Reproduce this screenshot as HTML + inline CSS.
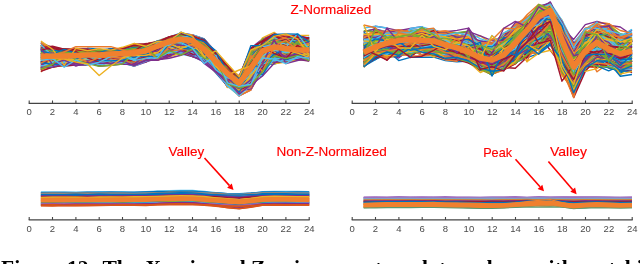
<!DOCTYPE html>
<html><head><meta charset="utf-8"><style>
html,body{margin:0;padding:0;background:#fff;width:640px;height:264px;overflow:hidden}
svg{display:block;will-change:transform}
</style></head><body>
<svg width="640" height="264" viewBox="0 0 640 264">
<g stroke-linejoin="round">
<polyline points="40.9,59.4 52.5,57.0 64.2,54.3 75.9,57.4 87.5,56.1 99.2,54.5 110.9,55.4 122.5,54.5 134.2,54.0 145.9,51.0 157.5,47.8 169.2,41.0 180.9,39.2 192.5,40.1 204.2,51.3 215.9,61.8 227.5,73.2 239.2,82.1 250.9,67.4 262.5,51.6 274.2,46.6 285.9,52.3 297.5,52.1 309.2,43.2" stroke="#0072BD" stroke-width="1.4" fill="none"/>
<polyline points="40.9,62.2 52.5,59.5 64.2,60.5 75.9,59.8 87.5,63.3 99.2,56.8 110.9,57.3 122.5,61.2 134.2,59.9 145.9,56.8 157.5,50.2 169.2,42.7 180.9,45.7 192.5,47.3 204.2,51.5 215.9,64.6 227.5,78.4 239.2,85.8 250.9,76.5 262.5,61.6 274.2,54.0 285.9,52.6 297.5,55.0 309.2,56.4" stroke="#EA7A2C" stroke-width="1.4" fill="none"/>
<polyline points="40.9,62.0 52.5,63.3 64.2,60.2 75.9,62.1 87.5,58.0 99.2,62.0 110.9,59.1 122.5,56.1 134.2,58.9 145.9,56.7 157.5,54.0 169.2,46.4 180.9,43.6 192.5,49.4 204.2,54.8 215.9,68.0 227.5,81.9 239.2,85.4 250.9,80.5 262.5,70.0 274.2,54.8 285.9,53.3 297.5,56.3 309.2,56.2" stroke="#EDB120" stroke-width="1.4" fill="none"/>
<polyline points="40.9,60.3 52.5,56.2 64.2,58.9 75.9,57.6 87.5,59.7 99.2,58.5 110.9,53.9 122.5,54.3 134.2,59.4 145.9,55.8 157.5,48.6 169.2,46.2 180.9,45.2 192.5,47.0 204.2,55.6 215.9,65.7 227.5,77.2 239.2,86.4 250.9,79.5 262.5,49.3 274.2,51.8 285.9,52.8 297.5,50.3 309.2,54.2" stroke="#7E2F8E" stroke-width="1.4" fill="none"/>
<polyline points="40.9,57.3 52.5,54.5 64.2,56.1 75.9,56.6 87.5,54.7 99.2,53.2 110.9,51.9 122.5,55.7 134.2,51.8 145.9,48.9 157.5,45.5 169.2,40.9 180.9,40.0 192.5,39.9 204.2,48.2 215.9,59.0 227.5,73.2 239.2,80.7 250.9,68.2 262.5,55.5 274.2,41.4 285.9,40.5 297.5,50.0 309.2,54.2" stroke="#77AC30" stroke-width="1.4" fill="none"/>
<polyline points="40.9,43.4 52.5,50.2 64.2,49.9 75.9,50.3 87.5,50.4 99.2,51.4 110.9,50.1 122.5,50.0 134.2,46.7 145.9,44.9 157.5,42.2 169.2,37.5 180.9,34.9 192.5,35.4 204.2,39.8 215.9,57.6 227.5,67.4 239.2,78.0 250.9,56.0 262.5,41.6 274.2,37.3 285.9,40.5 297.5,40.6 309.2,37.9" stroke="#4DBEEE" stroke-width="1.4" fill="none"/>
<polyline points="40.9,52.4 52.5,52.1 64.2,53.5 75.9,53.8 87.5,56.5 99.2,52.5 110.9,53.3 122.5,50.2 134.2,51.5 145.9,50.7 157.5,44.9 169.2,40.2 180.9,38.5 192.5,40.3 204.2,49.0 215.9,64.0 227.5,72.4 239.2,80.9 250.9,64.0 262.5,48.7 274.2,45.0 285.9,46.1 297.5,47.9 309.2,43.4" stroke="#A2142F" stroke-width="1.4" fill="none"/>
<polyline points="40.9,67.9 52.5,62.8 64.2,65.8 75.9,65.0 87.5,64.5 99.2,63.8 110.9,60.6 122.5,63.0 134.2,66.0 145.9,57.7 157.5,55.7 169.2,54.5 180.9,47.2 192.5,54.6 204.2,59.0 215.9,73.0 227.5,86.0 239.2,87.0 250.9,86.9 262.5,64.1 274.2,64.0 285.9,60.4 297.5,59.1 309.2,57.0" stroke="#0072BD" stroke-width="1.4" fill="none"/>
<polyline points="40.9,72.0 52.5,60.8 64.2,63.2 75.9,60.4 87.5,61.5 99.2,59.0 110.9,64.0 122.5,57.9 134.2,60.7 145.9,59.2 157.5,53.3 169.2,50.6 180.9,47.2 192.5,50.5 204.2,54.7 215.9,68.0 227.5,81.1 239.2,90.6 250.9,82.6 262.5,65.8 274.2,60.6 285.9,56.4 297.5,55.9 309.2,55.7" stroke="#EA7A2C" stroke-width="1.4" fill="none"/>
<polyline points="40.9,44.9 52.5,51.2 64.2,50.3 75.9,50.7 87.5,51.9 99.2,52.0 110.9,50.7 122.5,48.1 134.2,48.7 145.9,47.1 157.5,41.7 169.2,39.6 180.9,34.7 192.5,36.0 204.2,43.6 215.9,55.6 227.5,68.9 239.2,76.7 250.9,63.5 262.5,42.5 274.2,35.4 285.9,42.5 297.5,40.5 309.2,43.2" stroke="#EDB120" stroke-width="1.4" fill="none"/>
<polyline points="40.9,47.8 52.5,50.3 64.2,50.6 75.9,52.4 87.5,50.7 99.2,50.2 110.9,51.0 122.5,50.6 134.2,47.4 145.9,45.4 157.5,43.5 169.2,37.1 180.9,34.1 192.5,37.1 204.2,40.1 215.9,55.7 227.5,68.1 239.2,79.9 250.9,52.0 262.5,42.1 274.2,39.8 285.9,35.5 297.5,50.0 309.2,40.1" stroke="#7E2F8E" stroke-width="1.4" fill="none"/>
<polyline points="40.9,58.2 52.5,55.3 64.2,53.1 75.9,56.1 87.5,56.1 99.2,54.1 110.9,53.4 122.5,53.9 134.2,50.9 145.9,51.0 157.5,45.9 169.2,40.7 180.9,37.2 192.5,39.9 204.2,47.0 215.9,63.1 227.5,73.2 239.2,84.2 250.9,67.3 262.5,50.9 274.2,44.2 285.9,49.5 297.5,52.8 309.2,48.4" stroke="#77AC30" stroke-width="1.4" fill="none"/>
<polyline points="40.9,58.1 52.5,56.4 64.2,56.0 75.9,57.1 87.5,55.8 99.2,59.2 110.9,55.4 122.5,55.5 134.2,57.2 145.9,51.6 157.5,51.9 169.2,41.7 180.9,39.1 192.5,41.5 204.2,50.9 215.9,60.1 227.5,75.1 239.2,81.6 250.9,77.1 262.5,54.0 274.2,47.1 285.9,47.9 297.5,50.6 309.2,51.0" stroke="#4DBEEE" stroke-width="1.4" fill="none"/>
<polyline points="40.9,55.9 52.5,57.1 64.2,56.3 75.9,58.6 87.5,58.7 99.2,56.4 110.9,56.3 122.5,52.9 134.2,56.4 145.9,52.2 157.5,49.3 169.2,48.4 180.9,37.3 192.5,43.5 204.2,48.6 215.9,64.4 227.5,72.4 239.2,83.5 250.9,71.9 262.5,57.5 274.2,49.6 285.9,48.2 297.5,50.3 309.2,53.5" stroke="#A2142F" stroke-width="1.4" fill="none"/>
<polyline points="40.9,48.8 52.5,55.5 64.2,55.0 75.9,55.2 87.5,53.3 99.2,54.7 110.9,51.8 122.5,53.0 134.2,50.3 145.9,50.1 157.5,45.9 169.2,39.9 180.9,37.8 192.5,39.3 204.2,49.7 215.9,60.7 227.5,69.5 239.2,82.1 250.9,66.5 262.5,56.1 274.2,39.7 285.9,44.2 297.5,50.4 309.2,43.6" stroke="#0072BD" stroke-width="1.4" fill="none"/>
<polyline points="40.9,70.5 52.5,67.0 64.2,62.7 75.9,64.1 87.5,63.2 99.2,65.0 110.9,62.0 122.5,63.0 134.2,61.1 145.9,59.3 157.5,56.9 169.2,56.5 180.9,52.8 192.5,50.9 204.2,61.2 215.9,72.5 227.5,83.2 239.2,92.7 250.9,84.8 262.5,62.5 274.2,61.3 285.9,59.9 297.5,56.0 309.2,60.4" stroke="#EA7A2C" stroke-width="1.4" fill="none"/>
<polyline points="40.9,50.6 52.5,51.8 64.2,56.8 75.9,51.3 87.5,53.8 99.2,54.2 110.9,52.8 122.5,53.1 134.2,48.6 145.9,45.5 157.5,45.2 169.2,39.0 180.9,36.9 192.5,37.4 204.2,48.3 215.9,60.1 227.5,69.6 239.2,82.0 250.9,62.1 262.5,46.8 274.2,43.0 285.9,43.8 297.5,47.1 309.2,46.6" stroke="#EDB120" stroke-width="1.4" fill="none"/>
<polyline points="40.9,57.4 52.5,53.3 64.2,55.4 75.9,55.1 87.5,56.5 99.2,53.5 110.9,56.1 122.5,53.0 134.2,51.5 145.9,48.8 157.5,45.9 169.2,41.0 180.9,37.0 192.5,38.5 204.2,46.8 215.9,58.9 227.5,74.4 239.2,84.7 250.9,68.7 262.5,50.1 274.2,44.0 285.9,46.8 297.5,50.3 309.2,53.1" stroke="#7E2F8E" stroke-width="1.4" fill="none"/>
<polyline points="40.9,57.1 52.5,57.1 64.2,56.0 75.9,55.1 87.5,55.6 99.2,56.4 110.9,58.6 122.5,54.6 134.2,57.8 145.9,55.8 157.5,47.6 169.2,47.8 180.9,42.8 192.5,40.7 204.2,51.4 215.9,62.7 227.5,74.1 239.2,83.7 250.9,70.8 262.5,55.6 274.2,46.0 285.9,49.8 297.5,47.0 309.2,51.6" stroke="#77AC30" stroke-width="1.4" fill="none"/>
<polyline points="40.9,54.9 52.5,55.1 64.2,55.8 75.9,53.7 87.5,53.8 99.2,54.7 110.9,54.6 122.5,53.2 134.2,57.7 145.9,49.6 157.5,46.8 169.2,43.2 180.9,38.2 192.5,38.8 204.2,45.5 215.9,60.4 227.5,74.5 239.2,82.4 250.9,65.8 262.5,48.3 274.2,46.6 285.9,41.1 297.5,48.6 309.2,48.2" stroke="#4DBEEE" stroke-width="1.4" fill="none"/>
<polyline points="40.9,70.1 52.5,57.8 64.2,58.3 75.9,57.4 87.5,61.7 99.2,57.7 110.9,59.8 122.5,58.9 134.2,59.4 145.9,52.8 157.5,50.5 169.2,53.2 180.9,42.0 192.5,44.9 204.2,54.6 215.9,68.5 227.5,79.7 239.2,90.7 250.9,73.0 262.5,66.8 274.2,56.5 285.9,50.2 297.5,57.1 309.2,59.9" stroke="#A2142F" stroke-width="1.4" fill="none"/>
<polyline points="40.9,63.0 52.5,63.6 64.2,57.2 75.9,55.6 87.5,56.5 99.2,58.0 110.9,57.0 122.5,58.6 134.2,59.0 145.9,52.5 157.5,53.3 169.2,53.3 180.9,48.9 192.5,50.3 204.2,54.7 215.9,68.5 227.5,76.2 239.2,90.3 250.9,76.7 262.5,66.9 274.2,55.6 285.9,51.1 297.5,54.2 309.2,57.2" stroke="#0072BD" stroke-width="1.4" fill="none"/>
<polyline points="40.9,47.9 52.5,49.3 64.2,50.3 75.9,53.4 87.5,53.5 99.2,52.9 110.9,51.7 122.5,50.7 134.2,49.0 145.9,46.3 157.5,44.3 169.2,40.2 180.9,37.2 192.5,37.1 204.2,44.3 215.9,56.3 227.5,72.2 239.2,79.7 250.9,50.2 262.5,45.8 274.2,45.2 285.9,43.6 297.5,45.1 309.2,43.4" stroke="#EA7A2C" stroke-width="1.4" fill="none"/>
<polyline points="40.9,64.3 52.5,62.8 64.2,64.4 75.9,64.3 87.5,65.0 99.2,63.0 110.9,64.0 122.5,61.2 134.2,62.4 145.9,62.0 157.5,55.6 169.2,46.4 180.9,48.9 192.5,54.7 204.2,52.6 215.9,70.6 227.5,83.5 239.2,90.5 250.9,80.5 262.5,70.3 274.2,59.9 285.9,62.0 297.5,58.9 309.2,56.0" stroke="#EDB120" stroke-width="1.4" fill="none"/>
<polyline points="40.9,60.4 52.5,61.4 64.2,57.9 75.9,57.2 87.5,59.8 99.2,56.1 110.9,54.5 122.5,52.6 134.2,53.1 145.9,56.9 157.5,45.1 169.2,43.3 180.9,38.2 192.5,42.7 204.2,53.1 215.9,62.2 227.5,76.7 239.2,86.3 250.9,72.4 262.5,62.4 274.2,51.6 285.9,49.2 297.5,49.7 309.2,49.3" stroke="#7E2F8E" stroke-width="1.4" fill="none"/>
<polyline points="40.9,64.3 52.5,67.0 64.2,65.3 75.9,60.5 87.5,60.0 99.2,64.0 110.9,55.9 122.5,58.1 134.2,62.8 145.9,55.0 157.5,52.6 169.2,49.0 180.9,49.6 192.5,50.0 204.2,57.6 215.9,69.4 227.5,80.6 239.2,93.2 250.9,77.2 262.5,58.0 274.2,50.6 285.9,51.8 297.5,54.3 309.2,58.5" stroke="#77AC30" stroke-width="1.4" fill="none"/>
<polyline points="40.9,58.3 52.5,56.3 64.2,57.3 75.9,57.0 87.5,56.2 99.2,54.7 110.9,55.4 122.5,57.7 134.2,51.3 145.9,52.8 157.5,45.1 169.2,45.7 180.9,40.6 192.5,39.5 204.2,52.7 215.9,68.4 227.5,76.7 239.2,89.1 250.9,72.9 262.5,48.7 274.2,52.7 285.9,50.6 297.5,49.2 309.2,54.3" stroke="#4DBEEE" stroke-width="1.4" fill="none"/>
<polyline points="40.9,49.6 52.5,53.8 64.2,52.0 75.9,53.7 87.5,51.5 99.2,53.3 110.9,50.9 122.5,53.0 134.2,50.0 145.9,50.0 157.5,43.2 169.2,39.3 180.9,37.8 192.5,35.3 204.2,43.1 215.9,59.7 227.5,70.9 239.2,81.6 250.9,58.8 262.5,47.6 274.2,39.9 285.9,39.8 297.5,39.3 309.2,43.4" stroke="#A2142F" stroke-width="1.4" fill="none"/>
<polyline points="40.9,62.7 52.5,54.2 64.2,57.3 75.9,59.5 87.5,60.9 99.2,59.1 110.9,57.5 122.5,54.2 134.2,65.1 145.9,54.2 157.5,58.1 169.2,54.1 180.9,47.9 192.5,47.1 204.2,56.4 215.9,64.9 227.5,80.8 239.2,89.9 250.9,82.0 262.5,69.0 274.2,61.9 285.9,54.6 297.5,57.0 309.2,54.1" stroke="#0072BD" stroke-width="1.4" fill="none"/>
<polyline points="40.9,45.1 52.5,47.0 64.2,52.5 75.9,52.1 87.5,52.3 99.2,50.8 110.9,50.8 122.5,49.0 134.2,45.1 145.9,46.6 157.5,42.8 169.2,37.4 180.9,35.6 192.5,35.0 204.2,41.8 215.9,53.6 227.5,66.6 239.2,76.6 250.9,57.8 262.5,43.9 274.2,41.0 285.9,39.7 297.5,36.1 309.2,39.9" stroke="#EA7A2C" stroke-width="1.4" fill="none"/>
<polyline points="40.9,56.5 52.5,57.7 64.2,55.8 75.9,54.1 87.5,54.0 99.2,54.7 110.9,52.1 122.5,53.2 134.2,52.6 145.9,49.3 157.5,45.1 169.2,41.3 180.9,37.7 192.5,39.1 204.2,50.3 215.9,61.0 227.5,76.5 239.2,81.0 250.9,59.0 262.5,53.4 274.2,48.7 285.9,45.4 297.5,44.4 309.2,48.6" stroke="#EDB120" stroke-width="1.4" fill="none"/>
<polyline points="40.9,68.4 52.5,60.4 64.2,63.9 75.9,59.4 87.5,62.8 99.2,65.0 110.9,61.8 122.5,62.9 134.2,62.1 145.9,58.1 157.5,53.4 169.2,56.5 180.9,51.3 192.5,56.5 204.2,56.9 215.9,70.5 227.5,84.1 239.2,96.0 250.9,90.0 262.5,68.5 274.2,57.2 285.9,55.0 297.5,59.5 309.2,58.9" stroke="#7E2F8E" stroke-width="1.4" fill="none"/>
<polyline points="40.9,54.6 52.5,49.6 64.2,52.7 75.9,56.1 87.5,54.7 99.2,54.4 110.9,52.4 122.5,53.5 134.2,56.0 145.9,48.2 157.5,45.4 169.2,40.6 180.9,39.0 192.5,39.8 204.2,47.9 215.9,58.6 227.5,72.4 239.2,81.3 250.9,64.9 262.5,49.3 274.2,47.1 285.9,45.3 297.5,47.2 309.2,51.0" stroke="#77AC30" stroke-width="1.4" fill="none"/>
<polyline points="40.9,50.4 52.5,53.8 64.2,53.6 75.9,53.1 87.5,52.9 99.2,51.2 110.9,52.5 122.5,52.9 134.2,50.7 145.9,46.0 157.5,44.3 169.2,39.0 180.9,36.5 192.5,38.5 204.2,42.9 215.9,60.3 227.5,70.1 239.2,81.4 250.9,62.7 262.5,49.5 274.2,45.0 285.9,39.6 297.5,44.5 309.2,39.4" stroke="#4DBEEE" stroke-width="1.4" fill="none"/>
<polyline points="40.9,63.8 52.5,61.7 64.2,61.9 75.9,57.9 87.5,59.0 99.2,58.5 110.9,59.8 122.5,59.7 134.2,56.4 145.9,62.0 157.5,50.6 169.2,45.4 180.9,45.9 192.5,48.2 204.2,55.0 215.9,63.8 227.5,81.3 239.2,87.5 250.9,82.1 262.5,66.3 274.2,48.3 285.9,50.4 297.5,51.3 309.2,54.2" stroke="#A2142F" stroke-width="1.4" fill="none"/>
<polyline points="40.9,64.4 52.5,59.2 64.2,61.4 75.9,62.5 87.5,56.9 99.2,59.1 110.9,59.0 122.5,57.6 134.2,58.4 145.9,59.8 157.5,56.0 169.2,50.9 180.9,43.7 192.5,54.9 204.2,56.1 215.9,65.4 227.5,78.3 239.2,87.6 250.9,87.3 262.5,63.4 274.2,54.9 285.9,48.8 297.5,55.7 309.2,52.7" stroke="#0072BD" stroke-width="1.4" fill="none"/>
<polyline points="40.9,53.8 52.5,51.1 64.2,54.9 75.9,54.9 87.5,50.9 99.2,52.9 110.9,50.8 122.5,51.7 134.2,51.8 145.9,46.7 157.5,46.6 169.2,39.9 180.9,35.8 192.5,38.6 204.2,47.8 215.9,55.9 227.5,70.8 239.2,78.8 250.9,66.4 262.5,47.5 274.2,41.7 285.9,47.0 297.5,41.6 309.2,44.8" stroke="#EA7A2C" stroke-width="1.4" fill="none"/>
<polyline points="40.9,46.1 52.5,51.4 64.2,51.2 75.9,49.9 87.5,50.3 99.2,50.7 110.9,50.0 122.5,48.6 134.2,45.5 145.9,44.0 157.5,42.5 169.2,38.6 180.9,35.7 192.5,35.0 204.2,43.6 215.9,54.6 227.5,65.0 239.2,78.0 250.9,56.7 262.5,43.5 274.2,39.4 285.9,41.5 297.5,42.0 309.2,40.5" stroke="#EDB120" stroke-width="1.4" fill="none"/>
<polyline points="40.9,47.6 52.5,51.8 64.2,51.9 75.9,53.2 87.5,53.0 99.2,52.1 110.9,53.4 122.5,49.7 134.2,50.4 145.9,46.8 157.5,42.7 169.2,39.9 180.9,35.4 192.5,38.7 204.2,41.9 215.9,56.9 227.5,67.9 239.2,79.2 250.9,56.6 262.5,42.4 274.2,42.3 285.9,38.8 297.5,40.0 309.2,45.9" stroke="#7E2F8E" stroke-width="1.4" fill="none"/>
<polyline points="40.9,60.3 52.5,58.0 64.2,61.7 75.9,54.7 87.5,54.8 99.2,54.5 110.9,56.9 122.5,55.2 134.2,57.4 145.9,54.2 157.5,47.0 169.2,41.4 180.9,38.8 192.5,49.4 204.2,53.4 215.9,64.2 227.5,74.1 239.2,84.0 250.9,69.0 262.5,52.3 274.2,42.2 285.9,49.9 297.5,50.4 309.2,51.9" stroke="#77AC30" stroke-width="1.4" fill="none"/>
<polyline points="40.9,46.8 52.5,47.2 64.2,51.0 75.9,49.0 87.5,49.0 99.2,51.8 110.9,49.0 122.5,48.4 134.2,46.8 145.9,44.0 157.5,42.3 169.2,37.0 180.9,33.0 192.5,35.0 204.2,39.0 215.9,53.2 227.5,65.5 239.2,77.3 250.9,48.0 262.5,46.6 274.2,35.4 285.9,37.0 297.5,38.6 309.2,38.0" stroke="#4DBEEE" stroke-width="1.4" fill="none"/>
<polyline points="40.9,53.1 52.5,55.2 64.2,55.1 75.9,55.0 87.5,52.7 99.2,52.5 110.9,55.4 122.5,51.9 134.2,51.6 145.9,49.9 157.5,46.3 169.2,39.1 180.9,37.0 192.5,38.6 204.2,46.1 215.9,54.4 227.5,71.1 239.2,77.1 250.9,63.9 262.5,49.1 274.2,45.1 285.9,41.9 297.5,48.9 309.2,44.3" stroke="#A2142F" stroke-width="1.4" fill="none"/>
<polyline points="40.9,48.9 52.5,50.7 64.2,53.7 75.9,54.3 87.5,50.3 99.2,52.2 110.9,53.1 122.5,51.8 134.2,50.8 145.9,46.3 157.5,45.2 169.2,38.5 180.9,37.3 192.5,40.0 204.2,49.8 215.9,59.1 227.5,72.0 239.2,79.7 250.9,59.0 262.5,49.5 274.2,42.4 285.9,43.6 297.5,40.8 309.2,45.8" stroke="#0072BD" stroke-width="1.4" fill="none"/>
<polyline points="40.9,66.7 52.5,63.9 64.2,66.0 75.9,63.6 87.5,62.6 99.2,60.9 110.9,60.9 122.5,60.8 134.2,66.0 145.9,58.5 157.5,60.0 169.2,51.0 180.9,50.2 192.5,56.2 204.2,59.1 215.9,69.0 227.5,83.4 239.2,94.8 250.9,78.4 262.5,70.1 274.2,60.5 285.9,58.4 297.5,59.1 309.2,57.7" stroke="#EA7A2C" stroke-width="1.4" fill="none"/>
<polyline points="40.9,50.7 52.5,53.2 64.2,52.7 75.9,54.7 87.5,51.4 99.2,54.0 110.9,51.0 122.5,51.0 134.2,50.0 145.9,50.6 157.5,44.8 169.2,39.3 180.9,38.3 192.5,37.9 204.2,43.4 215.9,58.3 227.5,70.0 239.2,81.4 250.9,57.3 262.5,46.8 274.2,43.1 285.9,43.7 297.5,43.7 309.2,42.7" stroke="#EDB120" stroke-width="1.4" fill="none"/>
<polyline points="40.9,49.5 52.5,51.7 64.2,51.8 75.9,52.1 87.5,50.6 99.2,51.9 110.9,52.1 122.5,50.7 134.2,49.9 145.9,47.6 157.5,44.7 169.2,39.0 180.9,33.9 192.5,38.1 204.2,43.6 215.9,54.6 227.5,70.1 239.2,79.7 250.9,59.2 262.5,43.8 274.2,40.6 285.9,42.3 297.5,47.4 309.2,41.3" stroke="#7E2F8E" stroke-width="1.4" fill="none"/>
<polyline points="40.9,68.1 52.5,59.7 64.2,59.6 75.9,65.0 87.5,58.2 99.2,62.9 110.9,59.1 122.5,58.5 134.2,56.6 145.9,56.3 157.5,57.7 169.2,47.5 180.9,51.0 192.5,52.3 204.2,62.0 215.9,68.2 227.5,85.1 239.2,94.1 250.9,81.6 262.5,59.6 274.2,63.6 285.9,54.0 297.5,55.5 309.2,59.4" stroke="#77AC30" stroke-width="1.4" fill="none"/>
<polyline points="40.9,46.2 52.5,50.2 64.2,51.6 75.9,53.3 87.5,54.5 99.2,49.3 110.9,52.0 122.5,48.0 134.2,48.1 145.9,45.3 157.5,45.1 169.2,39.1 180.9,34.7 192.5,36.8 204.2,42.2 215.9,56.4 227.5,68.3 239.2,79.9 250.9,62.6 262.5,45.8 274.2,36.3 285.9,36.8 297.5,39.4 309.2,45.2" stroke="#4DBEEE" stroke-width="1.4" fill="none"/>
<polyline points="40.9,65.6 52.5,64.2 64.2,60.4 75.9,60.2 87.5,63.2 99.2,61.6 110.9,60.3 122.5,61.0 134.2,60.8 145.9,57.3 157.5,54.8 169.2,54.1 180.9,50.1 192.5,48.2 204.2,57.7 215.9,71.3 227.5,86.0 239.2,89.4 250.9,85.3 262.5,67.7 274.2,62.1 285.9,59.4 297.5,59.5 309.2,59.1" stroke="#A2142F" stroke-width="1.4" fill="none"/>
<polyline points="40.9,55.5 52.5,57.3 64.2,57.2 75.9,60.4 87.5,58.7 99.2,53.8 110.9,55.1 122.5,52.3 134.2,50.5 145.9,52.8 157.5,48.1 169.2,40.8 180.9,44.7 192.5,39.6 204.2,47.4 215.9,63.4 227.5,74.5 239.2,83.1 250.9,68.5 262.5,53.1 274.2,47.2 285.9,48.5 297.5,45.1 309.2,47.0" stroke="#0072BD" stroke-width="1.4" fill="none"/>
<polyline points="40.9,49.5 52.5,53.4 64.2,55.2 75.9,52.7 87.5,53.2 99.2,55.5 110.9,52.9 122.5,53.6 134.2,52.5 145.9,49.3 157.5,44.1 169.2,39.1 180.9,35.6 192.5,39.0 204.2,46.7 215.9,57.7 227.5,71.8 239.2,79.6 250.9,65.2 262.5,46.7 274.2,42.2 285.9,43.8 297.5,44.4 309.2,51.5" stroke="#EA7A2C" stroke-width="1.4" fill="none"/>
<polyline points="40.9,69.8 52.5,67.0 64.2,65.6 75.9,62.7 87.5,65.0 99.2,61.1 110.9,59.6 122.5,62.4 134.2,59.9 145.9,54.6 157.5,60.0 169.2,56.1 180.9,53.5 192.5,52.1 204.2,60.2 215.9,68.7 227.5,86.0 239.2,95.7 250.9,89.3 262.5,61.8 274.2,63.7 285.9,62.0 297.5,59.5 309.2,60.8" stroke="#EDB120" stroke-width="1.4" fill="none"/>
<polyline points="40.9,43.1 52.5,48.2 64.2,50.2 75.9,50.0 87.5,49.2 99.2,51.6 110.9,49.0 122.5,48.5 134.2,44.5 145.9,46.1 157.5,42.9 169.2,38.6 180.9,34.6 192.5,35.0 204.2,44.4 215.9,53.9 227.5,65.7 239.2,76.7 250.9,48.6 262.5,41.2 274.2,36.1 285.9,35.9 297.5,35.5 309.2,38.2" stroke="#7E2F8E" stroke-width="1.4" fill="none"/>
<polyline points="40.9,62.6 52.5,58.8 64.2,59.8 75.9,60.2 87.5,56.9 99.2,60.8 110.9,53.5 122.5,53.9 134.2,54.4 145.9,49.4 157.5,47.2 169.2,49.6 180.9,47.2 192.5,45.4 204.2,57.4 215.9,65.4 227.5,75.9 239.2,87.4 250.9,73.7 262.5,61.9 274.2,46.8 285.9,55.1 297.5,51.9 309.2,55.1" stroke="#77AC30" stroke-width="1.4" fill="none"/>
<polyline points="40.9,52.1 52.5,53.8 64.2,55.6 75.9,52.4 87.5,56.0 99.2,54.2 110.9,52.3 122.5,53.7 134.2,51.2 145.9,50.7 157.5,49.3 169.2,41.2 180.9,37.2 192.5,38.8 204.2,48.3 215.9,59.8 227.5,70.1 239.2,80.4 250.9,66.0 262.5,56.9 274.2,37.1 285.9,47.4 297.5,46.0 309.2,49.0" stroke="#4DBEEE" stroke-width="1.4" fill="none"/>
<polyline points="40.9,69.3 52.5,62.7 64.2,61.4 75.9,59.7 87.5,65.0 99.2,62.7 110.9,61.1 122.5,60.7 134.2,60.1 145.9,60.6 157.5,60.0 169.2,56.5 180.9,46.7 192.5,56.5 204.2,57.8 215.9,66.5 227.5,80.6 239.2,91.1 250.9,85.9 262.5,66.2 274.2,55.7 285.9,58.8 297.5,59.5 309.2,57.4" stroke="#A2142F" stroke-width="1.4" fill="none"/>
<polyline points="40.9,61.2 52.5,65.0 64.2,55.3 75.9,60.3 87.5,55.3 99.2,56.7 110.9,56.7 122.5,62.3 134.2,54.7 145.9,50.1 157.5,53.6 169.2,43.3 180.9,42.8 192.5,45.0 204.2,53.3 215.9,64.4 227.5,77.7 239.2,87.7 250.9,78.0 262.5,56.0 274.2,49.3 285.9,49.5 297.5,53.8 309.2,53.0" stroke="#0072BD" stroke-width="1.4" fill="none"/>
<polyline points="40.9,49.5 52.5,53.2 64.2,52.0 75.9,52.5 87.5,49.9 99.2,50.0 110.9,50.6 122.5,48.8 134.2,49.0 145.9,44.8 157.5,43.0 169.2,37.0 180.9,34.0 192.5,36.8 204.2,42.5 215.9,52.3 227.5,68.5 239.2,80.1 250.9,58.3 262.5,42.1 274.2,37.5 285.9,37.4 297.5,42.9 309.2,45.8" stroke="#EA7A2C" stroke-width="1.4" fill="none"/>
<polyline points="40.9,49.6 52.5,54.8 64.2,55.9 75.9,50.9 87.5,54.2 99.2,57.7 110.9,54.1 122.5,53.3 134.2,52.3 145.9,51.3 157.5,44.3 169.2,40.1 180.9,38.8 192.5,38.9 204.2,48.4 215.9,56.4 227.5,73.4 239.2,83.1 250.9,65.0 262.5,49.5 274.2,49.8 285.9,43.6 297.5,45.1 309.2,45.1" stroke="#EDB120" stroke-width="1.4" fill="none"/>
<polyline points="40.9,42.7 52.5,47.6 64.2,49.2 75.9,49.0 87.5,49.0 99.2,51.4 110.9,49.7 122.5,48.6 134.2,45.9 145.9,44.9 157.5,42.5 169.2,38.2 180.9,33.2 192.5,35.0 204.2,39.0 215.9,52.0 227.5,68.7 239.2,76.0 250.9,48.0 262.5,39.0 274.2,34.0 285.9,38.4 297.5,35.5 309.2,40.4" stroke="#7E2F8E" stroke-width="1.4" fill="none"/>
<polyline points="40.9,58.5 52.5,59.4 64.2,60.5 75.9,56.9 87.5,52.9 99.2,53.8 110.9,53.6 122.5,56.3 134.2,53.2 145.9,52.0 157.5,45.2 169.2,41.6 180.9,39.6 192.5,39.3 204.2,49.9 215.9,62.6 227.5,72.2 239.2,84.1 250.9,72.6 262.5,49.7 274.2,45.4 285.9,46.1 297.5,46.4 309.2,48.8" stroke="#77AC30" stroke-width="1.4" fill="none"/>
<polyline points="40.9,55.3 52.5,53.0 64.2,53.2 75.9,52.0 87.5,52.4 99.2,54.0 110.9,51.6 122.5,51.5 134.2,54.2 145.9,50.6 157.5,44.1 169.2,41.1 180.9,37.0 192.5,41.9 204.2,45.8 215.9,59.4 227.5,74.0 239.2,80.2 250.9,68.5 262.5,46.2 274.2,44.5 285.9,44.6 297.5,46.3 309.2,47.3" stroke="#4DBEEE" stroke-width="1.4" fill="none"/>
<polyline points="40.9,50.8 52.5,55.6 64.2,55.5 75.9,55.9 87.5,55.6 99.2,52.1 110.9,54.4 122.5,54.0 134.2,50.3 145.9,50.7 157.5,47.1 169.2,40.1 180.9,36.2 192.5,38.9 204.2,53.8 215.9,59.9 227.5,69.6 239.2,81.2 250.9,59.8 262.5,47.5 274.2,44.5 285.9,39.1 297.5,48.0 309.2,50.8" stroke="#A2142F" stroke-width="1.4" fill="none"/>
<polyline points="40.9,46.8 52.5,51.9 64.2,49.8 75.9,49.8 87.5,49.6 99.2,51.0 110.9,51.3 122.5,50.0 134.2,48.6 145.9,47.6 157.5,43.4 169.2,38.0 180.9,35.0 192.5,38.4 204.2,40.7 215.9,55.1 227.5,67.5 239.2,78.4 250.9,51.1 262.5,40.2 274.2,45.5 285.9,42.8 297.5,38.8 309.2,41.7" stroke="#0072BD" stroke-width="1.4" fill="none"/>
<polyline points="40.9,67.4 52.5,65.9 64.2,62.5 75.9,62.2 87.5,62.6 99.2,61.8 110.9,56.8 122.5,60.9 134.2,63.8 145.9,60.5 157.5,54.1 169.2,54.2 180.9,51.3 192.5,47.2 204.2,53.7 215.9,71.5 227.5,80.8 239.2,95.7 250.9,90.0 262.5,67.5 274.2,57.8 285.9,58.9 297.5,58.6 309.2,56.0" stroke="#EA7A2C" stroke-width="1.4" fill="none"/>
<polyline points="40.9,56.7 52.5,55.4 64.2,49.5 75.9,50.2 87.5,49.4 99.2,52.7 110.9,50.5 122.5,51.9 134.2,43.5 145.9,52.0 157.5,42.4 169.2,40.1 180.9,34.7 192.5,35.8 204.2,44.9 215.9,59.1 227.5,67.0 239.2,77.8 250.9,61.5 262.5,37.8 274.2,32.4 285.9,42.4 297.5,35.4 309.2,35.4" stroke="#EDB120" stroke-width="1.4" fill="none"/>
<polyline points="40.9,55.5 52.5,51.7 64.2,51.9 75.9,57.2 87.5,61.1 99.2,55.5 110.9,53.0 122.5,57.0 134.2,59.8 145.9,50.9 157.5,52.1 169.2,51.8 180.9,40.2 192.5,39.2 204.2,53.7 215.9,64.8 227.5,82.4 239.2,79.7 250.9,64.7 262.5,47.9 274.2,37.9 285.9,51.6 297.5,54.1 309.2,47.3" stroke="#7E2F8E" stroke-width="1.4" fill="none"/>
<polyline points="40.9,61.7 52.5,58.7 64.2,57.3 75.9,59.4 87.5,50.6 99.2,57.3 110.9,56.3 122.5,48.2 134.2,54.3 145.9,49.4 157.5,50.5 169.2,40.3 180.9,38.8 192.5,42.1 204.2,44.1 215.9,64.1 227.5,72.4 239.2,85.3 250.9,61.3 262.5,62.8 274.2,50.9 285.9,46.4 297.5,52.3 309.2,56.1" stroke="#77AC30" stroke-width="1.4" fill="none"/>
<polyline points="40.9,45.5 52.5,60.7 64.2,58.2 75.9,55.1 87.5,51.9 99.2,61.2 110.9,50.8 122.5,56.1 134.2,61.3 145.9,45.3 157.5,45.2 169.2,38.5 180.9,40.9 192.5,52.4 204.2,62.0 215.9,52.9 227.5,71.0 239.2,87.4 250.9,85.1 262.5,56.0 274.2,42.0 285.9,50.3 297.5,49.7 309.2,48.5" stroke="#4DBEEE" stroke-width="1.4" fill="none"/>
<polyline points="40.9,57.9 52.5,56.6 64.2,55.0 75.9,54.1 87.5,50.5 99.2,52.9 110.9,59.0 122.5,52.5 134.2,46.0 145.9,57.1 157.5,48.3 169.2,55.8 180.9,38.9 192.5,38.7 204.2,40.8 215.9,67.9 227.5,87.5 239.2,79.4 250.9,59.5 262.5,55.9 274.2,40.3 285.9,45.4 297.5,46.0 309.2,49.9" stroke="#A2142F" stroke-width="1.4" fill="none"/>
<polyline points="40.9,53.0 52.5,58.1 64.2,52.7 75.9,54.8 87.5,48.3 99.2,49.1 110.9,55.3 122.5,50.5 134.2,53.3 145.9,50.8 157.5,51.5 169.2,43.7 180.9,42.9 192.5,38.7 204.2,43.0 215.9,55.5 227.5,69.2 239.2,77.2 250.9,57.2 262.5,47.2 274.2,45.2 285.9,42.8 297.5,33.8 309.2,46.1" stroke="#0072BD" stroke-width="1.4" fill="none"/>
<polyline points="40.9,61.8 52.5,57.0 64.2,52.4 75.9,51.9 87.5,63.1 99.2,56.8 110.9,61.2 122.5,61.8 134.2,47.8 145.9,50.7 157.5,46.4 169.2,42.8 180.9,40.4 192.5,40.0 204.2,48.3 215.9,52.5 227.5,71.1 239.2,79.0 250.9,65.3 262.5,45.8 274.2,48.9 285.9,51.4 297.5,49.4 309.2,49.5" stroke="#EA7A2C" stroke-width="1.4" fill="none"/>
<polyline points="40.9,60.2 52.5,60.2 64.2,58.1 75.9,61.7 87.5,59.7 99.2,62.5 110.9,53.0 122.5,62.1 134.2,54.0 145.9,51.7 157.5,51.1 169.2,44.3 180.9,48.2 192.5,43.3 204.2,48.7 215.9,61.9 227.5,87.4 239.2,89.3 250.9,65.5 262.5,62.6 274.2,42.9 285.9,63.6 297.5,45.6 309.2,57.7" stroke="#EDB120" stroke-width="1.4" fill="none"/>
<polyline points="40.9,52.1 52.5,52.1 64.2,51.6 75.9,53.3 87.5,52.9 99.2,50.4 110.9,53.5 122.5,50.4 134.2,49.2 145.9,46.5 157.5,43.8 169.2,40.3 180.9,35.0 192.5,35.8 204.2,43.1 215.9,54.1 227.5,67.8 239.2,79.2 250.9,57.4 262.5,47.9 274.2,37.6 285.9,42.7 297.5,41.0 309.2,46.8" stroke="#7E2F8E" stroke-width="1.4" fill="none"/>
<polyline points="40.9,53.1 52.5,56.3 64.2,53.1 75.9,51.4 87.5,51.6 99.2,51.3 110.9,51.5 122.5,51.6 134.2,52.4 145.9,49.6 157.5,44.9 169.2,39.8 180.9,36.5 192.5,38.9 204.2,46.6 215.9,59.1 227.5,71.5 239.2,80.7 250.9,54.2 262.5,44.7 274.2,40.9 285.9,49.0 297.5,44.3 309.2,47.8" stroke="#77AC30" stroke-width="1.4" fill="none"/>
<polyline points="40.9,64.1 52.5,59.8 64.2,59.7 75.9,57.6 87.5,59.9 99.2,61.5 110.9,59.4 122.5,59.1 134.2,60.4 145.9,60.0 157.5,50.2 169.2,48.4 180.9,47.6 192.5,51.3 204.2,48.9 215.9,65.2 227.5,78.3 239.2,85.9 250.9,81.1 262.5,62.7 274.2,52.9 285.9,49.8 297.5,51.5 309.2,52.5" stroke="#4DBEEE" stroke-width="1.4" fill="none"/>
<polyline points="40.9,57.9 52.5,55.2 64.2,56.4 75.9,57.6 87.5,61.7 99.2,63.3 110.9,56.4 122.5,58.5 134.2,61.0 145.9,57.4 157.5,50.4 169.2,42.7 180.9,42.8 192.5,40.3 204.2,54.3 215.9,67.1 227.5,73.1 239.2,87.2 250.9,76.6 262.5,65.6 274.2,57.4 285.9,55.2 297.5,51.9 309.2,52.9" stroke="#A2142F" stroke-width="1.4" fill="none"/>
<polyline points="40.9,64.3 52.5,62.7 64.2,65.3 75.9,61.7 87.5,58.5 99.2,60.6 110.9,61.5 122.5,59.1 134.2,64.1 145.9,60.6 157.5,52.9 169.2,49.4 180.9,48.1 192.5,46.6 204.2,58.2 215.9,68.2 227.5,83.2 239.2,89.5 250.9,77.8 262.5,75.7 274.2,54.6 285.9,55.3 297.5,54.5 309.2,56.2" stroke="#0072BD" stroke-width="1.4" fill="none"/>
<polyline points="40.9,58.4 52.5,55.9 64.2,56.5 75.9,57.4 87.5,57.7 99.2,57.2 110.9,53.9 122.5,55.6 134.2,54.4 145.9,51.9 157.5,44.9 169.2,45.5 180.9,40.8 192.5,48.0 204.2,52.7 215.9,60.6 227.5,72.3 239.2,87.7 250.9,67.1 262.5,57.7 274.2,48.2 285.9,55.9 297.5,51.4 309.2,54.8" stroke="#EA7A2C" stroke-width="1.4" fill="none"/>
<polyline points="40.9,62.0 52.5,60.2 64.2,63.4 75.9,59.7 87.5,57.7 99.2,61.9 110.9,63.6 122.5,57.7 134.2,62.5 145.9,55.4 157.5,56.1 169.2,47.6 180.9,49.9 192.5,49.5 204.2,54.7 215.9,67.3 227.5,77.8 239.2,86.0 250.9,73.4 262.5,62.1 274.2,51.1 285.9,55.8 297.5,55.3 309.2,56.1" stroke="#EDB120" stroke-width="1.4" fill="none"/>
<polyline points="40.9,61.6 52.5,59.5 64.2,61.9 75.9,57.0 87.5,57.4 99.2,57.7 110.9,56.9 122.5,55.2 134.2,55.5 145.9,56.6 157.5,48.7 169.2,49.1 180.9,50.0 192.5,49.7 204.2,49.1 215.9,67.0 227.5,78.7 239.2,88.6 250.9,67.9 262.5,62.8 274.2,48.8 285.9,56.3 297.5,55.1 309.2,59.1" stroke="#7E2F8E" stroke-width="1.4" fill="none"/>
<polyline points="40.9,56.5 52.5,61.6 64.2,60.8 75.9,57.7 87.5,60.8 99.2,59.4 110.9,54.5 122.5,55.8 134.2,55.8 145.9,53.9 157.5,50.8 169.2,44.0 180.9,43.2 192.5,47.2 204.2,53.1 215.9,64.4 227.5,76.5 239.2,86.7 250.9,66.4 262.5,59.4 274.2,48.6 285.9,52.9 297.5,50.1 309.2,55.4" stroke="#77AC30" stroke-width="1.4" fill="none"/>
<polyline points="40.9,65.5 52.5,65.9 64.2,63.0 75.9,65.0 87.5,64.5 99.2,61.9 110.9,63.0 122.5,61.5 134.2,66.0 145.9,61.1 157.5,59.4 169.2,51.0 180.9,54.0 192.5,56.5 204.2,61.7 215.9,71.2 227.5,84.6 239.2,91.6 250.9,87.6 262.5,66.8 274.2,61.6 285.9,59.0 297.5,56.5 309.2,60.7" stroke="#4DBEEE" stroke-width="1.4" fill="none"/>
<polyline points="40.9,66.3 52.5,60.1 64.2,66.0 75.9,65.0 87.5,63.1 99.2,65.0 110.9,61.6 122.5,60.6 134.2,60.2 145.9,55.9 157.5,55.3 169.2,49.5 180.9,47.4 192.5,53.1 204.2,57.2 215.9,65.3 227.5,80.9 239.2,89.3 250.9,80.8 262.5,61.5 274.2,61.9 285.9,62.0 297.5,54.0 309.2,58.4" stroke="#A2142F" stroke-width="1.4" fill="none"/>
<polyline points="40.9,58.5 52.5,60.0 64.2,62.2 75.9,60.4 87.5,61.7 99.2,56.1 110.9,55.9 122.5,57.4 134.2,58.4 145.9,54.6 157.5,49.7 169.2,45.5 180.9,42.5 192.5,47.4 204.2,47.3 215.9,69.1 227.5,76.4 239.2,83.7 250.9,77.9 262.5,52.5 274.2,54.1 285.9,52.0 297.5,54.3 309.2,55.5" stroke="#0072BD" stroke-width="1.4" fill="none"/>
<polyline points="40.9,45.4 52.5,48.4 64.2,51.0 75.9,49.1 87.5,51.5 99.2,50.9 110.9,49.1 122.5,51.0 134.2,49.3 145.9,44.2 157.5,43.0 169.2,39.5 180.9,35.9 192.5,35.5 204.2,39.1 215.9,54.6 227.5,66.6 239.2,78.0 250.9,53.4 262.5,43.8 274.2,36.3 285.9,38.9 297.5,48.3 309.2,40.5" stroke="#EA7A2C" stroke-width="1.4" fill="none"/>
<polyline points="40.9,52.5 52.5,53.0 64.2,52.3 75.9,53.9 87.5,52.9 99.2,53.9 110.9,54.6 122.5,51.9 134.2,51.4 145.9,47.0 157.5,44.4 169.2,41.4 180.9,37.0 192.5,37.9 204.2,46.3 215.9,57.9 227.5,70.1 239.2,80.1 250.9,69.1 262.5,44.8 274.2,41.4 285.9,42.5 297.5,48.6 309.2,44.8" stroke="#EDB120" stroke-width="1.4" fill="none"/>
<polyline points="40.9,55.9 52.5,55.2 64.2,53.4 75.9,57.0 87.5,55.3 99.2,55.0 110.9,53.5 122.5,52.7 134.2,50.2 145.9,51.9 157.5,45.9 169.2,40.9 180.9,38.0 192.5,40.2 204.2,48.5 215.9,64.4 227.5,74.4 239.2,81.6 250.9,62.0 262.5,49.5 274.2,43.6 285.9,47.7 297.5,50.0 309.2,50.5" stroke="#7E2F8E" stroke-width="1.4" fill="none"/>
<polyline points="40.9,47.6 52.5,51.2 64.2,50.5 75.9,51.5 87.5,52.3 99.2,51.7 110.9,49.7 122.5,48.9 134.2,45.1 145.9,49.1 157.5,41.4 169.2,38.7 180.9,37.8 192.5,38.4 204.2,45.9 215.9,54.8 227.5,69.6 239.2,83.1 250.9,55.8 262.5,44.8 274.2,38.3 285.9,40.6 297.5,42.3 309.2,45.8" stroke="#77AC30" stroke-width="1.4" fill="none"/>
<polyline points="40.9,61.6 52.5,62.8 64.2,62.6 75.9,64.0 87.5,62.6 99.2,59.9 110.9,61.3 122.5,61.5 134.2,61.7 145.9,56.9 157.5,56.5 169.2,49.7 180.9,42.8 192.5,54.6 204.2,54.0 215.9,67.8 227.5,80.4 239.2,90.1 250.9,80.3 262.5,59.1 274.2,59.2 285.9,56.9 297.5,55.9 309.2,59.1" stroke="#4DBEEE" stroke-width="1.4" fill="none"/>
<polyline points="40.9,62.0 52.5,61.0 64.2,57.8 75.9,54.1 87.5,56.3 99.2,55.9 110.9,55.0 122.5,53.4 134.2,52.2 145.9,53.5 157.5,49.9 169.2,41.0 180.9,42.2 192.5,41.4 204.2,49.6 215.9,64.1 227.5,74.5 239.2,82.8 250.9,70.2 262.5,47.3 274.2,46.6 285.9,48.5 297.5,47.2 309.2,51.3" stroke="#A2142F" stroke-width="1.4" fill="none"/>
<polyline points="40.9,48.0 52.5,50.7 64.2,53.5 75.9,53.6 87.5,51.1 99.2,52.4 110.9,52.5 122.5,50.8 134.2,47.5 145.9,46.3 157.5,43.2 169.2,38.4 180.9,38.7 192.5,37.1 204.2,45.0 215.9,57.1 227.5,70.3 239.2,79.0 250.9,52.8 262.5,48.9 274.2,40.3 285.9,42.3 297.5,43.3 309.2,46.8" stroke="#0072BD" stroke-width="1.4" fill="none"/>
<polyline points="40.9,58.4 52.5,56.6 64.2,55.5 75.9,55.1 87.5,53.5 99.2,52.0 110.9,53.2 122.5,51.8 134.2,58.3 145.9,53.0 157.5,47.8 169.2,40.6 180.9,43.8 192.5,38.0 204.2,45.8 215.9,59.0 227.5,70.9 239.2,82.4 250.9,66.6 262.5,57.8 274.2,48.5 285.9,50.3 297.5,49.6 309.2,48.2" stroke="#EA7A2C" stroke-width="1.4" fill="none"/>
<polyline points="40.9,44.8 52.5,48.8 64.2,51.6 75.9,52.9 87.5,49.7 99.2,50.1 110.9,51.5 122.5,49.4 134.2,48.9 145.9,46.5 157.5,42.5 169.2,37.9 180.9,35.7 192.5,36.7 204.2,42.5 215.9,55.1 227.5,69.2 239.2,79.4 250.9,50.2 262.5,44.0 274.2,40.9 285.9,44.1 297.5,44.3 309.2,43.4" stroke="#EDB120" stroke-width="1.4" fill="none"/>
<polyline points="40.9,67.8 52.5,67.0 64.2,63.5 75.9,65.0 87.5,65.0 99.2,61.7 110.9,63.7 122.5,61.7 134.2,66.0 145.9,62.0 157.5,57.0 169.2,56.0 180.9,49.6 192.5,54.2 204.2,61.1 215.9,72.0 227.5,85.3 239.2,92.2 250.9,79.3 262.5,71.3 274.2,59.0 285.9,58.6 297.5,59.5 309.2,61.0" stroke="#7E2F8E" stroke-width="1.4" fill="none"/>
<polyline points="40.9,59.6 52.5,58.5 64.2,61.6 75.9,62.2 87.5,59.3 99.2,60.2 110.9,59.4 122.5,60.2 134.2,54.5 145.9,56.6 157.5,54.0 169.2,51.7 180.9,47.6 192.5,44.8 204.2,54.2 215.9,63.6 227.5,80.1 239.2,89.9 250.9,81.0 262.5,58.4 274.2,51.4 285.9,59.2 297.5,55.0 309.2,59.2" stroke="#77AC30" stroke-width="1.4" fill="none"/>
<polyline points="40.9,42.7 52.5,49.4 64.2,52.0 75.9,49.6 87.5,49.0 99.2,50.9 110.9,49.8 122.5,49.3 134.2,44.5 145.9,45.8 157.5,41.0 169.2,37.0 180.9,35.3 192.5,35.0 204.2,39.0 215.9,52.9 227.5,69.4 239.2,79.5 250.9,49.2 262.5,43.6 274.2,37.9 285.9,38.6 297.5,39.2 309.2,37.5" stroke="#4DBEEE" stroke-width="1.4" fill="none"/>
<polyline points="40.9,71.4 52.5,67.0 64.2,65.3 75.9,57.9 87.5,60.1 99.2,63.1 110.9,61.6 122.5,57.1 134.2,62.3 145.9,58.3 157.5,56.3 169.2,52.4 180.9,53.0 192.5,56.5 204.2,60.5 215.9,67.5 227.5,80.7 239.2,91.0 250.9,84.2 262.5,67.5 274.2,58.5 285.9,56.1 297.5,58.9 309.2,60.1" stroke="#A2142F" stroke-width="1.4" fill="none"/>
<polyline points="40.9,59.6 52.5,59.4 64.2,56.3 75.9,55.6 87.5,56.1 99.2,58.3 110.9,55.9 122.5,53.5 134.2,56.1 145.9,54.1 157.5,49.5 169.2,42.8 180.9,42.7 192.5,42.6 204.2,51.4 215.9,63.8 227.5,78.1 239.2,90.6 250.9,79.6 262.5,59.6 274.2,49.3 285.9,50.6 297.5,51.6 309.2,54.9" stroke="#0072BD" stroke-width="1.4" fill="none"/>
<polyline points="40.9,53.8 52.5,49.6 64.2,54.3 75.9,55.7 87.5,52.4 99.2,50.8 110.9,54.1 122.5,54.1 134.2,51.8 145.9,50.8 157.5,44.0 169.2,41.6 180.9,40.7 192.5,39.9 204.2,47.5 215.9,61.6 227.5,73.3 239.2,80.2 250.9,68.6 262.5,49.9 274.2,44.2 285.9,48.7 297.5,49.1 309.2,48.8" stroke="#EA7A2C" stroke-width="1.4" fill="none"/>
<polyline points="40.9,56.5 52.5,52.1 64.2,54.7 75.9,52.2 87.5,51.9 99.2,54.5 110.9,53.1 122.5,52.8 134.2,52.6 145.9,50.0 157.5,44.3 169.2,40.9 180.9,38.2 192.5,39.0 204.2,47.5 215.9,59.2 227.5,71.0 239.2,81.4 250.9,65.6 262.5,57.1 274.2,42.7 285.9,47.7 297.5,43.3 309.2,51.7" stroke="#EDB120" stroke-width="1.4" fill="none"/>
<polyline points="40.9,64.7 52.5,64.3 64.2,63.0 75.9,57.4 87.5,61.1 99.2,59.6 110.9,60.3 122.5,58.6 134.2,61.4 145.9,57.0 157.5,52.6 169.2,52.6 180.9,42.1 192.5,47.1 204.2,53.4 215.9,66.9 227.5,78.7 239.2,89.1 250.9,76.9 262.5,61.2 274.2,49.9 285.9,55.2 297.5,55.4 309.2,54.2" stroke="#7E2F8E" stroke-width="1.4" fill="none"/>
<polyline points="40.9,49.6 52.5,55.7 64.2,53.7 75.9,53.6 87.5,52.4 99.2,52.2 110.9,51.3 122.5,53.3 134.2,47.0 145.9,48.6 157.5,44.1 169.2,39.7 180.9,35.0 192.5,37.1 204.2,47.7 215.9,56.7 227.5,71.9 239.2,81.4 250.9,62.9 262.5,48.4 274.2,39.1 285.9,42.5 297.5,46.6 309.2,41.9" stroke="#77AC30" stroke-width="1.4" fill="none"/>
<polyline points="40.9,48.6 52.5,51.3 64.2,51.3 75.9,53.0 87.5,51.4 99.2,51.9 110.9,50.6 122.5,52.4 134.2,46.3 145.9,48.2 157.5,43.9 169.2,39.9 180.9,35.1 192.5,39.1 204.2,46.7 215.9,57.4 227.5,70.1 239.2,79.6 250.9,61.4 262.5,43.5 274.2,42.5 285.9,43.6 297.5,39.2 309.2,37.2" stroke="#4DBEEE" stroke-width="1.4" fill="none"/>
<polyline points="40.9,53.1 52.5,56.3 64.2,54.6 75.9,53.5 87.5,52.1 99.2,53.6 110.9,52.4 122.5,51.2 134.2,51.0 145.9,50.7 157.5,45.0 169.2,39.7 180.9,38.4 192.5,38.1 204.2,43.9 215.9,60.4 227.5,70.8 239.2,83.1 250.9,65.0 262.5,46.5 274.2,44.8 285.9,49.1 297.5,46.4 309.2,44.5" stroke="#A2142F" stroke-width="1.4" fill="none"/>
<polyline points="40.9,56.0 52.5,54.9 64.2,55.1 75.9,57.5 87.5,58.5 99.2,55.5 110.9,56.8 122.5,56.5 134.2,59.0 145.9,51.7 157.5,46.8 169.2,44.7 180.9,41.4 192.5,43.5 204.2,54.3 215.9,62.0 227.5,75.6 239.2,82.5 250.9,70.1 262.5,50.9 274.2,46.7 285.9,49.6 297.5,50.3 309.2,52.2" stroke="#0072BD" stroke-width="1.4" fill="none"/>
<polyline points="40.9,42.7 52.5,50.1 64.2,49.0 75.9,50.7 87.5,51.1 99.2,49.4 110.9,49.8 122.5,48.3 134.2,47.8 145.9,44.0 157.5,41.1 169.2,37.0 180.9,34.5 192.5,37.6 204.2,43.7 215.9,55.2 227.5,67.2 239.2,76.4 250.9,57.0 262.5,43.0 274.2,34.5 285.9,35.5 297.5,36.6 309.2,42.5" stroke="#EA7A2C" stroke-width="1.4" fill="none"/>
<polyline points="40.9,68.4 52.5,59.2 64.2,59.7 75.9,62.4 87.5,59.9 99.2,61.0 110.9,55.8 122.5,57.1 134.2,58.8 145.9,54.9 157.5,51.1 169.2,43.4 180.9,50.7 192.5,48.1 204.2,51.4 215.9,69.1 227.5,79.3 239.2,90.7 250.9,77.0 262.5,58.3 274.2,52.0 285.9,55.5 297.5,55.7 309.2,56.0" stroke="#EDB120" stroke-width="1.4" fill="none"/>
<polyline points="40.9,69.2 52.5,63.0 64.2,63.8 75.9,63.1 87.5,61.4 99.2,60.7 110.9,59.0 122.5,56.8 134.2,56.5 145.9,60.3 157.5,54.1 169.2,48.7 180.9,52.5 192.5,53.0 204.2,57.0 215.9,70.5 227.5,80.3 239.2,91.6 250.9,88.9 262.5,71.0 274.2,56.0 285.9,58.3 297.5,57.8 309.2,56.2" stroke="#7E2F8E" stroke-width="1.4" fill="none"/>
<polyline points="40.9,50.8 52.5,47.6 64.2,49.0 75.9,50.6 87.5,53.0 99.2,51.1 110.9,51.1 122.5,48.0 134.2,45.4 145.9,47.1 157.5,41.7 169.2,39.2 180.9,35.0 192.5,36.7 204.2,44.9 215.9,53.2 227.5,66.1 239.2,77.7 250.9,53.5 262.5,39.0 274.2,40.2 285.9,39.1 297.5,38.3 309.2,41.6" stroke="#77AC30" stroke-width="1.4" fill="none"/>
<polyline points="40.9,68.3 52.5,61.9 64.2,62.6 75.9,58.8 87.5,59.6 99.2,60.9 110.9,57.3 122.5,57.2 134.2,59.6 145.9,59.1 157.5,55.4 169.2,52.0 180.9,47.8 192.5,51.7 204.2,59.8 215.9,67.8 227.5,81.1 239.2,91.2 250.9,70.6 262.5,63.4 274.2,57.2 285.9,57.5 297.5,54.3 309.2,57.8" stroke="#4DBEEE" stroke-width="1.4" fill="none"/>
<polyline points="40.9,44.8 52.5,51.2 64.2,49.0 75.9,50.1 87.5,49.9 99.2,50.0 110.9,49.4 122.5,49.8 134.2,44.5 145.9,44.0 157.5,42.4 169.2,37.0 180.9,34.6 192.5,36.0 204.2,39.5 215.9,53.1 227.5,66.4 239.2,77.9 250.9,49.1 262.5,40.7 274.2,34.0 285.9,37.1 297.5,35.5 309.2,39.2" stroke="#A2142F" stroke-width="1.4" fill="none"/>
<polyline points="40.9,53.9 52.5,52.5 64.2,51.5 75.9,52.8 87.5,51.7 99.2,50.0 110.9,49.0 122.5,51.4 134.2,48.5 145.9,44.0 157.5,43.6 169.2,39.6 180.9,34.6 192.5,38.0 204.2,39.5 215.9,55.3 227.5,68.3 239.2,79.8 250.9,57.3 262.5,44.2 274.2,40.5 285.9,38.8 297.5,45.4 309.2,41.1" stroke="#0072BD" stroke-width="1.4" fill="none"/>
<polyline points="40.9,46.4 52.5,48.2 64.2,51.7 75.9,51.3 87.5,52.2 99.2,51.9 110.9,49.8 122.5,50.1 134.2,47.0 145.9,44.8 157.5,41.3 169.2,38.5 180.9,34.0 192.5,35.0 204.2,41.6 215.9,55.0 227.5,67.5 239.2,76.2 250.9,51.1 262.5,45.5 274.2,35.5 285.9,38.2 297.5,46.1 309.2,41.4" stroke="#EA7A2C" stroke-width="1.4" fill="none"/>
<polyline points="40.9,58.5 52.5,62.4 64.2,58.4 75.9,60.4 87.5,58.5 99.2,56.8 110.9,62.5 122.5,58.3 134.2,62.1 145.9,58.2 157.5,51.2 169.2,49.6 180.9,45.9 192.5,51.9 204.2,57.0 215.9,66.6 227.5,84.1 239.2,91.1 250.9,81.4 262.5,60.0 274.2,57.2 285.9,51.5 297.5,55.8 309.2,53.6" stroke="#EDB120" stroke-width="1.4" fill="none"/>
<polyline points="40.9,66.6 52.5,64.3 64.2,63.8 75.9,62.1 87.5,62.0 99.2,59.1 110.9,57.3 122.5,62.6 134.2,63.7 145.9,55.4 157.5,60.0 169.2,50.0 180.9,51.2 192.5,53.2 204.2,58.6 215.9,71.0 227.5,78.9 239.2,92.1 250.9,82.5 262.5,69.1 274.2,58.1 285.9,56.3 297.5,55.3 309.2,59.7" stroke="#7E2F8E" stroke-width="1.4" fill="none"/>
<polyline points="40.9,49.5 52.5,50.9 64.2,51.8 75.9,52.3 87.5,52.2 99.2,50.9 110.9,51.4 122.5,52.5 134.2,46.2 145.9,46.4 157.5,42.3 169.2,40.7 180.9,33.9 192.5,37.3 204.2,45.3 215.9,54.3 227.5,68.3 239.2,77.9 250.9,51.0 262.5,43.8 274.2,40.7 285.9,39.9 297.5,42.0 309.2,44.2" stroke="#77AC30" stroke-width="1.4" fill="none"/>
<polyline points="40.9,65.8 52.5,66.7 64.2,63.2 75.9,60.0 87.5,61.9 99.2,64.7 110.9,63.1 122.5,59.5 134.2,66.0 145.9,61.2 157.5,57.7 169.2,52.6 180.9,53.0 192.5,52.8 204.2,62.0 215.9,72.0 227.5,85.6 239.2,93.2 250.9,80.1 262.5,74.8 274.2,58.0 285.9,59.6 297.5,58.0 309.2,57.6" stroke="#4DBEEE" stroke-width="1.4" fill="none"/>
<polyline points="40.9,60.8 52.5,65.4 64.2,60.4 75.9,62.7 87.5,63.2 99.2,58.9 110.9,58.1 122.5,60.6 134.2,60.8 145.9,57.2 157.5,48.8 169.2,45.1 180.9,49.1 192.5,54.1 204.2,54.8 215.9,66.0 227.5,81.0 239.2,91.5 250.9,82.8 262.5,62.8 274.2,50.0 285.9,60.0 297.5,54.4 309.2,58.9" stroke="#A2142F" stroke-width="1.4" fill="none"/>
<polyline points="40.9,50.8 52.5,50.2 64.2,51.1 75.9,53.6 87.5,53.6 99.2,51.4 110.9,52.2 122.5,49.7 134.2,47.8 145.9,47.1 157.5,43.2 169.2,40.0 180.9,34.7 192.5,38.9 204.2,46.4 215.9,56.5 227.5,67.4 239.2,76.3 250.9,58.1 262.5,43.5 274.2,41.0 285.9,39.5 297.5,43.0 309.2,43.5" stroke="#0072BD" stroke-width="1.4" fill="none"/>
<polyline points="40.9,67.9 52.5,64.1 64.2,64.7 75.9,60.5 87.5,63.2 99.2,62.1 110.9,60.0 122.5,58.1 134.2,65.6 145.9,58.9 157.5,54.1 169.2,52.0 180.9,49.3 192.5,49.7 204.2,54.6 215.9,69.7 227.5,81.6 239.2,91.1 250.9,87.3 262.5,61.6 274.2,55.4 285.9,58.1 297.5,58.0 309.2,58.8" stroke="#EA7A2C" stroke-width="1.4" fill="none"/>
<polyline points="40.9,46.1 52.5,53.8 64.2,54.4 75.9,54.3 87.5,52.3 99.2,53.7 110.9,53.4 122.5,53.6 134.2,50.7 145.9,46.8 157.5,44.5 169.2,40.7 180.9,38.0 192.5,41.5 204.2,45.8 215.9,56.6 227.5,69.8 239.2,81.7 250.9,58.5 262.5,44.8 274.2,40.8 285.9,47.5 297.5,46.1 309.2,45.0" stroke="#EDB120" stroke-width="1.4" fill="none"/>
<polyline points="40.9,63.5 52.5,57.4 64.2,60.8 75.9,59.0 87.5,54.5 99.2,55.8 110.9,57.7 122.5,57.5 134.2,56.4 145.9,52.1 157.5,51.1 169.2,41.4 180.9,45.6 192.5,45.1 204.2,53.4 215.9,63.7 227.5,79.5 239.2,82.0 250.9,71.3 262.5,61.8 274.2,50.1 285.9,56.7 297.5,53.8 309.2,51.9" stroke="#7E2F8E" stroke-width="1.4" fill="none"/>
<polyline points="40.9,54.2 52.5,55.7 64.2,54.1 75.9,53.8 87.5,55.0 99.2,54.2 110.9,52.5 122.5,51.8 134.2,52.9 145.9,53.0 157.5,44.4 169.2,41.6 180.9,34.8 192.5,38.2 204.2,49.4 215.9,63.5 227.5,72.4 239.2,82.8 250.9,66.2 262.5,52.4 274.2,42.4 285.9,48.3 297.5,46.7 309.2,47.3" stroke="#77AC30" stroke-width="1.4" fill="none"/>
<polyline points="40.9,66.7 52.5,62.0 64.2,62.5 75.9,60.4 87.5,64.9 99.2,63.4 110.9,60.2 122.5,63.0 134.2,65.4 145.9,59.7 157.5,54.3 169.2,52.8 180.9,51.3 192.5,56.1 204.2,57.8 215.9,68.3 227.5,86.0 239.2,95.7 250.9,84.8 262.5,64.0 274.2,60.5 285.9,60.9 297.5,58.1 309.2,59.5" stroke="#4DBEEE" stroke-width="1.4" fill="none"/>
<polyline points="40.9,47.7 52.5,46.2 64.2,49.3 75.9,49.2 87.5,49.0 99.2,52.1 110.9,49.0 122.5,49.0 134.2,44.5 145.9,44.0 157.5,41.8 169.2,37.0 180.9,33.7 192.5,38.2 204.2,40.2 215.9,54.1 227.5,65.0 239.2,77.6 250.9,48.0 262.5,41.1 274.2,35.4 285.9,42.8 297.5,37.2 309.2,37.8" stroke="#A2142F" stroke-width="1.4" fill="none"/>
<polyline points="40.9,62.3 52.5,64.4 64.2,65.0 75.9,60.6 87.5,62.5 99.2,60.4 110.9,60.9 122.5,60.2 134.2,57.3 145.9,55.9 157.5,57.2 169.2,45.1 180.9,48.3 192.5,49.2 204.2,54.8 215.9,68.6 227.5,81.9 239.2,92.3 250.9,69.9 262.5,74.6 274.2,55.8 285.9,59.5 297.5,55.6 309.2,55.4" stroke="#0072BD" stroke-width="1.4" fill="none"/>
<polyline points="40.9,63.2 52.5,57.2 64.2,54.1 75.9,54.5 87.5,55.2 99.2,54.5 110.9,53.1 122.5,52.3 134.2,49.5 145.9,50.4 157.5,46.3 169.2,45.2 180.9,37.3 192.5,40.1 204.2,47.3 215.9,62.1 227.5,71.6 239.2,80.7 250.9,57.2 262.5,50.3 274.2,44.8 285.9,48.8 297.5,45.5 309.2,53.5" stroke="#EA7A2C" stroke-width="1.4" fill="none"/>
<polyline points="40.9,60.0 52.5,58.2 64.2,59.4 75.9,56.3 87.5,54.6 99.2,54.5 110.9,56.8 122.5,54.9 134.2,55.5 145.9,50.4 157.5,48.1 169.2,44.0 180.9,42.9 192.5,39.6 204.2,49.2 215.9,66.9 227.5,74.0 239.2,84.3 250.9,68.9 262.5,48.9 274.2,45.8 285.9,51.1 297.5,49.8 309.2,55.8" stroke="#EDB120" stroke-width="1.4" fill="none"/>
<polyline points="40.9,47.6 52.5,52.7 64.2,52.5 75.9,55.7 87.5,53.0 99.2,54.1 110.9,51.3 122.5,52.9 134.2,51.9 145.9,50.6 157.5,44.9 169.2,40.9 180.9,37.9 192.5,40.1 204.2,45.9 215.9,60.1 227.5,70.3 239.2,82.2 250.9,61.7 262.5,46.3 274.2,41.9 285.9,49.0 297.5,41.7 309.2,42.8" stroke="#7E2F8E" stroke-width="1.4" fill="none"/>
<polyline points="40.9,52.3 52.5,54.0 64.2,54.6 75.9,58.8 87.5,53.6 99.2,53.5 110.9,53.1 122.5,53.3 134.2,53.0 145.9,48.0 157.5,45.9 169.2,45.9 180.9,36.4 192.5,40.7 204.2,50.1 215.9,60.8 227.5,72.3 239.2,79.0 250.9,71.0 262.5,49.0 274.2,45.1 285.9,50.4 297.5,41.7 309.2,48.5" stroke="#77AC30" stroke-width="1.4" fill="none"/>
<polyline points="40.9,60.2 52.5,58.4 64.2,61.0 75.9,56.9 87.5,58.0 99.2,57.5 110.9,53.0 122.5,53.3 134.2,59.6 145.9,51.1 157.5,47.1 169.2,40.8 180.9,39.7 192.5,39.6 204.2,49.2 215.9,63.9 227.5,72.9 239.2,82.8 250.9,75.9 262.5,55.7 274.2,50.3 285.9,52.5 297.5,49.8 309.2,50.2" stroke="#4DBEEE" stroke-width="1.4" fill="none"/>
<polyline points="40.9,48.6 52.5,48.4 64.2,51.0 75.9,49.4 87.5,51.4 99.2,51.4 110.9,50.6 122.5,48.0 134.2,45.5 145.9,45.8 157.5,41.6 169.2,38.7 180.9,36.1 192.5,35.7 204.2,41.6 215.9,53.4 227.5,69.2 239.2,79.2 250.9,64.3 262.5,42.4 274.2,35.3 285.9,40.2 297.5,38.9 309.2,41.2" stroke="#A2142F" stroke-width="1.4" fill="none"/>
<polyline points="40.9,57.8 52.5,59.1 64.2,54.0 75.9,58.8 87.5,56.7 99.2,55.9 110.9,54.4 122.5,57.6 134.2,53.5 145.9,55.2 157.5,46.5 169.2,43.8 180.9,42.4 192.5,49.2 204.2,51.9 215.9,63.7 227.5,75.1 239.2,84.1 250.9,68.4 262.5,63.6 274.2,54.4 285.9,48.6 297.5,51.7 309.2,48.8" stroke="#0072BD" stroke-width="1.4" fill="none"/>
<polyline points="40.9,54.3 52.5,53.3 64.2,52.8 75.9,54.6 87.5,54.0 99.2,53.0 110.9,53.3 122.5,50.4 134.2,49.5 145.9,47.4 157.5,44.6 169.2,42.1 180.9,37.5 192.5,40.1 204.2,46.3 215.9,57.9 227.5,72.7 239.2,81.7 250.9,67.7 262.5,49.8 274.2,41.0 285.9,38.0 297.5,46.1 309.2,43.1" stroke="#EA7A2C" stroke-width="1.4" fill="none"/>
<polyline points="40.9,58.0 52.5,58.9 64.2,59.6 75.9,59.3 87.5,63.0 99.2,56.5 110.9,57.9 122.5,55.0 134.2,55.6 145.9,55.3 157.5,52.7 169.2,43.7 180.9,48.5 192.5,43.8 204.2,56.8 215.9,65.9 227.5,80.7 239.2,89.6 250.9,75.4 262.5,63.3 274.2,49.2 285.9,50.3 297.5,53.1 309.2,57.4" stroke="#EDB120" stroke-width="1.4" fill="none"/>
<polyline points="40.9,67.2 52.5,67.0 64.2,64.2 75.9,63.2 87.5,61.0 99.2,63.2 110.9,63.3 122.5,61.1 134.2,65.5 145.9,60.6 157.5,60.0 169.2,56.1 180.9,50.8 192.5,56.2 204.2,62.0 215.9,71.5 227.5,80.6 239.2,94.0 250.9,84.9 262.5,76.0 274.2,63.3 285.9,56.4 297.5,57.3 309.2,61.0" stroke="#7E2F8E" stroke-width="1.4" fill="none"/>
<polyline points="40.9,48.8 52.5,51.4 64.2,52.6 75.9,51.7 87.5,52.4 99.2,50.5 110.9,51.1 122.5,50.3 134.2,48.5 145.9,47.2 157.5,43.7 169.2,39.1 180.9,35.8 192.5,38.3 204.2,46.5 215.9,58.9 227.5,67.6 239.2,80.1 250.9,61.7 262.5,44.8 274.2,42.2 285.9,41.9 297.5,44.3 309.2,40.0" stroke="#77AC30" stroke-width="1.4" fill="none"/>
<polyline points="40.9,44.7 52.5,56.2 64.2,59.7 75.9,56.5 87.5,55.0 99.2,58.5 110.9,53.8 122.5,54.0 134.2,51.4 145.9,52.8 157.5,43.0 169.2,45.6 180.9,36.9 192.5,36.8 204.2,50.2 215.9,69.8 227.5,77.9 239.2,80.3 250.9,72.8 262.5,46.7 274.2,44.5 285.9,47.4 297.5,33.8 309.2,49.6" stroke="#4DBEEE" stroke-width="1.4" fill="none"/>
<polyline points="40.9,50.1 52.5,47.5 64.2,49.9 75.9,51.7 87.5,58.0 99.2,62.2 110.9,53.4 122.5,57.7 134.2,50.9 145.9,43.5 157.5,45.8 169.2,43.2 180.9,37.2 192.5,41.1 204.2,51.6 215.9,56.3 227.5,66.2 239.2,81.4 250.9,63.6 262.5,47.5 274.2,53.4 285.9,58.6 297.5,45.3 309.2,52.6" stroke="#A2142F" stroke-width="1.4" fill="none"/>
<polyline points="40.9,51.1 52.5,53.8 64.2,49.4 75.9,53.1 87.5,57.7 99.2,52.9 110.9,48.7 122.5,51.1 134.2,52.0 145.9,46.9 157.5,40.9 169.2,42.0 180.9,32.2 192.5,37.8 204.2,41.6 215.9,50.9 227.5,72.4 239.2,79.0 250.9,45.6 262.5,45.7 274.2,34.5 285.9,33.9 297.5,34.2 309.2,42.0" stroke="#0072BD" stroke-width="1.4" fill="none"/>
<polyline points="40.9,60.4 52.5,58.1 64.2,60.0 75.9,56.1 87.5,62.6 99.2,57.4 110.9,57.2 122.5,57.7 134.2,49.9 145.9,49.5 157.5,59.1 169.2,46.6 180.9,39.7 192.5,45.9 204.2,48.7 215.9,65.0 227.5,72.1 239.2,87.0 250.9,55.6 262.5,71.9 274.2,45.9 285.9,40.4 297.5,50.5 309.2,49.8" stroke="#EA7A2C" stroke-width="1.4" fill="none"/>
<polyline points="40.9,41.0 52.5,49.2 64.2,65.3 75.9,48.2 87.5,50.7 99.2,48.8 110.9,50.1 122.5,47.3 134.2,43.5 145.9,46.3 157.5,41.5 169.2,41.3 180.9,32.2 192.5,36.1 204.2,56.7 215.9,50.9 227.5,64.0 239.2,76.7 250.9,50.0 262.5,45.5 274.2,36.4 285.9,33.9 297.5,38.8 309.2,54.8" stroke="#EDB120" stroke-width="1.4" fill="none"/>
<polyline points="40.9,48.7 52.5,64.3 64.2,59.9 75.9,66.1 87.5,62.4 99.2,66.2 110.9,65.2 122.5,64.1 134.2,64.9 145.9,59.8 157.5,59.9 169.2,58.3 180.9,55.3 192.5,50.9 204.2,63.5 215.9,72.1 227.5,83.3 239.2,88.6 250.9,79.9 262.5,63.6 274.2,39.6 285.9,63.6 297.5,60.5 309.2,57.9" stroke="#7E2F8E" stroke-width="1.4" fill="none"/>
<polyline points="40.9,69.0 52.5,64.5 64.2,51.5 75.9,60.0 87.5,63.6 99.2,66.2 110.9,65.2 122.5,64.1 134.2,53.1 145.9,47.3 157.5,58.3 169.2,50.6 180.9,55.1 192.5,48.9 204.2,58.3 215.9,60.0 227.5,83.7 239.2,87.8 250.9,84.8 262.5,71.5 274.2,56.0 285.9,58.6 297.5,55.5 309.2,60.7" stroke="#77AC30" stroke-width="1.4" fill="none"/>
<polyline points="40.9,60.4 52.5,58.6 64.2,67.2 75.9,60.0 87.5,65.2 99.2,62.2 110.9,56.4 122.5,55.0 134.2,60.6 145.9,58.1 157.5,57.7 169.2,41.1 180.9,42.7 192.5,48.2 204.2,63.5 215.9,55.3 227.5,82.8 239.2,86.3 250.9,84.3 262.5,58.0 274.2,59.0 285.9,63.6 297.5,56.7 309.2,58.2" stroke="#4DBEEE" stroke-width="1.4" fill="none"/>
<polyline points="40.9,55.0 52.5,56.0 64.2,52.0 75.9,46.7 87.5,46.7 99.2,46.7 110.9,46.7 122.5,50.0 134.2,54.0 145.9,51.0 157.5,47.0 169.2,42.0 180.9,40.0 192.5,43.0 204.2,50.0 215.9,62.0 227.5,75.0 239.2,85.0 250.9,66.0 262.5,50.0 274.2,46.0 285.9,47.0 297.5,49.0 309.2,50.0" stroke="#EA7A2C" stroke-width="1.4" fill="none"/>
<polyline points="40.9,57.0 52.5,58.0 64.2,59.0 75.9,62.0 87.5,64.0 99.2,75.5 110.9,66.0 122.5,58.0 134.2,54.0 145.9,51.0 157.5,47.0 169.2,42.0 180.9,39.0 192.5,42.0 204.2,50.0 215.9,62.0 227.5,75.0 239.2,70.0 250.9,66.0 262.5,53.0 274.2,47.0 285.9,48.0 297.5,49.0 309.2,50.0" stroke="#EDB120" stroke-width="1.4" fill="none"/>
<polyline points="40.9,56.5 52.5,56.0 64.2,56.0 75.9,55.5 87.5,55.0 99.2,55.0 110.9,54.0 122.5,53.6 134.2,53.0 145.9,50.7 157.5,46.0 169.2,41.6 180.9,39.3 192.5,40.5 204.2,49.5 215.9,61.5 227.5,73.5 239.2,83.0 250.9,68.0 262.5,51.0 274.2,47.0 285.9,48.5 297.5,50.0 309.2,50.0" stroke="#F0802E" stroke-width="5.6" fill="none"/>
<polyline points="363.7,40.4 375.3,38.2 387.0,33.0 398.7,38.6 410.3,36.7 422.0,34.9 433.7,37.4 445.3,39.4 457.0,40.2 468.7,45.9 480.3,47.5 492.0,49.9 503.7,42.5 515.3,36.1 527.0,24.3 538.7,12.9 550.3,6.7 562.0,31.0 573.7,53.7 585.3,43.8 597.0,34.2 608.7,39.3 620.3,45.3 632.0,38.3" stroke="#0072BD" stroke-width="1.4" fill="none"/>
<polyline points="363.7,67.0 375.3,52.9 387.0,50.9 398.7,50.2 410.3,53.1 422.0,51.8 433.7,53.8 445.3,56.6 457.0,57.5 468.7,60.8 480.3,67.3 492.0,73.3 503.7,64.1 515.3,58.5 527.0,52.1 538.7,54.0 550.3,33.2 562.0,61.9 573.7,86.4 585.3,67.8 597.0,61.1 608.7,67.0 620.3,64.4 632.0,69.8" stroke="#EA7A2C" stroke-width="1.4" fill="none"/>
<polyline points="363.7,54.8 375.3,51.2 387.0,51.1 398.7,47.1 410.3,47.2 422.0,50.6 433.7,46.6 445.3,49.2 457.0,51.0 468.7,57.0 480.3,62.2 492.0,65.1 503.7,60.2 515.3,53.0 527.0,36.1 538.7,22.3 550.3,11.4 562.0,59.0 573.7,77.6 585.3,61.8 597.0,51.7 608.7,53.9 620.3,63.0 632.0,58.2" stroke="#EDB120" stroke-width="1.4" fill="none"/>
<polyline points="363.7,62.8 375.3,58.0 387.0,56.3 398.7,56.2 410.3,51.8 422.0,51.2 433.7,54.5 445.3,56.1 457.0,56.7 468.7,61.0 480.3,66.9 492.0,72.9 503.7,69.9 515.3,58.8 527.0,57.6 538.7,44.4 550.3,40.1 562.0,65.8 573.7,89.8 585.3,66.8 597.0,62.3 608.7,63.0 620.3,69.4 632.0,65.7" stroke="#7E2F8E" stroke-width="1.4" fill="none"/>
<polyline points="363.7,54.8 375.3,49.9 387.0,48.1 398.7,45.7 410.3,47.9 422.0,44.1 433.7,43.0 445.3,51.2 457.0,48.6 468.7,55.7 480.3,58.9 492.0,63.8 503.7,53.3 515.3,50.3 527.0,35.3 538.7,19.3 550.3,25.7 562.0,51.1 573.7,73.0 585.3,52.9 597.0,47.5 608.7,52.4 620.3,60.4 632.0,57.4" stroke="#77AC30" stroke-width="1.4" fill="none"/>
<polyline points="363.7,52.5 375.3,47.1 387.0,41.8 398.7,40.5 410.3,40.3 422.0,43.1 433.7,44.8 445.3,44.4 457.0,49.9 468.7,52.2 480.3,62.7 492.0,61.2 503.7,57.3 515.3,42.1 527.0,29.9 538.7,20.9 550.3,11.6 562.0,44.8 573.7,63.8 585.3,54.3 597.0,41.5 608.7,55.2 620.3,54.9 632.0,55.9" stroke="#4DBEEE" stroke-width="1.4" fill="none"/>
<polyline points="363.7,58.5 375.3,49.5 387.0,47.4 398.7,46.8 410.3,44.1 422.0,46.2 433.7,47.4 445.3,50.9 457.0,52.0 468.7,53.8 480.3,61.1 492.0,64.9 503.7,55.9 515.3,53.1 527.0,39.1 538.7,28.6 550.3,27.4 562.0,56.1 573.7,77.9 585.3,55.0 597.0,52.6 608.7,56.7 620.3,58.8 632.0,61.2" stroke="#A2142F" stroke-width="1.4" fill="none"/>
<polyline points="363.7,59.2 375.3,55.4 387.0,51.6 398.7,56.3 410.3,52.8 422.0,49.1 433.7,49.7 445.3,55.2 457.0,56.5 468.7,62.5 480.3,68.7 492.0,70.6 503.7,67.4 515.3,53.1 527.0,51.8 538.7,49.0 550.3,35.4 562.0,63.1 573.7,90.3 585.3,69.7 597.0,62.2 608.7,60.2 620.3,73.7 632.0,60.8" stroke="#0072BD" stroke-width="1.4" fill="none"/>
<polyline points="363.7,37.2 375.3,39.3 387.0,34.3 398.7,36.6 410.3,34.4 422.0,31.0 433.7,31.7 445.3,36.5 457.0,42.2 468.7,40.8 480.3,45.8 492.0,47.5 503.7,44.5 515.3,33.5 527.0,23.3 538.7,9.3 550.3,7.6 562.0,31.9 573.7,49.3 585.3,45.6 597.0,33.1 608.7,33.1 620.3,34.6 632.0,40.7" stroke="#EA7A2C" stroke-width="1.4" fill="none"/>
<polyline points="363.7,31.8 375.3,29.0 387.0,35.0 398.7,31.3 410.3,31.3 422.0,35.9 433.7,35.6 445.3,35.8 457.0,35.0 468.7,37.6 480.3,35.8 492.0,43.7 503.7,34.4 515.3,24.9 527.0,16.7 538.7,9.1 550.3,4.7 562.0,23.3 573.7,51.1 585.3,30.3 597.0,22.9 608.7,23.6 620.3,34.5 632.0,36.0" stroke="#EDB120" stroke-width="1.4" fill="none"/>
<polyline points="363.7,44.6 375.3,36.5 387.0,36.8 398.7,34.9 410.3,33.7 422.0,38.6 433.7,37.6 445.3,37.6 457.0,39.9 468.7,43.1 480.3,44.2 492.0,52.4 503.7,41.1 515.3,34.2 527.0,22.7 538.7,11.5 550.3,6.0 562.0,25.9 573.7,53.7 585.3,39.2 597.0,33.0 608.7,38.6 620.3,49.2 632.0,44.2" stroke="#7E2F8E" stroke-width="1.4" fill="none"/>
<polyline points="363.7,64.2 375.3,53.7 387.0,56.7 398.7,54.2 410.3,47.4 422.0,52.3 433.7,52.5 445.3,49.4 457.0,55.2 468.7,59.1 480.3,63.5 492.0,68.4 503.7,63.6 515.3,60.1 527.0,50.8 538.7,54.0 550.3,33.1 562.0,71.1 573.7,87.4 585.3,65.0 597.0,56.4 608.7,57.4 620.3,66.5 632.0,67.6" stroke="#77AC30" stroke-width="1.4" fill="none"/>
<polyline points="363.7,53.2 375.3,47.4 387.0,41.2 398.7,43.7 410.3,41.7 422.0,39.2 433.7,40.6 445.3,42.4 457.0,50.0 468.7,52.3 480.3,57.0 492.0,60.4 503.7,55.4 515.3,41.3 527.0,27.5 538.7,14.4 550.3,8.5 562.0,41.2 573.7,74.9 585.3,44.8 597.0,42.1 608.7,49.5 620.3,50.0 632.0,50.9" stroke="#4DBEEE" stroke-width="1.4" fill="none"/>
<polyline points="363.7,44.5 375.3,36.5 387.0,36.8 398.7,36.2 410.3,34.0 422.0,31.6 433.7,34.6 445.3,39.4 457.0,40.2 468.7,42.3 480.3,43.6 492.0,49.9 503.7,45.8 515.3,33.7 527.0,27.2 538.7,11.1 550.3,5.7 562.0,24.1 573.7,58.9 585.3,39.4 597.0,35.1 608.7,38.0 620.3,47.6 632.0,43.9" stroke="#A2142F" stroke-width="1.4" fill="none"/>
<polyline points="363.7,44.0 375.3,42.7 387.0,35.7 398.7,38.5 410.3,37.1 422.0,37.5 433.7,36.3 445.3,40.0 457.0,39.6 468.7,44.0 480.3,47.5 492.0,51.9 503.7,44.3 515.3,36.4 527.0,27.2 538.7,10.5 550.3,8.6 562.0,25.2 573.7,50.3 585.3,41.6 597.0,34.4 608.7,40.6 620.3,39.4 632.0,42.1" stroke="#0072BD" stroke-width="1.4" fill="none"/>
<polyline points="363.7,35.6 375.3,30.9 387.0,32.6 398.7,29.9 410.3,30.8 422.0,29.3 433.7,32.2 445.3,31.0 457.0,32.7 468.7,35.4 480.3,44.0 492.0,42.5 503.7,35.6 515.3,25.5 527.0,20.4 538.7,8.1 550.3,5.8 562.0,21.7 573.7,43.0 585.3,28.9 597.0,22.0 608.7,23.6 620.3,37.5 632.0,34.0" stroke="#EA7A2C" stroke-width="1.4" fill="none"/>
<polyline points="363.7,51.1 375.3,42.1 387.0,37.4 398.7,37.8 410.3,36.3 422.0,35.6 433.7,34.5 445.3,40.6 457.0,43.9 468.7,38.1 480.3,52.9 492.0,55.3 503.7,46.4 515.3,37.5 527.0,25.6 538.7,12.2 550.3,7.9 562.0,37.4 573.7,54.8 585.3,44.7 597.0,36.7 608.7,38.7 620.3,45.4 632.0,39.9" stroke="#EDB120" stroke-width="1.4" fill="none"/>
<polyline points="363.7,38.3 375.3,37.1 387.0,33.7 398.7,38.7 410.3,32.9 422.0,33.6 433.7,34.0 445.3,35.8 457.0,41.6 468.7,38.2 480.3,48.9 492.0,50.8 503.7,37.8 515.3,34.5 527.0,21.0 538.7,14.4 550.3,5.7 562.0,24.0 573.7,46.3 585.3,33.2 597.0,28.6 608.7,30.4 620.3,36.0 632.0,35.6" stroke="#7E2F8E" stroke-width="1.4" fill="none"/>
<polyline points="363.7,55.8 375.3,43.3 387.0,42.6 398.7,39.4 410.3,37.5 422.0,38.8 433.7,39.9 445.3,46.6 457.0,48.0 468.7,51.1 480.3,59.5 492.0,61.1 503.7,55.0 515.3,44.9 527.0,29.2 538.7,21.2 550.3,14.0 562.0,39.4 573.7,63.7 585.3,55.6 597.0,43.6 608.7,57.7 620.3,52.6 632.0,54.1" stroke="#77AC30" stroke-width="1.4" fill="none"/>
<polyline points="363.7,64.1 375.3,56.7 387.0,52.9 398.7,53.6 410.3,51.6 422.0,51.8 433.7,52.9 445.3,57.2 457.0,58.6 468.7,60.8 480.3,67.0 492.0,69.1 503.7,64.9 515.3,58.2 527.0,53.8 538.7,43.3 550.3,30.9 562.0,70.5 573.7,85.5 585.3,63.3 597.0,61.2 608.7,64.8 620.3,62.9 632.0,63.4" stroke="#4DBEEE" stroke-width="1.4" fill="none"/>
<polyline points="363.7,36.4 375.3,33.6 387.0,34.0 398.7,36.0 410.3,32.8 422.0,34.3 433.7,35.3 445.3,35.4 457.0,39.4 468.7,37.8 480.3,42.3 492.0,43.5 503.7,43.4 515.3,30.3 527.0,20.8 538.7,8.4 550.3,7.8 562.0,28.6 573.7,51.6 585.3,34.5 597.0,25.4 608.7,34.3 620.3,40.3 632.0,32.8" stroke="#A2142F" stroke-width="1.4" fill="none"/>
<polyline points="363.7,56.4 375.3,47.3 387.0,44.5 398.7,42.3 410.3,42.2 422.0,42.6 433.7,40.3 445.3,49.9 457.0,50.4 468.7,55.7 480.3,62.3 492.0,62.0 503.7,58.2 515.3,48.9 527.0,37.7 538.7,22.0 550.3,13.3 562.0,46.1 573.7,68.5 585.3,52.6 597.0,40.0 608.7,52.3 620.3,54.4 632.0,52.8" stroke="#0072BD" stroke-width="1.4" fill="none"/>
<polyline points="363.7,43.1 375.3,43.9 387.0,37.8 398.7,33.8 410.3,35.3 422.0,34.3 433.7,36.7 445.3,37.5 457.0,39.8 468.7,41.4 480.3,46.4 492.0,45.3 503.7,42.7 515.3,34.8 527.0,26.7 538.7,11.6 550.3,6.9 562.0,32.2 573.7,58.3 585.3,46.1 597.0,35.2 608.7,37.9 620.3,48.2 632.0,46.1" stroke="#EA7A2C" stroke-width="1.4" fill="none"/>
<polyline points="363.7,63.7 375.3,52.7 387.0,53.5 398.7,51.5 410.3,50.6 422.0,50.4 433.7,51.2 445.3,54.9 457.0,57.8 468.7,60.6 480.3,66.5 492.0,68.5 503.7,68.8 515.3,63.9 527.0,49.0 538.7,47.6 550.3,29.1 562.0,59.0 573.7,87.2 585.3,68.9 597.0,57.9 608.7,61.0 620.3,74.3 632.0,60.9" stroke="#EDB120" stroke-width="1.4" fill="none"/>
<polyline points="363.7,64.8 375.3,55.3 387.0,55.1 398.7,58.0 410.3,49.0 422.0,51.2 433.7,51.5 445.3,54.2 457.0,55.1 468.7,63.0 480.3,68.2 492.0,68.0 503.7,65.2 515.3,61.4 527.0,53.2 538.7,38.3 550.3,37.0 562.0,69.3 573.7,90.7 585.3,66.6 597.0,55.9 608.7,68.0 620.3,70.9 632.0,71.4" stroke="#7E2F8E" stroke-width="1.4" fill="none"/>
<polyline points="363.7,45.9 375.3,39.4 387.0,41.5 398.7,37.6 410.3,36.3 422.0,35.8 433.7,40.8 445.3,40.5 457.0,41.1 468.7,45.5 480.3,48.8 492.0,55.2 503.7,47.8 515.3,35.5 527.0,28.0 538.7,13.1 550.3,9.5 562.0,38.4 573.7,59.8 585.3,43.2 597.0,37.9 608.7,45.8 620.3,48.1 632.0,45.9" stroke="#77AC30" stroke-width="1.4" fill="none"/>
<polyline points="363.7,56.5 375.3,50.6 387.0,45.2 398.7,43.5 410.3,43.0 422.0,42.6 433.7,44.6 445.3,49.1 457.0,50.7 468.7,53.7 480.3,59.6 492.0,67.2 503.7,60.4 515.3,44.8 527.0,33.5 538.7,35.3 550.3,26.0 562.0,49.1 573.7,78.3 585.3,51.5 597.0,48.5 608.7,55.5 620.3,53.4 632.0,53.6" stroke="#4DBEEE" stroke-width="1.4" fill="none"/>
<polyline points="363.7,52.5 375.3,42.8 387.0,41.7 398.7,41.8 410.3,37.3 422.0,36.5 433.7,39.2 445.3,42.0 457.0,48.3 468.7,49.3 480.3,52.2 492.0,62.8 503.7,49.9 515.3,41.4 527.0,29.5 538.7,16.3 550.3,9.6 562.0,38.5 573.7,63.2 585.3,43.0 597.0,38.7 608.7,44.5 620.3,49.9 632.0,48.1" stroke="#A2142F" stroke-width="1.4" fill="none"/>
<polyline points="363.7,45.3 375.3,42.2 387.0,32.7 398.7,35.4 410.3,33.8 422.0,30.4 433.7,36.2 445.3,36.9 457.0,39.7 468.7,40.0 480.3,50.6 492.0,53.4 503.7,44.7 515.3,35.7 527.0,23.5 538.7,11.7 550.3,6.1 562.0,29.4 573.7,53.0 585.3,41.1 597.0,34.9 608.7,37.8 620.3,46.5 632.0,48.6" stroke="#0072BD" stroke-width="1.4" fill="none"/>
<polyline points="363.7,54.8 375.3,47.9 387.0,44.7 398.7,40.2 410.3,41.9 422.0,42.4 433.7,42.1 445.3,46.6 457.0,48.9 468.7,48.6 480.3,62.0 492.0,61.8 503.7,55.5 515.3,47.5 527.0,32.2 538.7,15.2 550.3,20.5 562.0,38.4 573.7,70.8 585.3,54.4 597.0,51.4 608.7,55.3 620.3,57.9 632.0,52.2" stroke="#EA7A2C" stroke-width="1.4" fill="none"/>
<polyline points="363.7,66.3 375.3,58.0 387.0,56.2 398.7,52.9 410.3,54.1 422.0,51.3 433.7,51.4 445.3,55.2 457.0,58.6 468.7,61.2 480.3,69.8 492.0,74.7 503.7,68.1 515.3,53.4 527.0,45.7 538.7,47.4 550.3,37.8 562.0,75.8 573.7,89.5 585.3,65.6 597.0,66.3 608.7,67.0 620.3,70.0 632.0,68.7" stroke="#EDB120" stroke-width="1.4" fill="none"/>
<polyline points="363.7,55.2 375.3,52.5 387.0,45.1 398.7,48.5 410.3,45.8 422.0,46.8 433.7,47.4 445.3,50.3 457.0,48.2 468.7,54.0 480.3,61.0 492.0,66.8 503.7,57.5 515.3,48.0 527.0,37.8 538.7,35.7 550.3,14.9 562.0,44.9 573.7,78.7 585.3,51.5 597.0,51.9 608.7,54.0 620.3,56.2 632.0,56.4" stroke="#7E2F8E" stroke-width="1.4" fill="none"/>
<polyline points="363.7,58.7 375.3,52.0 387.0,52.3 398.7,47.6 410.3,45.9 422.0,45.2 433.7,46.7 445.3,52.4 457.0,49.6 468.7,57.5 480.3,62.2 492.0,66.3 503.7,61.8 515.3,54.6 527.0,42.3 538.7,29.8 550.3,26.1 562.0,54.6 573.7,77.7 585.3,59.1 597.0,56.0 608.7,57.1 620.3,62.9 632.0,55.6" stroke="#77AC30" stroke-width="1.4" fill="none"/>
<polyline points="363.7,40.1 375.3,32.6 387.0,37.4 398.7,33.4 410.3,35.8 422.0,39.0 433.7,34.3 445.3,39.9 457.0,40.5 468.7,39.1 480.3,43.3 492.0,50.2 503.7,47.0 515.3,33.7 527.0,20.0 538.7,9.3 550.3,6.2 562.0,32.3 573.7,54.9 585.3,39.6 597.0,34.8 608.7,34.5 620.3,41.0 632.0,38.4" stroke="#4DBEEE" stroke-width="1.4" fill="none"/>
<polyline points="363.7,42.7 375.3,39.6 387.0,38.8 398.7,33.7 410.3,33.8 422.0,36.5 433.7,36.2 445.3,41.0 457.0,38.9 468.7,42.8 480.3,45.4 492.0,50.9 503.7,42.5 515.3,35.6 527.0,26.0 538.7,12.7 550.3,5.1 562.0,32.5 573.7,57.2 585.3,36.8 597.0,30.3 608.7,37.1 620.3,44.8 632.0,39.1" stroke="#A2142F" stroke-width="1.4" fill="none"/>
<polyline points="363.7,40.1 375.3,37.4 387.0,40.4 398.7,32.7 410.3,37.3 422.0,36.8 433.7,35.2 445.3,40.3 457.0,39.6 468.7,43.3 480.3,43.4 492.0,48.4 503.7,38.8 515.3,28.4 527.0,22.2 538.7,9.8 550.3,7.0 562.0,31.7 573.7,53.1 585.3,38.4 597.0,31.6 608.7,28.9 620.3,41.8 632.0,38.7" stroke="#0072BD" stroke-width="1.4" fill="none"/>
<polyline points="363.7,56.9 375.3,49.0 387.0,49.5 398.7,49.3 410.3,49.4 422.0,49.5 433.7,50.3 445.3,51.8 457.0,55.4 468.7,56.7 480.3,64.9 492.0,68.9 503.7,67.5 515.3,53.9 527.0,38.0 538.7,41.0 550.3,22.6 562.0,56.2 573.7,78.8 585.3,57.2 597.0,59.0 608.7,59.3 620.3,61.8 632.0,60.6" stroke="#EA7A2C" stroke-width="1.4" fill="none"/>
<polyline points="363.7,40.6 375.3,35.6 387.0,34.1 398.7,33.4 410.3,33.2 422.0,34.1 433.7,33.1 445.3,36.6 457.0,40.0 468.7,46.7 480.3,47.8 492.0,38.8 503.7,39.9 515.3,31.0 527.0,23.0 538.7,12.8 550.3,7.0 562.0,20.1 573.7,54.1 585.3,38.0 597.0,31.7 608.7,39.1 620.3,36.8 632.0,41.6" stroke="#EDB120" stroke-width="1.4" fill="none"/>
<polyline points="363.7,54.4 375.3,49.0 387.0,49.8 398.7,41.0 410.3,38.2 422.0,43.7 433.7,41.5 445.3,49.5 457.0,48.2 468.7,52.0 480.3,61.8 492.0,62.1 503.7,59.0 515.3,41.6 527.0,40.1 538.7,18.4 550.3,18.9 562.0,39.7 573.7,64.8 585.3,52.7 597.0,46.3 608.7,55.6 620.3,57.7 632.0,55.6" stroke="#7E2F8E" stroke-width="1.4" fill="none"/>
<polyline points="363.7,67.0 375.3,55.1 387.0,58.0 398.7,55.0 410.3,53.2 422.0,51.7 433.7,55.0 445.3,54.0 457.0,55.9 468.7,61.0 480.3,66.6 492.0,74.2 503.7,69.6 515.3,59.3 527.0,56.4 538.7,44.8 550.3,39.5 562.0,70.3 573.7,95.3 585.3,66.8 597.0,60.8 608.7,62.6 620.3,74.8 632.0,63.5" stroke="#77AC30" stroke-width="1.4" fill="none"/>
<polyline points="363.7,31.7 375.3,29.0 387.0,31.6 398.7,33.3 410.3,31.9 422.0,29.3 433.7,32.9 445.3,34.5 457.0,39.8 468.7,32.9 480.3,38.7 492.0,42.8 503.7,35.6 515.3,27.9 527.0,19.0 538.7,6.9 550.3,3.0 562.0,20.3 573.7,43.0 585.3,28.8 597.0,24.2 608.7,30.1 620.3,37.6 632.0,29.6" stroke="#4DBEEE" stroke-width="1.4" fill="none"/>
<polyline points="363.7,39.6 375.3,35.2 387.0,31.6 398.7,30.4 410.3,34.2 422.0,34.3 433.7,34.2 445.3,33.8 457.0,41.1 468.7,42.0 480.3,43.4 492.0,45.5 503.7,33.6 515.3,32.7 527.0,18.4 538.7,10.8 550.3,6.4 562.0,26.0 573.7,56.7 585.3,35.0 597.0,30.8 608.7,35.3 620.3,39.5 632.0,35.3" stroke="#A2142F" stroke-width="1.4" fill="none"/>
<polyline points="363.7,54.7 375.3,47.8 387.0,44.4 398.7,42.6 410.3,45.8 422.0,42.2 433.7,41.9 445.3,44.1 457.0,46.8 468.7,48.6 480.3,59.7 492.0,61.6 503.7,54.0 515.3,41.0 527.0,31.8 538.7,17.7 550.3,9.9 562.0,45.1 573.7,70.4 585.3,52.8 597.0,47.7 608.7,49.2 620.3,60.1 632.0,50.1" stroke="#0072BD" stroke-width="1.4" fill="none"/>
<polyline points="363.7,65.2 375.3,55.2 387.0,55.5 398.7,51.1 410.3,48.3 422.0,51.5 433.7,50.6 445.3,56.7 457.0,57.4 468.7,61.6 480.3,68.5 492.0,72.2 503.7,67.0 515.3,59.1 527.0,50.0 538.7,54.0 550.3,29.1 562.0,67.2 573.7,93.2 585.3,66.8 597.0,67.5 608.7,65.4 620.3,66.6 632.0,66.1" stroke="#EA7A2C" stroke-width="1.4" fill="none"/>
<polyline points="363.7,47.5 375.3,44.5 387.0,37.9 398.7,37.7 410.3,35.5 422.0,34.0 433.7,36.5 445.3,37.0 457.0,41.5 468.7,45.5 480.3,52.6 492.0,56.6 503.7,45.9 515.3,37.1 527.0,26.4 538.7,13.8 550.3,4.9 562.0,30.0 573.7,61.4 585.3,39.5 597.0,36.1 608.7,43.2 620.3,39.7 632.0,42.7" stroke="#EDB120" stroke-width="1.4" fill="none"/>
<polyline points="363.7,31.6 375.3,29.0 387.0,32.3 398.7,30.4 410.3,32.1 422.0,30.8 433.7,30.3 445.3,33.0 457.0,33.1 468.7,31.7 480.3,35.8 492.0,40.7 503.7,37.2 515.3,26.8 527.0,18.3 538.7,6.3 550.3,3.3 562.0,22.9 573.7,43.0 585.3,37.4 597.0,24.2 608.7,34.3 620.3,37.1 632.0,30.1" stroke="#7E2F8E" stroke-width="1.4" fill="none"/>
<polyline points="363.7,64.7 375.3,56.6 387.0,56.8 398.7,53.3 410.3,50.6 422.0,51.3 433.7,49.6 445.3,55.3 457.0,58.0 468.7,61.2 480.3,68.5 492.0,71.2 503.7,68.7 515.3,54.4 527.0,50.7 538.7,45.0 550.3,42.6 562.0,72.1 573.7,92.9 585.3,66.0 597.0,66.3 608.7,61.6 620.3,70.9 632.0,61.3" stroke="#77AC30" stroke-width="1.4" fill="none"/>
<polyline points="363.7,44.9 375.3,35.8 387.0,34.5 398.7,31.7 410.3,32.2 422.0,34.3 433.7,34.7 445.3,34.5 457.0,38.7 468.7,38.9 480.3,47.5 492.0,50.7 503.7,41.8 515.3,33.2 527.0,23.0 538.7,7.8 550.3,6.7 562.0,28.0 573.7,56.6 585.3,32.7 597.0,33.6 608.7,33.1 620.3,42.3 632.0,42.9" stroke="#4DBEEE" stroke-width="1.4" fill="none"/>
<polyline points="363.7,61.3 375.3,57.3 387.0,52.6 398.7,52.1 410.3,53.1 422.0,51.6 433.7,53.7 445.3,56.3 457.0,57.5 468.7,62.3 480.3,70.6 492.0,71.7 503.7,70.0 515.3,64.0 527.0,52.4 538.7,48.8 550.3,33.4 562.0,65.4 573.7,90.6 585.3,65.8 597.0,67.4 608.7,60.7 620.3,69.7 632.0,65.4" stroke="#A2142F" stroke-width="1.4" fill="none"/>
<polyline points="363.7,62.2 375.3,50.7 387.0,52.4 398.7,47.9 410.3,46.5 422.0,49.9 433.7,47.5 445.3,53.0 457.0,54.2 468.7,57.3 480.3,63.7 492.0,64.0 503.7,61.0 515.3,54.6 527.0,44.9 538.7,27.8 550.3,32.9 562.0,61.0 573.7,76.2 585.3,57.7 597.0,57.2 608.7,54.0 620.3,62.4 632.0,61.2" stroke="#0072BD" stroke-width="1.4" fill="none"/>
<polyline points="363.7,59.7 375.3,53.2 387.0,49.1 398.7,48.2 410.3,51.8 422.0,45.1 433.7,47.3 445.3,52.0 457.0,53.0 468.7,59.5 480.3,64.6 492.0,69.3 503.7,57.2 515.3,57.9 527.0,48.7 538.7,31.8 550.3,34.5 562.0,59.7 573.7,85.2 585.3,65.3 597.0,55.9 608.7,56.0 620.3,64.6 632.0,57.8" stroke="#EA7A2C" stroke-width="1.4" fill="none"/>
<polyline points="363.7,57.2 375.3,50.7 387.0,52.0 398.7,50.2 410.3,44.1 422.0,49.1 433.7,43.8 445.3,49.5 457.0,52.9 468.7,58.6 480.3,64.8 492.0,67.5 503.7,64.3 515.3,54.8 527.0,47.4 538.7,28.9 550.3,17.5 562.0,53.6 573.7,82.7 585.3,59.9 597.0,56.8 608.7,59.2 620.3,64.6 632.0,62.3" stroke="#EDB120" stroke-width="1.4" fill="none"/>
<polyline points="363.7,52.9 375.3,42.3 387.0,41.4 398.7,37.1 410.3,38.8 422.0,36.5 433.7,42.1 445.3,40.6 457.0,46.7 468.7,49.1 480.3,52.6 492.0,60.9 503.7,50.9 515.3,44.9 527.0,26.7 538.7,14.2 550.3,7.6 562.0,39.1 573.7,67.3 585.3,49.0 597.0,39.5 608.7,42.7 620.3,58.4 632.0,50.7" stroke="#7E2F8E" stroke-width="1.4" fill="none"/>
<polyline points="363.7,54.7 375.3,44.1 387.0,49.5 398.7,48.9 410.3,45.7 422.0,43.4 433.7,42.7 445.3,44.9 457.0,51.3 468.7,53.1 480.3,59.9 492.0,61.7 503.7,57.4 515.3,50.3 527.0,42.4 538.7,25.1 550.3,17.7 562.0,41.8 573.7,67.9 585.3,52.0 597.0,50.8 608.7,53.6 620.3,61.1 632.0,56.4" stroke="#77AC30" stroke-width="1.4" fill="none"/>
<polyline points="363.7,33.9 375.3,35.3 387.0,32.6 398.7,37.1 410.3,34.0 422.0,32.7 433.7,37.4 445.3,35.8 457.0,40.0 468.7,39.0 480.3,45.8 492.0,46.2 503.7,42.7 515.3,35.5 527.0,19.7 538.7,6.9 550.3,7.5 562.0,27.3 573.7,55.6 585.3,36.3 597.0,34.6 608.7,40.3 620.3,36.0 632.0,39.8" stroke="#4DBEEE" stroke-width="1.4" fill="none"/>
<polyline points="363.7,56.7 375.3,52.3 387.0,52.1 398.7,46.3 410.3,44.6 422.0,50.6 433.7,48.4 445.3,52.7 457.0,52.3 468.7,56.7 480.3,64.8 492.0,68.2 503.7,63.1 515.3,59.4 527.0,45.1 538.7,28.0 550.3,24.2 562.0,58.2 573.7,86.7 585.3,58.8 597.0,54.2 608.7,58.7 620.3,62.6 632.0,59.1" stroke="#A2142F" stroke-width="1.4" fill="none"/>
<polyline points="363.7,59.1 375.3,51.3 387.0,47.3 398.7,47.1 410.3,41.4 422.0,47.2 433.7,46.9 445.3,49.8 457.0,49.0 468.7,58.7 480.3,55.9 492.0,62.7 503.7,57.8 515.3,52.2 527.0,33.2 538.7,29.9 550.3,20.8 562.0,50.0 573.7,79.5 585.3,60.7 597.0,52.0 608.7,54.3 620.3,53.9 632.0,61.8" stroke="#0072BD" stroke-width="1.4" fill="none"/>
<polyline points="363.7,59.0 375.3,55.1 387.0,56.8 398.7,52.6 410.3,47.9 422.0,55.0 433.7,52.2 445.3,55.3 457.0,58.3 468.7,56.5 480.3,66.9 492.0,70.4 503.7,70.0 515.3,57.0 527.0,47.7 538.7,36.1 550.3,31.2 562.0,64.6 573.7,88.3 585.3,63.9 597.0,68.0 608.7,63.9 620.3,70.8 632.0,69.6" stroke="#EA7A2C" stroke-width="1.4" fill="none"/>
<polyline points="363.7,35.4 375.3,31.5 387.0,35.4 398.7,32.5 410.3,35.0 422.0,31.6 433.7,30.3 445.3,36.0 457.0,40.5 468.7,38.0 480.3,44.3 492.0,46.9 503.7,45.8 515.3,31.7 527.0,21.5 538.7,8.9 550.3,4.0 562.0,30.3 573.7,55.5 585.3,33.1 597.0,31.1 608.7,33.9 620.3,37.6 632.0,35.8" stroke="#EDB120" stroke-width="1.4" fill="none"/>
<polyline points="363.7,41.3 375.3,40.3 387.0,39.1 398.7,37.3 410.3,36.2 422.0,37.3 433.7,38.5 445.3,39.0 457.0,43.6 468.7,44.3 480.3,56.2 492.0,49.5 503.7,47.3 515.3,39.3 527.0,25.7 538.7,13.0 550.3,7.8 562.0,34.5 573.7,55.9 585.3,43.9 597.0,36.1 608.7,36.2 620.3,48.0 632.0,43.0" stroke="#7E2F8E" stroke-width="1.4" fill="none"/>
<polyline points="363.7,40.0 375.3,36.3 387.0,32.5 398.7,34.2 410.3,31.1 422.0,31.6 433.7,36.5 445.3,36.0 457.0,41.5 468.7,38.1 480.3,43.8 492.0,43.1 503.7,43.3 515.3,30.4 527.0,22.8 538.7,10.5 550.3,6.3 562.0,27.0 573.7,51.5 585.3,36.3 597.0,27.4 608.7,25.2 620.3,40.7 632.0,43.4" stroke="#77AC30" stroke-width="1.4" fill="none"/>
<polyline points="363.7,62.4 375.3,51.6 387.0,46.4 398.7,44.3 410.3,46.5 422.0,46.4 433.7,45.7 445.3,51.1 457.0,50.7 468.7,56.7 480.3,62.0 492.0,65.7 503.7,62.9 515.3,50.4 527.0,45.4 538.7,37.1 550.3,19.2 562.0,64.6 573.7,72.2 585.3,57.4 597.0,54.3 608.7,49.7 620.3,64.5 632.0,61.6" stroke="#4DBEEE" stroke-width="1.4" fill="none"/>
<polyline points="363.7,63.1 375.3,55.0 387.0,53.1 398.7,55.4 410.3,49.4 422.0,50.5 433.7,51.5 445.3,56.0 457.0,58.2 468.7,57.4 480.3,63.2 492.0,70.2 503.7,65.3 515.3,55.0 527.0,50.5 538.7,46.0 550.3,36.4 562.0,73.3 573.7,82.6 585.3,64.1 597.0,67.2 608.7,64.1 620.3,65.2 632.0,65.8" stroke="#A2142F" stroke-width="1.4" fill="none"/>
<polyline points="363.7,65.1 375.3,54.3 387.0,54.1 398.7,47.8 410.3,47.7 422.0,51.3 433.7,47.1 445.3,52.5 457.0,51.6 468.7,60.6 480.3,65.0 492.0,69.8 503.7,60.4 515.3,51.5 527.0,53.0 538.7,36.2 550.3,27.6 562.0,63.1 573.7,85.4 585.3,56.5 597.0,53.5 608.7,60.0 620.3,65.9 632.0,63.7" stroke="#0072BD" stroke-width="1.4" fill="none"/>
<polyline points="363.7,54.8 375.3,49.5 387.0,44.7 398.7,41.9 410.3,41.1 422.0,43.4 433.7,43.5 445.3,46.6 457.0,49.9 468.7,54.1 480.3,61.1 492.0,63.8 503.7,55.3 515.3,50.4 527.0,29.9 538.7,27.1 550.3,14.0 562.0,50.1 573.7,76.9 585.3,49.5 597.0,49.7 608.7,53.5 620.3,56.8 632.0,56.2" stroke="#EA7A2C" stroke-width="1.4" fill="none"/>
<polyline points="363.7,38.1 375.3,33.2 387.0,36.5 398.7,34.8 410.3,34.4 422.0,32.0 433.7,37.0 445.3,40.1 457.0,38.3 468.7,37.9 480.3,43.0 492.0,48.9 503.7,44.0 515.3,29.4 527.0,18.0 538.7,10.8 550.3,5.8 562.0,26.9 573.7,53.9 585.3,33.1 597.0,29.9 608.7,32.2 620.3,40.7 632.0,41.0" stroke="#EDB120" stroke-width="1.4" fill="none"/>
<polyline points="363.7,44.2 375.3,46.2 387.0,41.6 398.7,37.8 410.3,34.8 422.0,36.4 433.7,38.7 445.3,42.8 457.0,43.4 468.7,48.6 480.3,51.0 492.0,54.0 503.7,51.5 515.3,38.0 527.0,27.5 538.7,15.6 550.3,10.1 562.0,33.2 573.7,60.7 585.3,41.5 597.0,34.0 608.7,44.3 620.3,47.0 632.0,40.2" stroke="#7E2F8E" stroke-width="1.4" fill="none"/>
<polyline points="363.7,30.6 375.3,31.9 387.0,33.5 398.7,32.7 410.3,31.7 422.0,28.6 433.7,33.0 445.3,32.7 457.0,32.8 468.7,31.2 480.3,44.4 492.0,43.5 503.7,36.9 515.3,29.6 527.0,19.3 538.7,6.0 550.3,5.3 562.0,25.6 573.7,49.6 585.3,37.7 597.0,31.6 608.7,25.9 620.3,33.8 632.0,36.1" stroke="#77AC30" stroke-width="1.4" fill="none"/>
<polyline points="363.7,60.0 375.3,53.8 387.0,52.0 398.7,48.0 410.3,47.2 422.0,46.1 433.7,47.4 445.3,49.3 457.0,50.5 468.7,56.6 480.3,63.1 492.0,69.2 503.7,65.6 515.3,53.8 527.0,45.4 538.7,31.6 550.3,22.9 562.0,56.1 573.7,79.7 585.3,60.9 597.0,55.3 608.7,62.7 620.3,63.6 632.0,56.3" stroke="#4DBEEE" stroke-width="1.4" fill="none"/>
<polyline points="363.7,58.3 375.3,52.7 387.0,52.8 398.7,47.6 410.3,46.8 422.0,48.7 433.7,46.1 445.3,52.0 457.0,54.8 468.7,58.7 480.3,66.2 492.0,68.6 503.7,63.2 515.3,49.6 527.0,33.6 538.7,30.1 550.3,34.5 562.0,58.3 573.7,72.1 585.3,59.2 597.0,56.4 608.7,53.5 620.3,66.0 632.0,57.8" stroke="#A2142F" stroke-width="1.4" fill="none"/>
<polyline points="363.7,65.1 375.3,58.0 387.0,53.3 398.7,56.4 410.3,49.6 422.0,55.0 433.7,53.4 445.3,58.5 457.0,58.6 468.7,59.7 480.3,67.8 492.0,70.4 503.7,65.8 515.3,62.6 527.0,57.6 538.7,53.6 550.3,43.0 562.0,68.3 573.7,93.6 585.3,65.0 597.0,65.4 608.7,67.7 620.3,71.5 632.0,67.4" stroke="#0072BD" stroke-width="1.4" fill="none"/>
<polyline points="363.7,65.7 375.3,55.6 387.0,52.4 398.7,53.9 410.3,49.9 422.0,55.0 433.7,52.5 445.3,53.3 457.0,58.3 468.7,62.2 480.3,69.0 492.0,71.6 503.7,67.7 515.3,62.0 527.0,56.6 538.7,49.3 550.3,45.0 562.0,68.4 573.7,95.3 585.3,66.4 597.0,57.4 608.7,61.5 620.3,65.8 632.0,62.9" stroke="#EA7A2C" stroke-width="1.4" fill="none"/>
<polyline points="363.7,59.9 375.3,54.6 387.0,50.3 398.7,51.1 410.3,46.5 422.0,51.0 433.7,49.0 445.3,52.2 457.0,55.0 468.7,62.0 480.3,66.4 492.0,70.8 503.7,61.5 515.3,54.3 527.0,48.0 538.7,29.6 550.3,37.8 562.0,63.0 573.7,84.1 585.3,61.8 597.0,57.1 608.7,59.2 620.3,70.6 632.0,65.3" stroke="#EDB120" stroke-width="1.4" fill="none"/>
<polyline points="363.7,50.1 375.3,43.8 387.0,45.2 398.7,38.1 410.3,37.9 422.0,41.1 433.7,42.3 445.3,41.5 457.0,46.5 468.7,50.9 480.3,56.4 492.0,56.3 503.7,55.6 515.3,40.6 527.0,29.1 538.7,12.8 550.3,10.1 562.0,32.8 573.7,68.2 585.3,51.2 597.0,39.8 608.7,48.2 620.3,53.0 632.0,49.3" stroke="#7E2F8E" stroke-width="1.4" fill="none"/>
<polyline points="363.7,44.5 375.3,40.1 387.0,37.6 398.7,39.6 410.3,36.5 422.0,36.7 433.7,38.6 445.3,39.7 457.0,42.3 468.7,47.4 480.3,54.2 492.0,55.3 503.7,42.9 515.3,37.2 527.0,26.0 538.7,14.0 550.3,7.3 562.0,29.9 573.7,59.1 585.3,40.9 597.0,33.0 608.7,40.8 620.3,49.6 632.0,44.4" stroke="#77AC30" stroke-width="1.4" fill="none"/>
<polyline points="363.7,53.5 375.3,45.6 387.0,42.1 398.7,46.8 410.3,29.4 422.0,31.4 433.7,28.6 445.3,37.9 457.0,48.5 468.7,42.4 480.3,53.5 492.0,35.6 503.7,46.3 515.3,26.0 527.0,42.3 538.7,16.6 550.3,11.5 562.0,29.5 573.7,63.6 585.3,48.2 597.0,29.7 608.7,31.3 620.3,42.1 632.0,34.3" stroke="#4DBEEE" stroke-width="1.4" fill="none"/>
<polyline points="363.7,61.8 375.3,51.6 387.0,60.2 398.7,40.4 410.3,57.4 422.0,47.4 433.7,48.2 445.3,46.3 457.0,56.5 468.7,59.3 480.3,69.1 492.0,67.8 503.7,67.5 515.3,68.3 527.0,57.3 538.7,35.3 550.3,50.2 562.0,65.8 573.7,97.6 585.3,71.4 597.0,57.5 608.7,44.5 620.3,66.7 632.0,72.7" stroke="#A2142F" stroke-width="1.4" fill="none"/>
<polyline points="363.7,66.3 375.3,59.6 387.0,50.0 398.7,60.6 410.3,57.4 422.0,57.2 433.7,57.1 445.3,60.6 457.0,61.8 468.7,61.1 480.3,67.2 492.0,75.5 503.7,59.2 515.3,42.1 527.0,38.2 538.7,50.9 550.3,43.9 562.0,39.2 573.7,61.9 585.3,61.7 597.0,58.7 608.7,62.4 620.3,76.2 632.0,74.5" stroke="#0072BD" stroke-width="1.4" fill="none"/>
<polyline points="363.7,67.2 375.3,48.7 387.0,44.9 398.7,54.9 410.3,55.6 422.0,56.0 433.7,55.0 445.3,59.8 457.0,61.3 468.7,48.4 480.3,62.3 492.0,74.0 503.7,70.1 515.3,42.0 527.0,61.7 538.7,34.8 550.3,30.9 562.0,70.1 573.7,97.6 585.3,50.7 597.0,71.8 608.7,63.1 620.3,60.7 632.0,62.6" stroke="#EA7A2C" stroke-width="1.4" fill="none"/>
<polyline points="363.7,57.1 375.3,55.1 387.0,47.5 398.7,49.0 410.3,48.3 422.0,50.2 433.7,57.1 445.3,53.5 457.0,54.2 468.7,62.1 480.3,72.5 492.0,67.1 503.7,68.6 515.3,40.3 527.0,61.7 538.7,53.1 550.3,50.2 562.0,62.1 573.7,70.6 585.3,71.4 597.0,68.6 608.7,53.1 620.3,51.9 632.0,68.8" stroke="#EDB120" stroke-width="1.4" fill="none"/>
<polyline points="363.7,58.6 375.3,26.3 387.0,28.1 398.7,30.6 410.3,28.5 422.0,26.8 433.7,40.3 445.3,31.7 457.0,30.4 468.7,28.1 480.3,44.9 492.0,48.3 503.7,37.5 515.3,22.8 527.0,20.4 538.7,9.3 550.3,1.9 562.0,27.5 573.7,39.4 585.3,24.6 597.0,21.3 608.7,25.2 620.3,27.0 632.0,35.1" stroke="#7E2F8E" stroke-width="1.4" fill="none"/>
<polyline points="363.7,53.9 375.3,46.9 387.0,47.5 398.7,41.9 410.3,32.8 422.0,37.9 433.7,48.4 445.3,35.3 457.0,46.5 468.7,45.4 480.3,45.4 492.0,46.7 503.7,53.4 515.3,43.8 527.0,31.2 538.7,7.7 550.3,8.6 562.0,41.9 573.7,77.0 585.3,55.0 597.0,50.0 608.7,57.1 620.3,60.1 632.0,39.3" stroke="#77AC30" stroke-width="1.4" fill="none"/>
<polyline points="363.7,28.1 375.3,26.3 387.0,28.0 398.7,47.1 410.3,28.5 422.0,26.8 433.7,30.3 445.3,46.1 457.0,37.4 468.7,42.4 480.3,40.2 492.0,45.0 503.7,54.2 515.3,38.0 527.0,20.7 538.7,14.3 550.3,9.6 562.0,22.9 573.7,54.3 585.3,38.6 597.0,22.0 608.7,46.7 620.3,36.4 632.0,29.3" stroke="#4DBEEE" stroke-width="1.4" fill="none"/>
<polyline points="363.7,36.4 375.3,55.0 387.0,35.2 398.7,43.6 410.3,37.1 422.0,43.7 433.7,44.7 445.3,38.9 457.0,45.1 468.7,52.1 480.3,58.2 492.0,58.9 503.7,50.5 515.3,49.1 527.0,47.2 538.7,25.4 550.3,7.5 562.0,45.7 573.7,66.8 585.3,54.6 597.0,65.0 608.7,45.3 620.3,53.0 632.0,40.3" stroke="#A2142F" stroke-width="1.4" fill="none"/>
<polyline points="363.7,55.8 375.3,59.6 387.0,53.1 398.7,44.5 410.3,57.4 422.0,38.7 433.7,54.3 445.3,58.8 457.0,57.6 468.7,56.2 480.3,63.7 492.0,65.2 503.7,68.6 515.3,30.8 527.0,37.4 538.7,38.8 550.3,18.4 562.0,31.4 573.7,78.2 585.3,53.6 597.0,65.9 608.7,70.8 620.3,65.5 632.0,41.0" stroke="#0072BD" stroke-width="1.4" fill="none"/>
<polyline points="363.7,51.1 375.3,49.0 387.0,44.4 398.7,40.1 410.3,39.6 422.0,40.1 433.7,41.8 445.3,44.5 457.0,51.0 468.7,52.4 480.3,55.5 492.0,60.9 503.7,57.1 515.3,43.9 527.0,35.8 538.7,16.3 550.3,10.3 562.0,51.1 573.7,69.4 585.3,54.0 597.0,46.3 608.7,52.1 620.3,55.9 632.0,52.2" stroke="#EA7A2C" stroke-width="1.4" fill="none"/>
<polyline points="363.7,53.4 375.3,48.7 387.0,46.7 398.7,42.0 410.3,38.5 422.0,43.4 433.7,45.0 445.3,47.2 457.0,46.5 468.7,54.5 480.3,63.2 492.0,58.4 503.7,49.6 515.3,45.3 527.0,34.4 538.7,25.9 550.3,19.3 562.0,45.5 573.7,73.1 585.3,54.5 597.0,46.4 608.7,51.5 620.3,56.5 632.0,55.8" stroke="#EDB120" stroke-width="1.4" fill="none"/>
<polyline points="363.7,62.3 375.3,56.7 387.0,52.6 398.7,52.8 410.3,51.1 422.0,47.4 433.7,50.6 445.3,56.5 457.0,58.2 468.7,58.3 480.3,65.8 492.0,68.8 503.7,65.6 515.3,59.0 527.0,44.4 538.7,45.8 550.3,36.2 562.0,66.0 573.7,85.2 585.3,64.3 597.0,55.0 608.7,63.6 620.3,69.9 632.0,65.7" stroke="#7E2F8E" stroke-width="1.4" fill="none"/>
<polyline points="363.7,64.4 375.3,55.8 387.0,49.0 398.7,52.8 410.3,49.8 422.0,44.8 433.7,51.1 445.3,54.9 457.0,56.9 468.7,59.4 480.3,65.0 492.0,68.7 503.7,65.8 515.3,60.8 527.0,46.2 538.7,39.5 550.3,36.2 562.0,52.7 573.7,87.1 585.3,62.5 597.0,51.3 608.7,63.3 620.3,64.9 632.0,66.4" stroke="#77AC30" stroke-width="1.4" fill="none"/>
<polyline points="363.7,41.0 375.3,38.5 387.0,39.1 398.7,34.7 410.3,37.3 422.0,37.1 433.7,39.1 445.3,37.1 457.0,43.7 468.7,46.9 480.3,45.7 492.0,56.1 503.7,43.5 515.3,37.7 527.0,23.7 538.7,14.6 550.3,10.0 562.0,33.5 573.7,59.8 585.3,48.1 597.0,34.9 608.7,41.4 620.3,49.5 632.0,45.5" stroke="#4DBEEE" stroke-width="1.4" fill="none"/>
<polyline points="363.7,58.1 375.3,52.4 387.0,46.6 398.7,47.2 410.3,41.1 422.0,45.7 433.7,47.6 445.3,52.4 457.0,48.7 468.7,54.3 480.3,62.2 492.0,61.7 503.7,59.7 515.3,49.8 527.0,34.9 538.7,22.8 550.3,14.4 562.0,50.0 573.7,78.6 585.3,56.2 597.0,58.2 608.7,49.6 620.3,57.3 632.0,57.7" stroke="#A2142F" stroke-width="1.4" fill="none"/>
<polyline points="363.7,61.9 375.3,54.8 387.0,52.5 398.7,50.5 410.3,50.7 422.0,50.0 433.7,50.8 445.3,54.1 457.0,54.1 468.7,57.0 480.3,64.9 492.0,69.4 503.7,63.6 515.3,59.1 527.0,47.7 538.7,44.1 550.3,31.8 562.0,58.0 573.7,87.3 585.3,63.5 597.0,54.8 608.7,59.3 620.3,74.5 632.0,53.7" stroke="#0072BD" stroke-width="1.4" fill="none"/>
<polyline points="363.7,61.5 375.3,53.6 387.0,51.7 398.7,50.0 410.3,54.0 422.0,48.5 433.7,49.0 445.3,54.7 457.0,55.9 468.7,58.4 480.3,65.2 492.0,66.4 503.7,66.4 515.3,53.2 527.0,37.8 538.7,44.8 550.3,35.1 562.0,63.5 573.7,82.2 585.3,65.5 597.0,54.1 608.7,54.8 620.3,67.1 632.0,65.7" stroke="#EA7A2C" stroke-width="1.4" fill="none"/>
<polyline points="363.7,61.3 375.3,51.8 387.0,47.5 398.7,45.7 410.3,46.3 422.0,45.1 433.7,45.3 445.3,45.9 457.0,51.3 468.7,53.6 480.3,62.5 492.0,65.1 503.7,61.3 515.3,55.6 527.0,38.4 538.7,36.2 550.3,16.3 562.0,52.3 573.7,79.9 585.3,62.1 597.0,46.7 608.7,54.4 620.3,61.1 632.0,57.3" stroke="#EDB120" stroke-width="1.4" fill="none"/>
<polyline points="363.7,54.2 375.3,49.0 387.0,48.3 398.7,43.4 410.3,48.7 422.0,48.1 433.7,42.2 445.3,48.7 457.0,54.4 468.7,58.1 480.3,64.4 492.0,62.3 503.7,59.5 515.3,54.7 527.0,40.3 538.7,27.5 550.3,25.2 562.0,57.6 573.7,77.5 585.3,58.2 597.0,55.3 608.7,54.2 620.3,58.7 632.0,60.4" stroke="#7E2F8E" stroke-width="1.4" fill="none"/>
<polyline points="363.7,54.6 375.3,46.7 387.0,46.2 398.7,39.6 410.3,43.0 422.0,42.3 433.7,41.6 445.3,44.3 457.0,48.7 468.7,51.1 480.3,56.1 492.0,63.5 503.7,57.5 515.3,48.6 527.0,28.9 538.7,14.7 550.3,9.6 562.0,46.3 573.7,72.6 585.3,47.0 597.0,48.2 608.7,49.4 620.3,52.0 632.0,52.5" stroke="#77AC30" stroke-width="1.4" fill="none"/>
<polyline points="363.7,42.4 375.3,39.5 387.0,36.5 398.7,34.3 410.3,35.1 422.0,33.2 433.7,37.6 445.3,37.8 457.0,44.8 468.7,39.3 480.3,53.7 492.0,49.1 503.7,43.1 515.3,36.4 527.0,26.7 538.7,12.5 550.3,7.3 562.0,37.6 573.7,59.3 585.3,38.1 597.0,33.7 608.7,45.1 620.3,45.9 632.0,44.9" stroke="#4DBEEE" stroke-width="1.4" fill="none"/>
<polyline points="363.7,54.1 375.3,49.8 387.0,44.7 398.7,43.9 410.3,43.5 422.0,40.7 433.7,44.1 445.3,47.8 457.0,52.1 468.7,53.3 480.3,58.2 492.0,63.8 503.7,55.6 515.3,47.9 527.0,37.9 538.7,19.5 550.3,16.8 562.0,41.9 573.7,62.2 585.3,50.8 597.0,40.4 608.7,52.8 620.3,55.0 632.0,54.6" stroke="#A2142F" stroke-width="1.4" fill="none"/>
<polyline points="363.7,40.2 375.3,34.2 387.0,33.7 398.7,34.2 410.3,35.2 422.0,32.5 433.7,34.1 445.3,35.3 457.0,36.4 468.7,33.7 480.3,43.1 492.0,45.2 503.7,38.9 515.3,35.8 527.0,20.7 538.7,10.1 550.3,5.2 562.0,29.1 573.7,50.2 585.3,41.8 597.0,28.2 608.7,35.0 620.3,41.8 632.0,35.6" stroke="#0072BD" stroke-width="1.4" fill="none"/>
<polyline points="363.7,40.5 375.3,35.9 387.0,35.3 398.7,35.6 410.3,36.8 422.0,33.6 433.7,36.2 445.3,36.2 457.0,40.7 468.7,37.6 480.3,44.3 492.0,49.2 503.7,40.8 515.3,32.7 527.0,25.3 538.7,11.1 550.3,6.0 562.0,25.0 573.7,53.0 585.3,43.0 597.0,31.8 608.7,35.6 620.3,44.5 632.0,42.3" stroke="#EA7A2C" stroke-width="1.4" fill="none"/>
<polyline points="363.7,37.4 375.3,34.2 387.0,32.4 398.7,33.3 410.3,33.3 422.0,34.8 433.7,35.0 445.3,35.7 457.0,40.9 468.7,36.2 480.3,41.8 492.0,44.2 503.7,37.9 515.3,31.4 527.0,20.8 538.7,9.3 550.3,7.6 562.0,22.7 573.7,49.5 585.3,36.8 597.0,31.8 608.7,35.9 620.3,39.4 632.0,36.9" stroke="#EDB120" stroke-width="1.4" fill="none"/>
<polyline points="363.7,64.0 375.3,53.2 387.0,48.5 398.7,53.0 410.3,47.5 422.0,50.4 433.7,53.4 445.3,54.4 457.0,59.4 468.7,57.1 480.3,67.1 492.0,71.2 503.7,67.1 515.3,55.9 527.0,49.8 538.7,43.1 550.3,34.8 562.0,57.9 573.7,79.7 585.3,65.3 597.0,61.3 608.7,62.2 620.3,70.2 632.0,68.2" stroke="#7E2F8E" stroke-width="1.4" fill="none"/>
<polyline points="363.7,60.3 375.3,54.1 387.0,51.8 398.7,49.6 410.3,47.6 422.0,43.9 433.7,46.1 445.3,52.7 457.0,55.7 468.7,57.5 480.3,62.7 492.0,66.3 503.7,63.4 515.3,58.9 527.0,45.3 538.7,30.3 550.3,28.7 562.0,57.9 573.7,88.9 585.3,60.8 597.0,53.8 608.7,57.2 620.3,59.6 632.0,57.0" stroke="#77AC30" stroke-width="1.4" fill="none"/>
<polyline points="363.7,43.5 375.3,42.8 387.0,40.0 398.7,39.2 410.3,38.8 422.0,37.7 433.7,37.8 445.3,37.6 457.0,44.8 468.7,48.5 480.3,49.9 492.0,53.4 503.7,46.7 515.3,40.9 527.0,28.0 538.7,15.8 550.3,7.3 562.0,44.1 573.7,57.9 585.3,41.7 597.0,37.7 608.7,40.4 620.3,53.9 632.0,44.0" stroke="#4DBEEE" stroke-width="1.4" fill="none"/>
<polyline points="363.7,66.5 375.3,58.0 387.0,53.7 398.7,53.9 410.3,51.5 422.0,52.2 433.7,55.0 445.3,58.5 457.0,59.7 468.7,63.0 480.3,68.5 492.0,74.3 503.7,67.3 515.3,58.9 527.0,57.6 538.7,38.4 550.3,39.1 562.0,66.7 573.7,83.8 585.3,65.5 597.0,63.8 608.7,65.9 620.3,68.8 632.0,70.0" stroke="#A2142F" stroke-width="1.4" fill="none"/>
<polyline points="363.7,65.7 375.3,52.8 387.0,54.0 398.7,52.9 410.3,53.0 422.0,50.5 433.7,51.1 445.3,53.5 457.0,55.5 468.7,59.3 480.3,69.7 492.0,69.7 503.7,61.8 515.3,61.3 527.0,50.2 538.7,49.1 550.3,40.4 562.0,66.8 573.7,87.7 585.3,64.4 597.0,62.6 608.7,62.0 620.3,71.0 632.0,71.1" stroke="#0072BD" stroke-width="1.4" fill="none"/>
<polyline points="363.7,58.6 375.3,51.7 387.0,52.1 398.7,51.1 410.3,50.5 422.0,49.4 433.7,48.4 445.3,52.7 457.0,51.9 468.7,58.5 480.3,64.8 492.0,72.1 503.7,65.6 515.3,51.8 527.0,42.2 538.7,40.5 550.3,18.3 562.0,53.8 573.7,83.0 585.3,62.3 597.0,56.2 608.7,61.9 620.3,63.9 632.0,61.8" stroke="#EA7A2C" stroke-width="1.4" fill="none"/>
<polyline points="363.7,45.0 375.3,44.3 387.0,40.1 398.7,39.0 410.3,34.3 422.0,38.8 433.7,38.4 445.3,41.4 457.0,45.6 468.7,47.4 480.3,57.4 492.0,60.3 503.7,54.2 515.3,42.6 527.0,28.9 538.7,15.1 550.3,8.0 562.0,35.4 573.7,67.3 585.3,49.9 597.0,37.8 608.7,45.4 620.3,53.8 632.0,47.0" stroke="#EDB120" stroke-width="1.4" fill="none"/>
<polyline points="363.7,48.4 375.3,47.5 387.0,43.7 398.7,40.1 410.3,39.0 422.0,40.7 433.7,36.7 445.3,44.8 457.0,49.1 468.7,51.9 480.3,59.2 492.0,55.2 503.7,53.3 515.3,42.7 527.0,28.9 538.7,20.6 550.3,10.8 562.0,37.0 573.7,68.4 585.3,52.0 597.0,39.9 608.7,49.5 620.3,53.8 632.0,50.7" stroke="#7E2F8E" stroke-width="1.4" fill="none"/>
<polyline points="363.7,51.1 375.3,44.4 387.0,40.1 398.7,38.5 410.3,37.5 422.0,37.2 433.7,37.5 445.3,41.8 457.0,43.1 468.7,45.7 480.3,49.2 492.0,54.2 503.7,52.8 515.3,39.2 527.0,27.2 538.7,13.7 550.3,8.4 562.0,30.3 573.7,66.9 585.3,43.3 597.0,33.4 608.7,44.5 620.3,49.3 632.0,44.2" stroke="#77AC30" stroke-width="1.4" fill="none"/>
<polyline points="363.7,39.9 375.3,45.0 387.0,38.6 398.7,36.0 410.3,38.5 422.0,35.6 433.7,35.8 445.3,41.3 457.0,43.6 468.7,49.6 480.3,45.8 492.0,53.8 503.7,41.8 515.3,38.0 527.0,24.5 538.7,12.4 550.3,7.3 562.0,35.3 573.7,64.5 585.3,43.1 597.0,34.9 608.7,38.8 620.3,47.9 632.0,40.4" stroke="#4DBEEE" stroke-width="1.4" fill="none"/>
<polyline points="363.7,58.2 375.3,54.4 387.0,49.9 398.7,44.6 410.3,42.5 422.0,45.9 433.7,45.6 445.3,50.2 457.0,51.1 468.7,60.3 480.3,67.1 492.0,62.6 503.7,62.4 515.3,56.1 527.0,40.7 538.7,31.4 550.3,30.5 562.0,58.0 573.7,74.3 585.3,62.2 597.0,51.6 608.7,62.1 620.3,60.1 632.0,53.1" stroke="#A2142F" stroke-width="1.4" fill="none"/>
<polyline points="363.7,58.4 375.3,50.4 387.0,47.0 398.7,42.4 410.3,45.0 422.0,40.2 433.7,45.9 445.3,45.7 457.0,49.7 468.7,52.5 480.3,59.3 492.0,66.7 503.7,56.0 515.3,48.7 527.0,33.6 538.7,30.8 550.3,12.0 562.0,48.4 573.7,77.2 585.3,61.3 597.0,44.1 608.7,51.1 620.3,58.7 632.0,60.0" stroke="#0072BD" stroke-width="1.4" fill="none"/>
<polyline points="363.7,36.5 375.3,31.3 387.0,30.9 398.7,29.9 410.3,32.1 422.0,32.8 433.7,32.0 445.3,31.0 457.0,34.7 468.7,38.5 480.3,43.3 492.0,44.2 503.7,41.6 515.3,24.8 527.0,17.2 538.7,11.9 550.3,5.3 562.0,22.1 573.7,46.5 585.3,28.0 597.0,28.8 608.7,23.6 620.3,30.5 632.0,33.4" stroke="#EA7A2C" stroke-width="1.4" fill="none"/>
<polyline points="363.7,57.1 375.3,51.8 387.0,47.9 398.7,48.2 410.3,41.5 422.0,50.4 433.7,44.4 445.3,51.1 457.0,49.0 468.7,59.0 480.3,63.6 492.0,70.0 503.7,59.3 515.3,54.7 527.0,40.0 538.7,30.7 550.3,30.1 562.0,49.1 573.7,80.8 585.3,63.3 597.0,58.6 608.7,59.2 620.3,63.0 632.0,56.0" stroke="#EDB120" stroke-width="1.4" fill="none"/>
<polyline points="363.7,38.1 375.3,41.0 387.0,35.9 398.7,35.2 410.3,34.5 422.0,35.5 433.7,34.6 445.3,38.2 457.0,39.1 468.7,43.1 480.3,47.7 492.0,50.6 503.7,40.5 515.3,34.4 527.0,23.5 538.7,12.2 550.3,6.8 562.0,25.9 573.7,57.4 585.3,37.2 597.0,32.9 608.7,28.7 620.3,43.8 632.0,41.9" stroke="#7E2F8E" stroke-width="1.4" fill="none"/>
<polyline points="363.7,59.8 375.3,51.0 387.0,52.3 398.7,49.5 410.3,43.0 422.0,46.2 433.7,43.4 445.3,49.9 457.0,53.9 468.7,57.9 480.3,63.1 492.0,65.8 503.7,61.7 515.3,50.4 527.0,43.1 538.7,38.3 550.3,26.0 562.0,59.5 573.7,75.8 585.3,57.6 597.0,54.4 608.7,62.5 620.3,65.8 632.0,64.6" stroke="#77AC30" stroke-width="1.4" fill="none"/>
<polyline points="363.7,64.8 375.3,51.8 387.0,54.3 398.7,47.1 410.3,52.6 422.0,51.3 433.7,52.8 445.3,54.9 457.0,55.2 468.7,58.3 480.3,66.9 492.0,73.4 503.7,66.5 515.3,56.2 527.0,46.6 538.7,38.3 550.3,32.9 562.0,63.8 573.7,84.3 585.3,63.7 597.0,54.1 608.7,66.1 620.3,68.9 632.0,69.3" stroke="#4DBEEE" stroke-width="1.4" fill="none"/>
<polyline points="363.7,62.1 375.3,51.4 387.0,49.7 398.7,48.5 410.3,44.5 422.0,45.9 433.7,50.8 445.3,52.5 457.0,52.2 468.7,57.5 480.3,61.9 492.0,69.4 503.7,59.3 515.3,55.2 527.0,42.1 538.7,32.9 550.3,21.4 562.0,54.1 573.7,76.1 585.3,56.8 597.0,55.1 608.7,63.9 620.3,61.9 632.0,62.7" stroke="#A2142F" stroke-width="1.4" fill="none"/>
<polyline points="363.7,57.6 375.3,54.1 387.0,51.3 398.7,51.3 410.3,46.7 422.0,47.4 433.7,45.8 445.3,50.5 457.0,56.3 468.7,53.5 480.3,64.5 492.0,70.0 503.7,63.6 515.3,55.8 527.0,41.8 538.7,39.7 550.3,32.0 562.0,56.2 573.7,86.7 585.3,58.3 597.0,45.2 608.7,57.7 620.3,63.2 632.0,57.9" stroke="#0072BD" stroke-width="1.4" fill="none"/>
<polyline points="363.7,47.0 375.3,39.6 387.0,43.5 398.7,38.9 410.3,42.8 422.0,38.7 433.7,39.9 445.3,39.8 457.0,47.8 468.7,45.6 480.3,56.3 492.0,59.5 503.7,54.0 515.3,37.9 527.0,26.7 538.7,16.2 550.3,11.1 562.0,41.8 573.7,63.3 585.3,47.2 597.0,45.0 608.7,43.0 620.3,52.9 632.0,46.6" stroke="#EA7A2C" stroke-width="1.4" fill="none"/>
<polyline points="363.7,36.8 375.3,39.2 387.0,37.0 398.7,35.9 410.3,34.1 422.0,33.7 433.7,35.9 445.3,37.6 457.0,36.9 468.7,40.3 480.3,52.2 492.0,47.1 503.7,45.2 515.3,33.4 527.0,24.9 538.7,10.0 550.3,5.4 562.0,30.4 573.7,52.6 585.3,39.4 597.0,31.3 608.7,39.7 620.3,43.1 632.0,40.3" stroke="#EDB120" stroke-width="1.4" fill="none"/>
<polyline points="363.7,50.3 375.3,47.2 387.0,46.9 398.7,44.5 410.3,42.6 422.0,41.6 433.7,40.9 445.3,48.8 457.0,49.8 468.7,54.3 480.3,58.0 492.0,60.6 503.7,58.3 515.3,48.2 527.0,30.2 538.7,23.2 550.3,10.4 562.0,50.9 573.7,73.4 585.3,59.4 597.0,51.2 608.7,49.8 620.3,57.3 632.0,52.3" stroke="#7E2F8E" stroke-width="1.4" fill="none"/>
<polyline points="363.7,45.1 375.3,39.5 387.0,37.8 398.7,34.1 410.3,36.1 422.0,35.5 433.7,37.3 445.3,41.1 457.0,41.7 468.7,45.4 480.3,46.9 492.0,54.0 503.7,45.3 515.3,33.6 527.0,24.2 538.7,10.1 550.3,6.8 562.0,29.6 573.7,57.1 585.3,41.2 597.0,32.1 608.7,37.8 620.3,37.2 632.0,42.1" stroke="#77AC30" stroke-width="1.4" fill="none"/>
<polyline points="363.7,55.5 375.3,49.8 387.0,44.3 398.7,42.1 410.3,39.8 422.0,41.0 433.7,42.7 445.3,48.8 457.0,45.9 468.7,52.4 480.3,59.8 492.0,59.2 503.7,57.4 515.3,41.3 527.0,31.7 538.7,15.3 550.3,15.4 562.0,39.8 573.7,72.4 585.3,52.1 597.0,41.7 608.7,49.8 620.3,56.4 632.0,53.0" stroke="#4DBEEE" stroke-width="1.4" fill="none"/>
<polyline points="363.7,47.2 375.3,44.0 387.0,42.5 398.7,37.9 410.3,38.2 422.0,36.3 433.7,40.5 445.3,43.2 457.0,44.6 468.7,47.5 480.3,49.0 492.0,56.7 503.7,50.3 515.3,36.2 527.0,27.2 538.7,15.8 550.3,9.5 562.0,37.1 573.7,61.1 585.3,49.8 597.0,38.9 608.7,47.7 620.3,56.9 632.0,41.1" stroke="#A2142F" stroke-width="1.4" fill="none"/>
<polyline points="363.7,51.4 375.3,44.4 387.0,44.7 398.7,39.5 410.3,42.2 422.0,41.4 433.7,41.2 445.3,44.2 457.0,48.8 468.7,52.3 480.3,60.1 492.0,60.3 503.7,56.6 515.3,43.4 527.0,30.5 538.7,14.0 550.3,10.3 562.0,40.6 573.7,62.2 585.3,45.7 597.0,40.8 608.7,49.1 620.3,47.6 632.0,51.1" stroke="#0072BD" stroke-width="1.4" fill="none"/>
<polyline points="363.7,34.2 375.3,34.5 387.0,34.4 398.7,31.8 410.3,33.2 422.0,32.6 433.7,30.9 445.3,35.7 457.0,38.6 468.7,33.7 480.3,44.5 492.0,43.7 503.7,33.7 515.3,26.6 527.0,18.7 538.7,9.7 550.3,4.5 562.0,22.7 573.7,45.3 585.3,34.3 597.0,24.0 608.7,28.1 620.3,38.8 632.0,36.8" stroke="#EA7A2C" stroke-width="1.4" fill="none"/>
<polyline points="363.7,44.4 375.3,42.4 387.0,38.9 398.7,38.8 410.3,37.9 422.0,36.5 433.7,35.4 445.3,40.0 457.0,45.8 468.7,48.4 480.3,54.4 492.0,56.3 503.7,45.7 515.3,37.6 527.0,27.9 538.7,13.6 550.3,9.0 562.0,29.7 573.7,55.1 585.3,49.9 597.0,37.9 608.7,42.9 620.3,51.1 632.0,50.6" stroke="#EDB120" stroke-width="1.4" fill="none"/>
<polyline points="363.7,53.4 375.3,52.0 387.0,51.3 398.7,42.9 410.3,41.6 422.0,46.0 433.7,50.4 445.3,52.1 457.0,56.4 468.7,56.9 480.3,65.0 492.0,69.3 503.7,62.0 515.3,51.8 527.0,41.8 538.7,15.5 550.3,26.0 562.0,45.1 573.7,75.2 585.3,60.4 597.0,54.2 608.7,51.3 620.3,63.9 632.0,61.4" stroke="#7E2F8E" stroke-width="1.4" fill="none"/>
<polyline points="363.7,64.0 375.3,55.6 387.0,50.0 398.7,52.2 410.3,49.6 422.0,48.1 433.7,50.7 445.3,52.8 457.0,56.2 468.7,58.3 480.3,68.6 492.0,75.0 503.7,64.2 515.3,58.4 527.0,49.5 538.7,45.0 550.3,33.7 562.0,53.7 573.7,88.1 585.3,63.7 597.0,56.3 608.7,61.7 620.3,67.0 632.0,65.8" stroke="#77AC30" stroke-width="1.4" fill="none"/>
<polyline points="363.7,36.6 375.3,36.0 387.0,35.4 398.7,33.9 410.3,34.9 422.0,33.5 433.7,32.8 445.3,39.5 457.0,38.7 468.7,43.6 480.3,40.8 492.0,48.5 503.7,46.1 515.3,34.6 527.0,22.0 538.7,9.1 550.3,5.2 562.0,25.7 573.7,48.8 585.3,34.2 597.0,26.8 608.7,29.6 620.3,40.1 632.0,31.6" stroke="#4DBEEE" stroke-width="1.4" fill="none"/>
<polyline points="363.7,39.3 375.3,33.0 387.0,33.0 398.7,33.7 410.3,33.1 422.0,34.4 433.7,30.6 445.3,35.7 457.0,41.1 468.7,38.8 480.3,49.2 492.0,52.8 503.7,38.2 515.3,34.8 527.0,22.5 538.7,9.8 550.3,5.4 562.0,25.1 573.7,48.4 585.3,35.6 597.0,31.9 608.7,37.1 620.3,37.6 632.0,38.3" stroke="#A2142F" stroke-width="1.4" fill="none"/>
<polyline points="363.7,32.3 375.3,39.6 387.0,34.2 398.7,33.4 410.3,35.5 422.0,37.2 433.7,33.5 445.3,36.0 457.0,38.1 468.7,39.8 480.3,45.4 492.0,46.7 503.7,37.8 515.3,38.0 527.0,22.4 538.7,10.1 550.3,7.7 562.0,27.6 573.7,58.3 585.3,41.7 597.0,34.7 608.7,34.5 620.3,44.0 632.0,34.8" stroke="#0072BD" stroke-width="1.4" fill="none"/>
<polyline points="363.7,64.5 375.3,55.5 387.0,58.0 398.7,54.1 410.3,48.2 422.0,52.5 433.7,51.9 445.3,56.4 457.0,55.8 468.7,59.8 480.3,68.4 492.0,73.8 503.7,68.1 515.3,63.3 527.0,47.1 538.7,46.1 550.3,39.8 562.0,74.2 573.7,91.2 585.3,65.7 597.0,63.0 608.7,64.3 620.3,66.9 632.0,67.8" stroke="#EA7A2C" stroke-width="1.4" fill="none"/>
<polyline points="363.7,53.1 375.3,41.4 387.0,42.5 398.7,37.7 410.3,40.8 422.0,40.8 433.7,41.7 445.3,42.8 457.0,43.0 468.7,47.9 480.3,55.8 492.0,54.5 503.7,50.5 515.3,47.3 527.0,27.1 538.7,17.6 550.3,8.2 562.0,39.6 573.7,68.9 585.3,51.2 597.0,45.4 608.7,52.8 620.3,48.3 632.0,50.7" stroke="#EDB120" stroke-width="1.4" fill="none"/>
<polyline points="363.7,36.0 375.3,37.5 387.0,33.8 398.7,34.4 410.3,33.8 422.0,31.9 433.7,33.5 445.3,33.0 457.0,37.2 468.7,37.0 480.3,41.0 492.0,42.8 503.7,40.9 515.3,28.7 527.0,24.5 538.7,10.7 550.3,5.8 562.0,21.8 573.7,52.2 585.3,34.3 597.0,27.5 608.7,26.2 620.3,38.4 632.0,35.3" stroke="#7E2F8E" stroke-width="1.4" fill="none"/>
<polyline points="363.7,62.0 375.3,54.8 387.0,51.6 398.7,52.3 410.3,54.1 422.0,50.1 433.7,55.0 445.3,52.5 457.0,58.8 468.7,61.9 480.3,69.5 492.0,72.5 503.7,62.9 515.3,63.1 527.0,54.9 538.7,45.0 550.3,25.1 562.0,72.3 573.7,84.6 585.3,64.3 597.0,66.1 608.7,66.8 620.3,70.7 632.0,64.7" stroke="#77AC30" stroke-width="1.4" fill="none"/>
<polyline points="363.7,57.8 375.3,49.1 387.0,44.3 398.7,44.9 410.3,39.5 422.0,47.1 433.7,44.9 445.3,47.0 457.0,51.1 468.7,51.5 480.3,60.5 492.0,61.8 503.7,54.7 515.3,45.6 527.0,37.3 538.7,17.0 550.3,16.8 562.0,40.1 573.7,73.7 585.3,50.1 597.0,50.3 608.7,54.7 620.3,60.7 632.0,60.4" stroke="#4DBEEE" stroke-width="1.4" fill="none"/>
<polyline points="363.7,53.3 375.3,48.4 387.0,42.9 398.7,38.1 410.3,38.0 422.0,39.0 433.7,42.0 445.3,44.1 457.0,47.7 468.7,53.3 480.3,58.9 492.0,64.8 503.7,55.5 515.3,41.3 527.0,36.3 538.7,16.5 550.3,11.7 562.0,46.5 573.7,68.9 585.3,53.6 597.0,41.5 608.7,49.0 620.3,56.8 632.0,50.3" stroke="#A2142F" stroke-width="1.4" fill="none"/>
<polyline points="363.7,54.5 375.3,51.1 387.0,48.5 398.7,43.7 410.3,41.7 422.0,41.3 433.7,45.7 445.3,47.7 457.0,51.3 468.7,51.1 480.3,61.3 492.0,62.6 503.7,58.9 515.3,49.6 527.0,34.5 538.7,20.5 550.3,19.3 562.0,39.7 573.7,77.1 585.3,54.8 597.0,42.4 608.7,55.4 620.3,60.1 632.0,58.6" stroke="#0072BD" stroke-width="1.4" fill="none"/>
<polyline points="363.7,37.1 375.3,34.1 387.0,31.9 398.7,34.1 410.3,33.4 422.0,31.4 433.7,34.0 445.3,33.3 457.0,39.4 468.7,37.7 480.3,43.0 492.0,42.8 503.7,41.6 515.3,30.1 527.0,19.6 538.7,9.7 550.3,5.0 562.0,27.6 573.7,44.8 585.3,31.0 597.0,33.7 608.7,29.2 620.3,38.9 632.0,34.0" stroke="#EA7A2C" stroke-width="1.4" fill="none"/>
<polyline points="363.7,67.0 375.3,52.6 387.0,55.9 398.7,54.3 410.3,51.6 422.0,50.2 433.7,50.1 445.3,58.1 457.0,58.2 468.7,58.8 480.3,67.9 492.0,68.9 503.7,70.0 515.3,61.4 527.0,44.7 538.7,50.7 550.3,40.5 562.0,69.5 573.7,89.8 585.3,64.2 597.0,61.7 608.7,58.4 620.3,74.1 632.0,71.4" stroke="#EDB120" stroke-width="1.4" fill="none"/>
<polyline points="363.7,61.9 375.3,51.1 387.0,50.6 398.7,46.9 410.3,45.2 422.0,49.7 433.7,51.6 445.3,52.4 457.0,58.9 468.7,59.4 480.3,61.1 492.0,67.6 503.7,66.2 515.3,55.8 527.0,49.6 538.7,28.8 550.3,36.1 562.0,54.1 573.7,84.2 585.3,67.0 597.0,57.0 608.7,59.0 620.3,67.9 632.0,60.0" stroke="#7E2F8E" stroke-width="1.4" fill="none"/>
<polyline points="363.7,62.8 375.3,51.0 387.0,49.1 398.7,54.9 410.3,45.5 422.0,49.7 433.7,51.2 445.3,52.5 457.0,53.0 468.7,59.6 480.3,63.6 492.0,73.1 503.7,68.3 515.3,52.4 527.0,48.2 538.7,34.4 550.3,32.1 562.0,59.2 573.7,79.3 585.3,63.1 597.0,51.1 608.7,60.7 620.3,65.4 632.0,60.4" stroke="#77AC30" stroke-width="1.4" fill="none"/>
<polyline points="363.7,53.7 375.3,47.4 387.0,44.1 398.7,41.4 410.3,42.6 422.0,41.1 433.7,37.4 445.3,39.9 457.0,46.9 468.7,50.1 480.3,58.6 492.0,57.7 503.7,54.3 515.3,48.9 527.0,28.9 538.7,24.3 550.3,12.9 562.0,49.6 573.7,73.0 585.3,52.8 597.0,48.5 608.7,51.2 620.3,52.3 632.0,54.2" stroke="#4DBEEE" stroke-width="1.4" fill="none"/>
<polyline points="363.7,47.6 375.3,44.4 387.0,40.0 398.7,39.1 410.3,37.1 422.0,35.8 433.7,38.5 445.3,45.4 457.0,46.9 468.7,52.3 480.3,54.0 492.0,54.9 503.7,47.3 515.3,40.0 527.0,29.8 538.7,16.0 550.3,10.0 562.0,34.4 573.7,63.0 585.3,44.3 597.0,41.1 608.7,46.5 620.3,47.6 632.0,47.4" stroke="#A2142F" stroke-width="1.4" fill="none"/>
<polyline points="363.7,48.7 375.3,40.3 387.0,39.1 398.7,38.7 410.3,37.7 422.0,36.3 433.7,40.6 445.3,45.2 457.0,47.1 468.7,50.5 480.3,52.5 492.0,58.7 503.7,46.2 515.3,35.2 527.0,27.1 538.7,14.3 550.3,7.7 562.0,39.9 573.7,55.9 585.3,38.4 597.0,36.0 608.7,48.3 620.3,50.4 632.0,46.4" stroke="#0072BD" stroke-width="1.4" fill="none"/>
<polyline points="363.7,60.9 375.3,53.0 387.0,50.9 398.7,49.0 410.3,43.6 422.0,49.8 433.7,47.2 445.3,52.4 457.0,54.8 468.7,59.1 480.3,62.9 492.0,69.3 503.7,64.3 515.3,53.7 527.0,43.8 538.7,36.2 550.3,22.9 562.0,55.7 573.7,76.7 585.3,63.5 597.0,52.4 608.7,55.7 620.3,64.9 632.0,62.8" stroke="#EA7A2C" stroke-width="1.4" fill="none"/>
<polyline points="363.7,41.0 375.3,41.8 387.0,40.2 398.7,34.4 410.3,37.1 422.0,33.4 433.7,38.1 445.3,39.1 457.0,42.1 468.7,46.9 480.3,54.8 492.0,58.8 503.7,51.4 515.3,38.3 527.0,23.0 538.7,12.4 550.3,8.1 562.0,30.5 573.7,60.6 585.3,42.2 597.0,40.4 608.7,39.5 620.3,41.6 632.0,41.7" stroke="#EDB120" stroke-width="1.4" fill="none"/>
<polyline points="363.7,52.2 375.3,48.0 387.0,43.7 398.7,41.1 410.3,37.3 422.0,37.4 433.7,38.5 445.3,43.4 457.0,45.5 468.7,50.6 480.3,58.5 492.0,58.0 503.7,57.0 515.3,39.0 527.0,30.1 538.7,15.5 550.3,11.8 562.0,37.6 573.7,62.7 585.3,48.2 597.0,37.7 608.7,42.4 620.3,54.1 632.0,46.8" stroke="#7E2F8E" stroke-width="1.4" fill="none"/>
<polyline points="363.7,52.8 375.3,40.2 387.0,40.5 398.7,36.9 410.3,33.7 422.0,36.5 433.7,39.7 445.3,37.9 457.0,42.6 468.7,44.7 480.3,46.2 492.0,54.0 503.7,46.9 515.3,38.4 527.0,25.9 538.7,11.1 550.3,8.2 562.0,34.7 573.7,58.3 585.3,45.3 597.0,37.3 608.7,33.0 620.3,48.3 632.0,37.4" stroke="#77AC30" stroke-width="1.4" fill="none"/>
<polyline points="363.7,50.3 375.3,43.3 387.0,40.8 398.7,42.0 410.3,37.1 422.0,41.9 433.7,43.6 445.3,46.5 457.0,44.4 468.7,46.0 480.3,56.6 492.0,63.4 503.7,52.6 515.3,40.1 527.0,29.1 538.7,17.9 550.3,13.8 562.0,38.4 573.7,64.8 585.3,50.9 597.0,41.0 608.7,45.7 620.3,46.4 632.0,49.7" stroke="#4DBEEE" stroke-width="1.4" fill="none"/>
<polyline points="363.7,56.2 375.3,49.8 387.0,45.7 398.7,47.0 410.3,46.2 422.0,45.9 433.7,43.9 445.3,49.2 457.0,52.7 468.7,55.1 480.3,63.0 492.0,61.5 503.7,59.0 515.3,53.9 527.0,42.2 538.7,27.1 550.3,21.4 562.0,61.4 573.7,79.7 585.3,54.7 597.0,51.1 608.7,53.4 620.3,58.5 632.0,53.6" stroke="#A2142F" stroke-width="1.4" fill="none"/>
<polyline points="363.7,67.0 375.3,56.9 387.0,52.0 398.7,55.4 410.3,48.2 422.0,52.2 433.7,53.9 445.3,58.3 457.0,57.5 468.7,61.0 480.3,67.8 492.0,71.3 503.7,69.9 515.3,57.2 527.0,45.4 538.7,54.0 550.3,45.0 562.0,59.8 573.7,92.7 585.3,67.7 597.0,60.8 608.7,61.2 620.3,70.6 632.0,65.9" stroke="#0072BD" stroke-width="1.4" fill="none"/>
<polyline points="363.7,52.3 375.3,49.7 387.0,43.2 398.7,46.0 410.3,42.5 422.0,44.0 433.7,41.4 445.3,45.5 457.0,48.8 468.7,54.8 480.3,57.8 492.0,59.5 503.7,55.8 515.3,46.0 527.0,32.3 538.7,19.5 550.3,9.8 562.0,40.0 573.7,65.4 585.3,55.3 597.0,44.4 608.7,52.4 620.3,51.7 632.0,52.6" stroke="#EA7A2C" stroke-width="1.4" fill="none"/>
<polyline points="363.7,34.3 375.3,34.3 387.0,34.1 398.7,34.2 410.3,33.9 422.0,30.8 433.7,34.6 445.3,36.7 457.0,39.2 468.7,36.7 480.3,44.1 492.0,50.8 503.7,44.5 515.3,29.8 527.0,25.0 538.7,9.5 550.3,5.0 562.0,29.9 573.7,53.3 585.3,44.2 597.0,29.2 608.7,33.9 620.3,42.0 632.0,38.2" stroke="#EDB120" stroke-width="1.4" fill="none"/>
<polyline points="363.7,53.6 375.3,47.8 387.0,44.3 398.7,41.8 410.3,37.9 422.0,43.5 433.7,40.9 445.3,45.4 457.0,47.4 468.7,52.6 480.3,60.7 492.0,63.9 503.7,56.9 515.3,45.3 527.0,30.5 538.7,18.2 550.3,14.5 562.0,42.1 573.7,65.6 585.3,52.7 597.0,41.0 608.7,56.0 620.3,56.6 632.0,51.0" stroke="#7E2F8E" stroke-width="1.4" fill="none"/>
<polyline points="363.7,45.8 375.3,43.2 387.0,43.8 398.7,40.6 410.3,36.0 422.0,36.6 433.7,38.2 445.3,46.7 457.0,45.4 468.7,49.1 480.3,52.6 492.0,60.2 503.7,54.1 515.3,35.2 527.0,26.3 538.7,12.1 550.3,8.0 562.0,33.7 573.7,58.3 585.3,44.9 597.0,40.8 608.7,48.6 620.3,50.3 632.0,49.4" stroke="#77AC30" stroke-width="1.4" fill="none"/>
<polyline points="363.7,39.2 375.3,39.1 387.0,32.9 398.7,33.3 410.3,32.6 422.0,28.6 433.7,34.1 445.3,35.2 457.0,32.9 468.7,35.0 480.3,44.7 492.0,45.6 503.7,32.9 515.3,27.2 527.0,18.7 538.7,8.8 550.3,4.1 562.0,23.4 573.7,48.2 585.3,28.7 597.0,28.1 608.7,30.6 620.3,33.9 632.0,36.4" stroke="#4DBEEE" stroke-width="1.4" fill="none"/>
<polyline points="363.7,49.2 375.3,54.3 387.0,60.2 398.7,49.0 410.3,57.4 422.0,56.2 433.7,50.4 445.3,43.4 457.0,53.1 468.7,44.9 480.3,69.4 492.0,66.7 503.7,71.1 515.3,54.8 527.0,22.5 538.7,43.5 550.3,40.3 562.0,81.2 573.7,64.9 585.3,49.6 597.0,53.5 608.7,45.7 620.3,47.2 632.0,47.7" stroke="#A2142F" stroke-width="1.4" fill="none"/>
<polyline points="363.7,46.4 375.3,38.9 387.0,41.0 398.7,41.4 410.3,50.2 422.0,48.1 433.7,47.2 445.3,45.8 457.0,49.4 468.7,46.4 480.3,42.4 492.0,76.0 503.7,50.8 515.3,55.2 527.0,28.8 538.7,16.7 550.3,10.4 562.0,25.8 573.7,67.2 585.3,55.4 597.0,54.1 608.7,54.5 620.3,65.5 632.0,54.9" stroke="#0072BD" stroke-width="1.4" fill="none"/>
<polyline points="363.7,25.0 375.3,27.8 387.0,42.9 398.7,32.7 410.3,35.5 422.0,29.7 433.7,28.3 445.3,47.9 457.0,38.4 468.7,50.9 480.3,46.1 492.0,39.9 503.7,28.3 515.3,28.8 527.0,14.7 538.7,4.4 550.3,9.2 562.0,30.3 573.7,55.4 585.3,33.1 597.0,25.7 608.7,34.0 620.3,37.0 632.0,34.0" stroke="#EA7A2C" stroke-width="1.4" fill="none"/>
<polyline points="363.7,25.0 375.3,51.8 387.0,38.8 398.7,47.7 410.3,48.2 422.0,35.3 433.7,46.3 445.3,49.9 457.0,42.1 468.7,45.8 480.3,58.3 492.0,35.6 503.7,48.8 515.3,44.1 527.0,26.6 538.7,7.6 550.3,8.8 562.0,65.5 573.7,84.4 585.3,48.5 597.0,33.2 608.7,47.5 620.3,53.0 632.0,42.4" stroke="#EDB120" stroke-width="1.4" fill="none"/>
<polyline points="363.7,50.2 375.3,47.7 387.0,28.0 398.7,42.0 410.3,36.1 422.0,43.0 433.7,36.4 445.3,42.3 457.0,52.9 468.7,28.1 480.3,62.9 492.0,53.4 503.7,28.3 515.3,21.4 527.0,26.9 538.7,6.9 550.3,13.9 562.0,33.5 573.7,55.7 585.3,52.7 597.0,36.1 608.7,48.1 620.3,54.2 632.0,45.6" stroke="#7E2F8E" stroke-width="1.4" fill="none"/>
<polyline points="363.7,54.1 375.3,29.6 387.0,37.7 398.7,36.9 410.3,34.8 422.0,27.7 433.7,34.7 445.3,43.3 457.0,45.1 468.7,57.3 480.3,45.1 492.0,49.5 503.7,41.9 515.3,34.8 527.0,22.4 538.7,4.4 550.3,9.8 562.0,47.7 573.7,74.9 585.3,32.1 597.0,34.7 608.7,61.3 620.3,46.2 632.0,48.7" stroke="#77AC30" stroke-width="1.4" fill="none"/>
<polyline points="363.7,52.4 375.3,47.0 387.0,43.2 398.7,40.5 410.3,39.2 422.0,40.5 433.7,41.0 445.3,44.8 457.0,47.9 468.7,52.0 480.3,58.0 492.0,60.0 503.7,55.0 515.3,43.0 527.0,30.3 538.7,16.7 550.3,10.6 562.0,40.0 573.7,67.0 585.3,51.0 597.0,42.4 608.7,49.0 620.3,54.0 632.0,51.0" stroke="#F0802E" stroke-width="5.6" fill="none"/>
<polyline points="40.9,191.8 52.5,192.2 64.2,192.0 75.9,192.0 87.5,192.0 99.2,191.7 110.9,191.9 122.5,191.7 134.2,192.3 145.9,191.6 157.5,191.0 169.2,190.6 180.9,190.3 192.5,190.4 204.2,191.4 215.9,192.7 227.5,193.8 239.2,194.9 250.9,193.3 262.5,191.6 274.2,191.4 285.9,191.4 297.5,191.4 309.2,191.5" stroke="#4DBEEE" stroke-width="1.2" fill="none"/>
<polyline points="40.9,192.7 52.5,192.3 64.2,192.3 75.9,192.5 87.5,192.2 99.2,192.3 110.9,192.4 122.5,192.3 134.2,192.2 145.9,192.1 157.5,191.3 169.2,191.5 180.9,191.1 192.5,191.1 204.2,192.0 215.9,192.8 227.5,193.5 239.2,194.0 250.9,193.2 262.5,192.0 274.2,192.0 285.9,192.0 297.5,192.0 309.2,192.1" stroke="#0072BD" stroke-width="1.2" fill="none"/>
<polyline points="40.9,192.5 52.5,192.7 64.2,192.7 75.9,192.6 87.5,192.5 99.2,192.6 110.9,192.2 122.5,192.6 134.2,192.6 145.9,192.1 157.5,192.1 169.2,191.8 180.9,191.9 192.5,191.5 204.2,192.2 215.9,193.0 227.5,193.7 239.2,193.7 250.9,193.2 262.5,192.4 274.2,192.1 285.9,192.5 297.5,192.2 309.2,192.4" stroke="#0072BD" stroke-width="1.2" fill="none"/>
<polyline points="40.9,193.2 52.5,192.9 64.2,192.9 75.9,192.7 87.5,193.2 99.2,193.0 110.9,193.0 122.5,193.0 134.2,192.9 145.9,192.7 157.5,192.5 169.2,192.3 180.9,192.6 192.5,192.2 204.2,192.6 215.9,193.1 227.5,193.5 239.2,193.9 250.9,193.1 262.5,192.5 274.2,192.6 285.9,192.9 297.5,192.8 309.2,192.8" stroke="#3D8FC0" stroke-width="1.2" fill="none"/>
<polyline points="40.9,193.3 52.5,193.2 64.2,193.4 75.9,193.1 87.5,193.2 99.2,193.2 110.9,193.2 122.5,193.2 134.2,193.5 145.9,193.2 157.5,193.0 169.2,192.2 180.9,192.4 192.5,192.4 204.2,193.0 215.9,193.2 227.5,194.3 239.2,194.8 250.9,193.7 262.5,192.9 274.2,192.7 285.9,192.9 297.5,193.0 309.2,193.3" stroke="#A08060" stroke-width="1.2" fill="none"/>
<polyline points="40.9,193.7 52.5,193.6 64.2,193.8 75.9,193.6 87.5,193.7 99.2,193.3 110.9,193.4 122.5,193.3 134.2,193.6 145.9,193.4 157.5,193.0 169.2,192.7 180.9,192.7 192.5,192.6 204.2,193.1 215.9,193.9 227.5,194.9 239.2,195.0 250.9,194.1 262.5,193.1 274.2,192.9 285.9,193.2 297.5,193.4 309.2,193.2" stroke="#8090A0" stroke-width="1.2" fill="none"/>
<polyline points="40.9,193.9 52.5,193.9 64.2,193.6 75.9,193.8 87.5,193.8 99.2,193.7 110.9,193.7 122.5,193.6 134.2,193.6 145.9,193.6 157.5,193.1 169.2,192.9 180.9,192.9 192.5,192.9 204.2,193.7 215.9,193.9 227.5,195.2 239.2,195.6 250.9,194.7 262.5,193.7 274.2,193.4 285.9,193.5 297.5,193.5 309.2,193.7" stroke="#A08060" stroke-width="1.2" fill="none"/>
<polyline points="40.9,194.2 52.5,194.3 64.2,194.1 75.9,194.5 87.5,194.3 99.2,194.4 110.9,194.0 122.5,194.0 134.2,194.0 145.9,194.0 157.5,193.5 169.2,193.4 180.9,193.3 192.5,193.6 204.2,193.7 215.9,194.6 227.5,195.0 239.2,195.4 250.9,194.7 262.5,193.7 274.2,193.7 285.9,193.9 297.5,193.9 309.2,193.9" stroke="#8090A0" stroke-width="1.2" fill="none"/>
<polyline points="40.9,194.6 52.5,194.5 64.2,194.5 75.9,194.2 87.5,194.5 99.2,194.1 110.9,194.4 122.5,194.3 134.2,194.4 145.9,194.0 157.5,193.4 169.2,193.1 180.9,192.7 192.5,192.9 204.2,193.9 215.9,195.0 227.5,196.2 239.2,197.1 250.9,195.7 262.5,193.7 274.2,193.6 285.9,193.6 297.5,194.1 309.2,194.1" stroke="#0072BD" stroke-width="1.2" fill="none"/>
<polyline points="40.9,194.7 52.5,194.7 64.2,194.6 75.9,194.8 87.5,194.6 99.2,194.4 110.9,194.6 122.5,194.7 134.2,194.7 145.9,194.5 157.5,194.7 169.2,194.6 180.9,194.3 192.5,194.4 204.2,194.6 215.9,194.7 227.5,195.2 239.2,195.1 250.9,194.7 262.5,194.5 274.2,194.6 285.9,195.0 297.5,194.6 309.2,194.7" stroke="#0072BD" stroke-width="1.2" fill="none"/>
<polyline points="40.9,195.1 52.5,195.4 64.2,195.0 75.9,195.1 87.5,195.0 99.2,195.1 110.9,194.7 122.5,195.2 134.2,194.8 145.9,194.7 157.5,194.2 169.2,193.9 180.9,193.9 192.5,194.1 204.2,194.7 215.9,195.7 227.5,196.5 239.2,197.1 250.9,196.1 262.5,194.8 274.2,194.4 285.9,194.6 297.5,194.8 309.2,194.7" stroke="#0072BD" stroke-width="1.2" fill="none"/>
<polyline points="40.9,195.5 52.5,195.6 64.2,195.3 75.9,195.3 87.5,195.3 99.2,195.5 110.9,195.0 122.5,195.3 134.2,195.4 145.9,194.9 157.5,195.0 169.2,194.7 180.9,194.4 192.5,194.6 204.2,194.8 215.9,195.6 227.5,196.6 239.2,196.7 250.9,196.3 262.5,195.1 274.2,195.0 285.9,195.0 297.5,194.7 309.2,194.9" stroke="#0072BD" stroke-width="1.2" fill="none"/>
<polyline points="40.9,195.5 52.5,195.5 64.2,195.7 75.9,195.5 87.5,195.3 99.2,195.5 110.9,195.7 122.5,195.4 134.2,195.6 145.9,195.5 157.5,195.0 169.2,194.5 180.9,194.3 192.5,194.6 204.2,195.4 215.9,196.1 227.5,196.9 239.2,197.4 250.9,196.5 262.5,195.3 274.2,195.0 285.9,195.0 297.5,195.0 309.2,195.2" stroke="#0072BD" stroke-width="1.2" fill="none"/>
<polyline points="40.9,195.8 52.5,196.0 64.2,195.9 75.9,196.4 87.5,196.0 99.2,195.8 110.9,196.0 122.5,195.9 134.2,195.7 145.9,195.9 157.5,195.5 169.2,195.0 180.9,195.5 192.5,195.3 204.2,195.9 215.9,196.0 227.5,196.4 239.2,197.1 250.9,196.2 262.5,195.8 274.2,195.8 285.9,195.7 297.5,195.7 309.2,195.7" stroke="#7E2F8E" stroke-width="1.2" fill="none"/>
<polyline points="40.9,196.2 52.5,196.4 64.2,196.4 75.9,196.6 87.5,196.1 99.2,196.1 110.9,196.2 122.5,196.0 134.2,196.1 145.9,195.8 157.5,195.6 169.2,194.9 180.9,194.8 192.5,194.6 204.2,195.6 215.9,197.0 227.5,197.7 239.2,198.5 250.9,197.1 262.5,195.9 274.2,195.5 285.9,195.5 297.5,195.9 309.2,195.8" stroke="#7E2F8E" stroke-width="1.2" fill="none"/>
<polyline points="40.9,196.5 52.5,196.8 64.2,196.6 75.9,196.5 87.5,196.4 99.2,196.5 110.9,196.5 122.5,196.3 134.2,196.5 145.9,196.2 157.5,195.9 169.2,195.5 180.9,195.2 192.5,195.0 204.2,196.1 215.9,197.2 227.5,198.1 239.2,199.0 250.9,197.5 262.5,196.1 274.2,195.7 285.9,196.2 297.5,196.1 309.2,196.0" stroke="#7E2F8E" stroke-width="1.2" fill="none"/>
<polyline points="40.9,196.8 52.5,197.0 64.2,196.9 75.9,196.7 87.5,197.0 99.2,197.0 110.9,196.9 122.5,196.9 134.2,196.9 145.9,196.7 157.5,196.6 169.2,196.3 180.9,196.5 192.5,196.4 204.2,196.9 215.9,196.7 227.5,197.5 239.2,197.8 250.9,197.1 262.5,196.7 274.2,196.7 285.9,196.7 297.5,196.6 309.2,196.6" stroke="#A2142F" stroke-width="1.2" fill="none"/>
<polyline points="40.9,197.4 52.5,197.2 64.2,197.2 75.9,197.2 87.5,197.3 99.2,196.9 110.9,196.8 122.5,197.0 134.2,196.7 145.9,196.6 157.5,196.3 169.2,195.9 180.9,195.5 192.5,195.9 204.2,196.3 215.9,197.8 227.5,198.6 239.2,199.5 250.9,198.4 262.5,196.7 274.2,196.2 285.9,196.4 297.5,196.7 309.2,196.6" stroke="#EDB120" stroke-width="1.2" fill="none"/>
<polyline points="40.9,197.7 52.5,197.4 64.2,197.4 75.9,197.4 87.5,197.6 99.2,197.5 110.9,197.5 122.5,197.3 134.2,197.2 145.9,197.2 157.5,196.7 169.2,196.6 180.9,196.5 192.5,196.3 204.2,197.0 215.9,197.8 227.5,198.9 239.2,199.7 250.9,198.3 262.5,197.1 274.2,196.5 285.9,197.0 297.5,197.1 309.2,196.9" stroke="#EDB120" stroke-width="1.2" fill="none"/>
<polyline points="40.9,197.6 52.5,197.8 64.2,197.8 75.9,197.6 87.5,197.8 99.2,197.9 110.9,197.4 122.5,197.4 134.2,197.6 145.9,197.3 157.5,196.7 169.2,196.5 180.9,196.3 192.5,196.4 204.2,197.3 215.9,198.3 227.5,199.6 239.2,200.4 250.9,199.0 262.5,197.5 274.2,197.2 285.9,197.2 297.5,197.1 309.2,197.4" stroke="#EDB120" stroke-width="1.2" fill="none"/>
<polyline points="40.9,198.3 52.5,198.1 64.2,198.1 75.9,198.1 87.5,198.3 99.2,198.0 110.9,197.9 122.5,197.9 134.2,197.8 145.9,197.7 157.5,197.4 169.2,197.1 180.9,197.2 192.5,196.9 204.2,197.6 215.9,198.4 227.5,199.4 239.2,199.8 250.9,198.8 262.5,197.7 274.2,197.5 285.9,197.5 297.5,197.6 309.2,197.5" stroke="#D0B030" stroke-width="1.2" fill="none"/>
<polyline points="40.9,198.6 52.5,198.4 64.2,198.4 75.9,198.4 87.5,198.2 99.2,198.3 110.9,198.2 122.5,198.2 134.2,198.1 145.9,197.8 157.5,197.7 169.2,197.4 180.9,196.9 192.5,197.1 204.2,197.9 215.9,199.0 227.5,199.6 239.2,200.9 250.9,199.3 262.5,198.2 274.2,197.6 285.9,197.7 297.5,197.9 309.2,198.0" stroke="#F0802E" stroke-width="1.2" fill="none"/>
<polyline points="40.9,198.6 52.5,198.6 64.2,198.4 75.9,198.8 87.5,198.7 99.2,198.6 110.9,198.7 122.5,198.4 134.2,198.5 145.9,198.7 157.5,198.3 169.2,197.7 180.9,197.4 192.5,197.8 204.2,198.5 215.9,198.8 227.5,199.4 239.2,200.0 250.9,199.1 262.5,198.4 274.2,198.4 285.9,198.4 297.5,198.4 309.2,198.3" stroke="#F0802E" stroke-width="1.2" fill="none"/>
<polyline points="40.9,199.0 52.5,199.2 64.2,199.4 75.9,198.8 87.5,198.6 99.2,198.8 110.9,198.9 122.5,198.9 134.2,198.9 145.9,198.4 157.5,198.0 169.2,197.9 180.9,197.4 192.5,197.8 204.2,198.4 215.9,199.6 227.5,200.6 239.2,201.4 250.9,200.1 262.5,198.4 274.2,198.3 285.9,198.3 297.5,198.5 309.2,198.7" stroke="#F0802E" stroke-width="1.2" fill="none"/>
<polyline points="40.9,199.2 52.5,199.2 64.2,199.2 75.9,199.3 87.5,199.1 99.2,199.4 110.9,199.2 122.5,199.1 134.2,198.9 145.9,199.0 157.5,198.7 169.2,198.1 180.9,198.4 192.5,198.5 204.2,198.9 215.9,199.7 227.5,200.7 239.2,201.2 250.9,199.9 262.5,198.9 274.2,198.7 285.9,198.8 297.5,198.5 309.2,199.0" stroke="#F0802E" stroke-width="1.2" fill="none"/>
<polyline points="40.9,199.6 52.5,199.5 64.2,199.7 75.9,199.5 87.5,199.4 99.2,199.6 110.9,199.7 122.5,199.4 134.2,199.6 145.9,199.3 157.5,198.9 169.2,199.0 180.9,198.5 192.5,198.9 204.2,199.1 215.9,199.9 227.5,200.3 239.2,200.9 250.9,200.4 262.5,199.3 274.2,199.1 285.9,199.1 297.5,199.3 309.2,199.0" stroke="#F0802E" stroke-width="1.2" fill="none"/>
<polyline points="40.9,199.8 52.5,199.7 64.2,199.7 75.9,199.8 87.5,199.8 99.2,199.8 110.9,200.0 122.5,199.9 134.2,199.9 145.9,199.6 157.5,199.4 169.2,199.0 180.9,199.1 192.5,198.9 204.2,199.5 215.9,200.2 227.5,200.8 239.2,201.1 250.9,200.2 262.5,199.7 274.2,199.4 285.9,199.7 297.5,199.6 309.2,199.7" stroke="#F0802E" stroke-width="1.2" fill="none"/>
<polyline points="40.9,200.5 52.5,200.6 64.2,200.3 75.9,200.1 87.5,200.3 99.2,200.4 110.9,199.9 122.5,199.9 134.2,199.6 145.9,199.4 157.5,198.9 169.2,198.1 180.9,197.7 192.5,197.7 204.2,199.3 215.9,201.2 227.5,203.0 239.2,204.3 250.9,201.9 262.5,199.8 274.2,198.9 285.9,199.1 297.5,199.5 309.2,199.0" stroke="#F0802E" stroke-width="1.2" fill="none"/>
<polyline points="40.9,200.5 52.5,200.5 64.2,200.7 75.9,200.5 87.5,200.1 99.2,200.3 110.9,200.4 122.5,200.3 134.2,200.1 145.9,199.8 157.5,199.8 169.2,199.5 180.9,199.3 192.5,199.1 204.2,200.3 215.9,200.4 227.5,201.7 239.2,202.7 250.9,201.3 262.5,200.1 274.2,199.6 285.9,200.1 297.5,199.8 309.2,200.1" stroke="#F0802E" stroke-width="1.2" fill="none"/>
<polyline points="40.9,200.7 52.5,200.9 64.2,200.6 75.9,200.6 87.5,200.7 99.2,200.6 110.9,200.7 122.5,200.7 134.2,200.5 145.9,200.3 157.5,199.9 169.2,199.6 180.9,199.6 192.5,199.5 204.2,200.3 215.9,201.2 227.5,202.0 239.2,203.0 250.9,201.6 262.5,200.4 274.2,200.3 285.9,200.0 297.5,200.3 309.2,200.1" stroke="#F0802E" stroke-width="1.2" fill="none"/>
<polyline points="40.9,200.9 52.5,201.0 64.2,201.0 75.9,201.0 87.5,201.2 99.2,201.0 110.9,201.0 122.5,200.9 134.2,200.8 145.9,200.6 157.5,200.2 169.2,200.2 180.9,200.3 192.5,200.2 204.2,200.6 215.9,201.6 227.5,202.1 239.2,202.6 250.9,201.6 262.5,200.6 274.2,200.5 285.9,200.9 297.5,200.7 309.2,200.5" stroke="#F0802E" stroke-width="1.2" fill="none"/>
<polyline points="40.9,201.4 52.5,201.1 64.2,201.4 75.9,201.4 87.5,201.3 99.2,201.4 110.9,201.0 122.5,201.0 134.2,201.4 145.9,201.2 157.5,200.5 169.2,200.6 180.9,200.4 192.5,200.5 204.2,201.0 215.9,201.6 227.5,202.4 239.2,202.9 250.9,202.0 262.5,200.8 274.2,200.4 285.9,200.8 297.5,200.8 309.2,201.0" stroke="#F0802E" stroke-width="1.2" fill="none"/>
<polyline points="40.9,201.8 52.5,201.6 64.2,201.7 75.9,201.8 87.5,201.5 99.2,201.7 110.9,201.6 122.5,201.5 134.2,201.6 145.9,201.1 157.5,200.8 169.2,200.1 180.9,199.9 192.5,200.0 204.2,201.1 215.9,202.1 227.5,203.4 239.2,204.2 250.9,203.1 262.5,201.5 274.2,200.8 285.9,201.2 297.5,201.2 309.2,201.4" stroke="#F0802E" stroke-width="1.2" fill="none"/>
<polyline points="40.9,201.8 52.5,202.2 64.2,202.0 75.9,201.8 87.5,201.8 99.2,201.7 110.9,201.8 122.5,201.6 134.2,202.0 145.9,201.7 157.5,200.9 169.2,200.6 180.9,200.5 192.5,200.4 204.2,201.4 215.9,202.4 227.5,203.3 239.2,204.1 250.9,203.0 262.5,201.8 274.2,201.5 285.9,201.4 297.5,201.6 309.2,201.4" stroke="#F0802E" stroke-width="1.2" fill="none"/>
<polyline points="40.9,202.2 52.5,202.4 64.2,202.1 75.9,202.1 87.5,202.2 99.2,202.3 110.9,201.9 122.5,202.0 134.2,202.0 145.9,201.8 157.5,201.3 169.2,201.0 180.9,200.7 192.5,201.1 204.2,201.8 215.9,202.6 227.5,203.6 239.2,204.8 250.9,203.6 262.5,201.9 274.2,201.6 285.9,201.5 297.5,201.5 309.2,201.9" stroke="#4DBEEE" stroke-width="1.2" fill="none"/>
<polyline points="40.9,202.7 52.5,202.4 64.2,202.6 75.9,202.4 87.5,202.6 99.2,202.4 110.9,202.3 122.5,202.3 134.2,202.5 145.9,202.2 157.5,201.6 169.2,201.2 180.9,201.1 192.5,201.5 204.2,201.8 215.9,202.9 227.5,204.1 239.2,205.0 250.9,203.5 262.5,202.3 274.2,202.0 285.9,202.1 297.5,202.1 309.2,202.3" stroke="#0072BD" stroke-width="1.2" fill="none"/>
<polyline points="40.9,203.2 52.5,202.7 64.2,203.0 75.9,202.7 87.5,202.6 99.2,202.9 110.9,202.6 122.5,202.7 134.2,202.5 145.9,202.7 157.5,202.0 169.2,201.5 180.9,201.5 192.5,201.7 204.2,202.2 215.9,203.4 227.5,204.7 239.2,205.4 250.9,203.9 262.5,202.4 274.2,202.2 285.9,202.0 297.5,201.9 309.2,202.3" stroke="#77AC30" stroke-width="1.2" fill="none"/>
<polyline points="40.9,203.4 52.5,203.2 64.2,203.0 75.9,203.0 87.5,203.2 99.2,203.0 110.9,203.0 122.5,203.0 134.2,203.0 145.9,202.9 157.5,202.7 169.2,202.7 180.9,202.6 192.5,202.2 204.2,203.2 215.9,203.4 227.5,204.2 239.2,204.3 250.9,203.8 262.5,203.0 274.2,202.7 285.9,202.9 297.5,203.0 309.2,202.7" stroke="#0072BD" stroke-width="1.2" fill="none"/>
<polyline points="40.9,203.6 52.5,203.6 64.2,203.4 75.9,203.4 87.5,203.4 99.2,203.2 110.9,203.1 122.5,203.5 134.2,203.2 145.9,203.1 157.5,202.6 169.2,202.5 180.9,202.4 192.5,202.2 204.2,203.0 215.9,203.8 227.5,205.2 239.2,205.8 250.9,204.3 262.5,203.3 274.2,202.8 285.9,203.0 297.5,203.1 309.2,202.9" stroke="#4DBEEE" stroke-width="1.2" fill="none"/>
<polyline points="40.9,203.9 52.5,203.8 64.2,203.6 75.9,204.0 87.5,203.7 99.2,203.6 110.9,203.5 122.5,203.7 134.2,203.7 145.9,203.5 157.5,203.2 169.2,202.6 180.9,202.6 192.5,202.7 204.2,203.3 215.9,204.2 227.5,204.6 239.2,206.0 250.9,204.4 262.5,203.5 274.2,203.3 285.9,203.4 297.5,203.4 309.2,202.9" stroke="#A060A8" stroke-width="1.2" fill="none"/>
<polyline points="40.9,204.2 52.5,203.9 64.2,203.9 75.9,203.7 87.5,204.2 99.2,204.1 110.9,203.8 122.5,203.9 134.2,203.9 145.9,203.6 157.5,203.5 169.2,203.4 180.9,203.3 192.5,203.5 204.2,203.7 215.9,204.3 227.5,205.0 239.2,205.3 250.9,204.4 262.5,204.0 274.2,203.6 285.9,203.7 297.5,203.9 309.2,203.6" stroke="#A060A8" stroke-width="1.2" fill="none"/>
<polyline points="40.9,204.5 52.5,204.4 64.2,204.5 75.9,204.2 87.5,204.0 99.2,204.3 110.9,204.1 122.5,204.3 134.2,204.1 145.9,203.8 157.5,203.4 169.2,203.1 180.9,202.8 192.5,202.8 204.2,203.8 215.9,204.9 227.5,206.2 239.2,207.3 250.9,205.7 262.5,203.9 274.2,203.3 285.9,203.4 297.5,203.5 309.2,203.7" stroke="#7E2F8E" stroke-width="1.2" fill="none"/>
<polyline points="40.9,205.0 52.5,204.6 64.2,204.5 75.9,204.8 87.5,204.7 99.2,204.4 110.9,204.6 122.5,204.4 134.2,204.5 145.9,204.1 157.5,203.6 169.2,202.9 180.9,202.4 192.5,202.7 204.2,203.8 215.9,205.6 227.5,206.8 239.2,208.0 250.9,206.4 262.5,204.3 274.2,203.8 285.9,203.9 297.5,203.7 309.2,203.9" stroke="#7E2F8E" stroke-width="1.2" fill="none"/>
<polyline points="40.9,205.0 52.5,204.6 64.2,205.0 75.9,205.0 87.5,204.8 99.2,204.9 110.9,205.0 122.5,204.8 134.2,204.9 145.9,204.8 157.5,204.4 169.2,204.1 180.9,203.8 192.5,204.1 204.2,204.5 215.9,205.2 227.5,206.2 239.2,206.7 250.9,205.8 262.5,204.8 274.2,204.4 285.9,204.5 297.5,204.7 309.2,204.7" stroke="#D95319" stroke-width="1.2" fill="none"/>
<polyline points="40.9,205.1 52.5,205.4 64.2,205.3 75.9,204.9 87.5,205.0 99.2,205.2 110.9,205.0 122.5,205.2 134.2,205.1 145.9,205.1 157.5,204.7 169.2,204.9 180.9,205.0 192.5,204.6 204.2,205.2 215.9,205.6 227.5,205.9 239.2,206.1 250.9,205.5 262.5,204.9 274.2,205.1 285.9,205.1 297.5,205.2 309.2,205.2" stroke="#D95319" stroke-width="1.2" fill="none"/>
<polyline points="40.9,205.6 52.5,205.4 64.2,205.7 75.9,205.6 87.5,205.5 99.2,205.3 110.9,205.3 122.5,205.1 134.2,205.3 145.9,204.8 157.5,204.4 169.2,204.0 180.9,203.7 192.5,204.0 204.2,204.7 215.9,205.9 227.5,207.8 239.2,209.0 250.9,207.2 262.5,205.1 274.2,204.7 285.9,204.8 297.5,204.7 309.2,204.8" stroke="#D95319" stroke-width="1.2" fill="none"/>
<polyline points="40.9,205.9 52.5,206.2 64.2,205.7 75.9,205.8 87.5,206.0 99.2,205.7 110.9,205.5 122.5,205.5 134.2,205.5 145.9,205.6 157.5,204.9 169.2,204.5 180.9,204.1 192.5,204.4 204.2,205.3 215.9,206.3 227.5,207.6 239.2,208.7 250.9,207.3 262.5,205.4 274.2,205.1 285.9,205.4 297.5,205.2 309.2,205.1" stroke="#D95319" stroke-width="1.2" fill="none"/>
<polyline points="40.9,200.4 52.5,200.4 64.2,200.4 75.9,200.3 87.5,200.3 99.2,200.3 110.9,200.2 122.5,200.2 134.2,200.1 145.9,200.0 157.5,199.6 169.2,199.2 180.9,199.0 192.5,199.1 204.2,199.9 215.9,200.8 227.5,201.8 239.2,202.5 250.9,201.3 262.5,200.0 274.2,199.7 285.9,199.8 297.5,199.9 309.2,199.9" stroke="#F0802E" stroke-width="4" fill="none"/>
<polyline points="363.7,197.0 375.3,197.2 387.0,197.1 398.7,196.7 410.3,197.0 422.0,196.9 433.7,197.0 445.3,196.7 457.0,197.0 468.7,197.0 480.3,197.3 492.0,197.1 503.7,197.1 515.3,196.7 527.0,197.3 538.7,196.6 550.3,197.0 562.0,196.9 573.7,196.9 585.3,196.9 597.0,196.9 608.7,197.1 620.3,197.0 632.0,197.2" stroke="#A070C0" stroke-width="1.2" fill="none"/>
<polyline points="363.7,197.3 375.3,197.1 387.0,197.4 398.7,197.0 410.3,197.2 422.0,197.3 433.7,197.0 445.3,197.4 457.0,197.3 468.7,197.4 480.3,197.4 492.0,197.2 503.7,197.2 515.3,197.2 527.0,197.4 538.7,197.4 550.3,197.1 562.0,197.2 573.7,197.2 585.3,197.2 597.0,197.2 608.7,197.3 620.3,197.6 632.0,197.2" stroke="#A070C0" stroke-width="1.2" fill="none"/>
<polyline points="363.7,197.6 375.3,197.4 387.0,197.5 398.7,197.5 410.3,197.6 422.0,197.3 433.7,197.7 445.3,197.5 457.0,197.6 468.7,197.7 480.3,197.7 492.0,197.8 503.7,197.6 515.3,197.5 527.0,197.5 538.7,197.3 550.3,197.6 562.0,197.4 573.7,197.5 585.3,197.9 597.0,197.5 608.7,197.4 620.3,197.9 632.0,197.5" stroke="#A070C0" stroke-width="1.2" fill="none"/>
<polyline points="363.7,197.7 375.3,197.8 387.0,197.5 398.7,197.5 410.3,197.6 422.0,197.8 433.7,197.9 445.3,198.2 457.0,197.7 468.7,198.0 480.3,197.8 492.0,197.9 503.7,197.7 515.3,197.6 527.0,197.6 538.7,197.4 550.3,197.5 562.0,197.7 573.7,198.2 585.3,197.9 597.0,197.8 608.7,198.0 620.3,198.0 632.0,197.9" stroke="#A070C0" stroke-width="1.2" fill="none"/>
<polyline points="363.7,198.1 375.3,198.3 387.0,198.2 398.7,198.1 410.3,198.2 422.0,198.0 433.7,198.2 445.3,197.9 457.0,198.3 468.7,198.2 480.3,198.2 492.0,198.3 503.7,198.2 515.3,198.1 527.0,198.2 538.7,198.0 550.3,197.8 562.0,198.1 573.7,198.0 585.3,198.4 597.0,198.1 608.7,198.1 620.3,198.5 632.0,198.5" stroke="#A070C0" stroke-width="1.2" fill="none"/>
<polyline points="363.7,198.5 375.3,198.6 387.0,198.6 398.7,198.3 410.3,198.4 422.0,198.6 433.7,198.4 445.3,198.5 457.0,198.5 468.7,198.3 480.3,198.3 492.0,198.1 503.7,198.4 515.3,198.6 527.0,198.1 538.7,198.4 550.3,198.3 562.0,198.4 573.7,198.5 585.3,198.4 597.0,198.2 608.7,198.4 620.3,198.4 632.0,198.5" stroke="#80A0C8" stroke-width="1.2" fill="none"/>
<polyline points="363.7,198.6 375.3,198.8 387.0,198.5 398.7,198.6 410.3,198.7 422.0,198.6 433.7,198.6 445.3,198.7 457.0,198.6 468.7,198.6 480.3,198.7 492.0,198.9 503.7,198.7 515.3,198.9 527.0,198.6 538.7,198.0 550.3,198.4 562.0,198.9 573.7,198.8 585.3,198.6 597.0,198.5 608.7,198.9 620.3,198.9 632.0,198.8" stroke="#80A0C8" stroke-width="1.2" fill="none"/>
<polyline points="363.7,199.2 375.3,199.1 387.0,198.8 398.7,199.0 410.3,198.9 422.0,198.9 433.7,199.0 445.3,199.0 457.0,198.5 468.7,199.2 480.3,199.2 492.0,199.0 503.7,199.0 515.3,199.0 527.0,198.7 538.7,198.8 550.3,198.7 562.0,198.9 573.7,199.0 585.3,198.9 597.0,199.1 608.7,199.2 620.3,199.1 632.0,199.0" stroke="#80A0C8" stroke-width="1.2" fill="none"/>
<polyline points="363.7,199.4 375.3,199.5 387.0,199.0 398.7,199.4 410.3,198.9 422.0,199.2 433.7,199.3 445.3,199.1 457.0,199.0 468.7,199.3 480.3,199.4 492.0,199.2 503.7,199.5 515.3,199.1 527.0,199.5 538.7,199.2 550.3,199.2 562.0,199.3 573.7,199.4 585.3,199.6 597.0,199.6 608.7,199.4 620.3,199.3 632.0,199.1" stroke="#80A0C8" stroke-width="1.2" fill="none"/>
<polyline points="363.7,199.6 375.3,199.5 387.0,199.5 398.7,199.5 410.3,199.6 422.0,199.3 433.7,199.4 445.3,199.7 457.0,199.7 468.7,199.5 480.3,199.8 492.0,199.5 503.7,199.5 515.3,199.3 527.0,199.6 538.7,199.4 550.3,199.5 562.0,199.6 573.7,199.7 585.3,199.6 597.0,199.7 608.7,199.5 620.3,199.6 632.0,199.6" stroke="#80A0C8" stroke-width="1.2" fill="none"/>
<polyline points="363.7,200.0 375.3,200.1 387.0,199.7 398.7,199.9 410.3,199.6 422.0,199.8 433.7,199.7 445.3,200.0 457.0,199.9 468.7,199.8 480.3,200.0 492.0,200.0 503.7,199.9 515.3,199.7 527.0,199.4 538.7,199.8 550.3,199.3 562.0,199.9 573.7,199.9 585.3,199.7 597.0,199.7 608.7,199.8 620.3,200.0 632.0,199.7" stroke="#D08030" stroke-width="1.2" fill="none"/>
<polyline points="363.7,200.4 375.3,199.9 387.0,200.2 398.7,199.8 410.3,200.0 422.0,200.0 433.7,200.2 445.3,199.9 457.0,200.1 468.7,200.3 480.3,200.1 492.0,200.3 503.7,200.1 515.3,199.9 527.0,199.9 538.7,199.7 550.3,199.9 562.0,200.2 573.7,200.6 585.3,200.1 597.0,200.0 608.7,200.1 620.3,199.9 632.0,200.4" stroke="#D08030" stroke-width="1.2" fill="none"/>
<polyline points="363.7,200.3 375.3,200.3 387.0,200.5 398.7,200.5 410.3,200.2 422.0,200.4 433.7,200.3 445.3,200.2 457.0,200.4 468.7,200.4 480.3,200.3 492.0,200.7 503.7,200.2 515.3,200.4 527.0,200.0 538.7,199.9 550.3,199.8 562.0,200.4 573.7,200.4 585.3,200.4 597.0,200.5 608.7,200.3 620.3,200.5 632.0,200.5" stroke="#D08030" stroke-width="1.2" fill="none"/>
<polyline points="363.7,200.8 375.3,200.6 387.0,200.7 398.7,200.6 410.3,200.4 422.0,200.8 433.7,200.5 445.3,200.6 457.0,200.5 468.7,200.7 480.3,200.8 492.0,200.9 503.7,200.9 515.3,200.4 527.0,200.3 538.7,200.3 550.3,200.1 562.0,200.6 573.7,201.2 585.3,200.8 597.0,200.6 608.7,200.7 620.3,201.0 632.0,200.9" stroke="#D08030" stroke-width="1.2" fill="none"/>
<polyline points="363.7,201.1 375.3,200.8 387.0,201.0 398.7,200.9 410.3,200.8 422.0,200.8 433.7,200.6 445.3,201.0 457.0,200.9 468.7,201.0 480.3,201.2 492.0,201.1 503.7,201.0 515.3,200.8 527.0,200.4 538.7,200.8 550.3,200.3 562.0,200.8 573.7,201.4 585.3,200.5 597.0,200.8 608.7,201.0 620.3,200.9 632.0,201.1" stroke="#7E2F8E" stroke-width="1.2" fill="none"/>
<polyline points="363.7,201.3 375.3,201.4 387.0,200.9 398.7,201.0 410.3,201.2 422.0,201.2 433.7,201.1 445.3,201.3 457.0,201.3 468.7,201.1 480.3,201.3 492.0,201.1 503.7,201.0 515.3,200.8 527.0,201.3 538.7,201.0 550.3,201.3 562.0,201.0 573.7,201.3 585.3,201.3 597.0,201.2 608.7,201.3 620.3,201.3 632.0,201.2" stroke="#7E2F8E" stroke-width="1.2" fill="none"/>
<polyline points="363.7,201.4 375.3,201.8 387.0,201.6 398.7,201.7 410.3,201.4 422.0,201.5 433.7,201.4 445.3,201.6 457.0,201.5 468.7,201.6 480.3,201.8 492.0,201.4 503.7,201.6 515.3,201.3 527.0,201.7 538.7,201.5 550.3,201.5 562.0,201.5 573.7,201.8 585.3,201.5 597.0,201.5 608.7,201.4 620.3,201.6 632.0,201.4" stroke="#A2142F" stroke-width="1.2" fill="none"/>
<polyline points="363.7,201.9 375.3,201.8 387.0,201.5 398.7,201.7 410.3,201.8 422.0,201.3 433.7,201.8 445.3,202.0 457.0,201.7 468.7,202.0 480.3,201.8 492.0,202.1 503.7,201.9 515.3,201.7 527.0,201.2 538.7,200.8 550.3,200.7 562.0,201.4 573.7,202.2 585.3,201.8 597.0,201.4 608.7,201.8 620.3,202.0 632.0,201.5" stroke="#A2142F" stroke-width="1.2" fill="none"/>
<polyline points="363.7,202.1 375.3,201.8 387.0,201.6 398.7,201.6 410.3,201.6 422.0,201.8 433.7,201.6 445.3,202.0 457.0,201.9 468.7,202.3 480.3,202.6 492.0,202.3 503.7,202.4 515.3,202.2 527.0,201.3 538.7,200.9 550.3,200.5 562.0,201.7 573.7,202.7 585.3,202.1 597.0,201.9 608.7,202.2 620.3,202.3 632.0,202.4" stroke="#0072BD" stroke-width="1.2" fill="none"/>
<polyline points="363.7,202.6 375.3,202.1 387.0,202.3 398.7,202.0 410.3,201.4 422.0,201.7 433.7,201.8 445.3,202.2 457.0,202.5 468.7,202.5 480.3,202.9 492.0,203.1 503.7,202.5 515.3,202.1 527.0,201.2 538.7,200.5 550.3,200.1 562.0,201.6 573.7,203.3 585.3,202.5 597.0,202.0 608.7,202.3 620.3,202.8 632.0,202.4" stroke="#0072BD" stroke-width="1.2" fill="none"/>
<polyline points="363.7,202.7 375.3,202.6 387.0,202.5 398.7,202.6 410.3,202.5 422.0,202.6 433.7,202.6 445.3,202.5 457.0,202.8 468.7,202.7 480.3,202.9 492.0,202.8 503.7,202.8 515.3,202.5 527.0,202.3 538.7,202.2 550.3,202.1 562.0,202.6 573.7,203.1 585.3,202.8 597.0,202.5 608.7,202.6 620.3,202.8 632.0,202.7" stroke="#0072BD" stroke-width="1.2" fill="none"/>
<polyline points="363.7,203.3 375.3,202.8 387.0,202.6 398.7,202.7 410.3,202.5 422.0,202.4 433.7,202.5 445.3,202.9 457.0,202.9 468.7,203.1 480.3,203.2 492.0,203.2 503.7,203.3 515.3,202.5 527.0,202.2 538.7,201.5 550.3,201.5 562.0,202.6 573.7,203.8 585.3,202.6 597.0,202.9 608.7,202.8 620.3,203.2 632.0,203.1" stroke="#0072BD" stroke-width="1.2" fill="none"/>
<polyline points="363.7,203.3 375.3,203.2 387.0,203.0 398.7,202.8 410.3,202.9 422.0,202.9 433.7,202.7 445.3,203.3 457.0,203.2 468.7,203.0 480.3,203.4 492.0,203.9 503.7,203.7 515.3,203.0 527.0,202.3 538.7,202.0 550.3,202.0 562.0,203.0 573.7,203.8 585.3,203.2 597.0,203.1 608.7,203.2 620.3,203.5 632.0,203.4" stroke="#F0802E" stroke-width="1.2" fill="none"/>
<polyline points="363.7,203.8 375.3,203.3 387.0,202.6 398.7,202.8 410.3,202.7 422.0,202.7 433.7,202.4 445.3,203.0 457.0,203.4 468.7,204.0 480.3,204.4 492.0,204.6 503.7,204.1 515.3,203.1 527.0,201.6 538.7,200.4 550.3,199.7 562.0,202.6 573.7,205.1 585.3,203.6 597.0,202.7 608.7,203.5 620.3,203.8 632.0,204.0" stroke="#F0802E" stroke-width="1.2" fill="none"/>
<polyline points="363.7,204.3 375.3,203.9 387.0,203.3 398.7,203.6 410.3,203.4 422.0,203.2 433.7,203.5 445.3,203.6 457.0,203.8 468.7,203.8 480.3,204.2 492.0,204.3 503.7,204.0 515.3,203.4 527.0,202.9 538.7,202.2 550.3,202.1 562.0,203.0 573.7,204.8 585.3,203.9 597.0,203.6 608.7,203.9 620.3,203.8 632.0,204.2" stroke="#F0802E" stroke-width="1.2" fill="none"/>
<polyline points="363.7,204.3 375.3,204.1 387.0,204.1 398.7,203.8 410.3,203.6 422.0,203.9 433.7,203.5 445.3,203.9 457.0,204.0 468.7,204.4 480.3,204.3 492.0,204.3 503.7,204.1 515.3,203.8 527.0,203.4 538.7,203.2 550.3,202.7 562.0,203.8 573.7,204.4 585.3,204.1 597.0,203.9 608.7,203.9 620.3,204.1 632.0,204.2" stroke="#F0802E" stroke-width="1.2" fill="none"/>
<polyline points="363.7,204.7 375.3,204.2 387.0,203.7 398.7,203.5 410.3,203.7 422.0,203.9 433.7,203.8 445.3,204.2 457.0,204.2 468.7,204.5 480.3,205.2 492.0,205.0 503.7,204.8 515.3,203.9 527.0,203.0 538.7,202.2 550.3,201.4 562.0,203.6 573.7,205.3 585.3,204.3 597.0,203.8 608.7,204.3 620.3,204.6 632.0,204.5" stroke="#F0802E" stroke-width="1.2" fill="none"/>
<polyline points="363.7,204.5 375.3,204.6 387.0,204.5 398.7,204.1 410.3,204.1 422.0,204.6 433.7,204.5 445.3,204.6 457.0,204.7 468.7,204.8 480.3,204.9 492.0,205.2 503.7,204.8 515.3,204.3 527.0,203.9 538.7,203.3 550.3,203.2 562.0,204.1 573.7,205.7 585.3,204.6 597.0,204.3 608.7,204.8 620.3,204.7 632.0,204.6" stroke="#F0802E" stroke-width="1.2" fill="none"/>
<polyline points="363.7,204.6 375.3,204.7 387.0,204.4 398.7,204.4 410.3,204.4 422.0,204.5 433.7,204.7 445.3,204.9 457.0,205.0 468.7,205.1 480.3,205.6 492.0,205.4 503.7,205.2 515.3,204.8 527.0,204.0 538.7,202.9 550.3,202.7 562.0,204.5 573.7,206.0 585.3,205.2 597.0,204.3 608.7,204.7 620.3,205.1 632.0,204.9" stroke="#F0802E" stroke-width="1.2" fill="none"/>
<polyline points="363.7,205.4 375.3,205.1 387.0,204.9 398.7,204.8 410.3,204.8 422.0,204.7 433.7,204.6 445.3,205.2 457.0,205.2 468.7,205.4 480.3,205.7 492.0,205.5 503.7,205.6 515.3,204.8 527.0,204.0 538.7,203.6 550.3,203.1 562.0,204.7 573.7,206.3 585.3,205.5 597.0,204.6 608.7,205.1 620.3,205.6 632.0,205.2" stroke="#F0802E" stroke-width="1.2" fill="none"/>
<polyline points="363.7,205.5 375.3,205.6 387.0,205.8 398.7,205.7 410.3,205.6 422.0,205.7 433.7,205.7 445.3,205.5 457.0,205.6 468.7,205.5 480.3,205.2 492.0,205.5 503.7,205.6 515.3,205.8 527.0,205.4 538.7,206.1 550.3,206.2 562.0,205.5 573.7,205.3 585.3,205.3 597.0,205.8 608.7,205.6 620.3,205.4 632.0,205.7" stroke="#F0802E" stroke-width="1.2" fill="none"/>
<polyline points="363.7,206.0 375.3,205.4 387.0,205.4 398.7,205.4 410.3,205.3 422.0,205.0 433.7,205.4 445.3,205.7 457.0,205.8 468.7,205.9 480.3,206.1 492.0,206.3 503.7,206.1 515.3,205.4 527.0,204.6 538.7,203.5 550.3,203.0 562.0,205.1 573.7,206.7 585.3,206.1 597.0,205.1 608.7,205.8 620.3,206.2 632.0,205.7" stroke="#F0802E" stroke-width="1.2" fill="none"/>
<polyline points="363.7,206.3 375.3,205.7 387.0,205.4 398.7,205.4 410.3,205.4 422.0,205.1 433.7,205.5 445.3,205.7 457.0,205.8 468.7,206.2 480.3,206.7 492.0,206.8 503.7,206.6 515.3,205.4 527.0,204.9 538.7,203.7 550.3,203.0 562.0,205.0 573.7,207.4 585.3,206.1 597.0,205.6 608.7,206.1 620.3,206.7 632.0,206.1" stroke="#F0802E" stroke-width="1.2" fill="none"/>
<polyline points="363.7,206.5 375.3,206.1 387.0,206.1 398.7,205.7 410.3,205.6 422.0,205.6 433.7,205.8 445.3,206.1 457.0,206.2 468.7,206.3 480.3,207.0 492.0,207.0 503.7,206.7 515.3,205.9 527.0,205.0 538.7,203.6 550.3,203.8 562.0,205.8 573.7,207.9 585.3,206.8 597.0,205.7 608.7,206.2 620.3,206.7 632.0,206.6" stroke="#F0802E" stroke-width="1.2" fill="none"/>
<polyline points="363.7,206.7 375.3,206.7 387.0,206.2 398.7,206.3 410.3,206.4 422.0,206.2 433.7,206.4 445.3,206.4 457.0,206.3 468.7,206.7 480.3,207.0 492.0,207.0 503.7,206.9 515.3,206.4 527.0,205.8 538.7,205.2 550.3,204.9 562.0,206.2 573.7,207.3 585.3,206.6 597.0,206.5 608.7,206.3 620.3,206.9 632.0,206.4" stroke="#F0802E" stroke-width="1.2" fill="none"/>
<polyline points="363.7,207.1 375.3,206.8 387.0,206.9 398.7,206.4 410.3,206.5 422.0,206.5 433.7,206.6 445.3,206.7 457.0,206.8 468.7,207.0 480.3,207.4 492.0,207.3 503.7,207.1 515.3,206.6 527.0,206.0 538.7,205.4 550.3,205.2 562.0,206.5 573.7,207.3 585.3,207.1 597.0,206.6 608.7,206.7 620.3,207.0 632.0,207.0" stroke="#F0802E" stroke-width="1.2" fill="none"/>
<polyline points="363.7,207.4 375.3,207.3 387.0,207.2 398.7,206.5 410.3,206.7 422.0,206.5 433.7,206.5 445.3,206.8 457.0,207.2 468.7,207.3 480.3,207.6 492.0,208.0 503.7,207.6 515.3,206.8 527.0,206.4 538.7,205.4 550.3,204.8 562.0,206.5 573.7,208.1 585.3,207.3 597.0,206.9 608.7,207.3 620.3,207.5 632.0,207.1" stroke="#F0802E" stroke-width="1.2" fill="none"/>
<polyline points="363.7,207.7 375.3,207.1 387.0,206.8 398.7,206.8 410.3,206.7 422.0,206.9 433.7,206.6 445.3,207.4 457.0,207.1 468.7,207.7 480.3,208.3 492.0,208.4 503.7,207.7 515.3,207.1 527.0,206.2 538.7,205.1 550.3,204.4 562.0,207.0 573.7,208.6 585.3,207.6 597.0,206.8 608.7,207.4 620.3,207.8 632.0,207.7" stroke="#5A9A70" stroke-width="1.2" fill="none"/>
<polyline points="363.7,207.9 375.3,207.9 387.0,207.6 398.7,207.6 410.3,207.6 422.0,207.4 433.7,207.5 445.3,207.7 457.0,207.8 468.7,208.1 480.3,208.2 492.0,208.0 503.7,207.9 515.3,207.5 527.0,206.9 538.7,207.1 550.3,206.9 562.0,207.2 573.7,208.2 585.3,208.2 597.0,207.7 608.7,207.8 620.3,207.9 632.0,207.7" stroke="#5A9A70" stroke-width="1.2" fill="none"/>
<polyline points="363.7,205.3 375.3,205.0 387.0,204.8 398.7,204.7 410.3,204.6 422.0,204.7 433.7,204.7 445.3,204.9 457.0,205.1 468.7,205.3 480.3,205.6 492.0,205.8 503.7,205.5 515.3,204.8 527.0,204.1 538.7,203.4 550.3,203.0 562.0,204.6 573.7,206.1 585.3,205.3 597.0,204.8 608.7,205.1 620.3,205.4 632.0,205.3" stroke="#F0802E" stroke-width="4.6" fill="none"/>
</g>
<g font-family="Liberation Sans, sans-serif" font-size="9.5" fill="#4a4a4a"><line x1="28.7" y1="103.4" x2="309.7" y2="103.4" stroke="#444" stroke-width="1.2"/>
<line x1="29.2" y1="100.5" x2="29.2" y2="103.4" stroke="#444" stroke-width="1.1"/>
<text x="29.2" y="115" text-anchor="middle">0</text>
<line x1="52.5" y1="100.5" x2="52.5" y2="103.4" stroke="#444" stroke-width="1.1"/>
<text x="52.5" y="115" text-anchor="middle">2</text>
<line x1="75.9" y1="100.5" x2="75.9" y2="103.4" stroke="#444" stroke-width="1.1"/>
<text x="75.9" y="115" text-anchor="middle">4</text>
<line x1="99.2" y1="100.5" x2="99.2" y2="103.4" stroke="#444" stroke-width="1.1"/>
<text x="99.2" y="115" text-anchor="middle">6</text>
<line x1="122.5" y1="100.5" x2="122.5" y2="103.4" stroke="#444" stroke-width="1.1"/>
<text x="122.5" y="115" text-anchor="middle">8</text>
<line x1="145.9" y1="100.5" x2="145.9" y2="103.4" stroke="#444" stroke-width="1.1"/>
<text x="145.9" y="115" text-anchor="middle">10</text>
<line x1="169.2" y1="100.5" x2="169.2" y2="103.4" stroke="#444" stroke-width="1.1"/>
<text x="169.2" y="115" text-anchor="middle">12</text>
<line x1="192.5" y1="100.5" x2="192.5" y2="103.4" stroke="#444" stroke-width="1.1"/>
<text x="192.5" y="115" text-anchor="middle">14</text>
<line x1="215.9" y1="100.5" x2="215.9" y2="103.4" stroke="#444" stroke-width="1.1"/>
<text x="215.9" y="115" text-anchor="middle">16</text>
<line x1="239.2" y1="100.5" x2="239.2" y2="103.4" stroke="#444" stroke-width="1.1"/>
<text x="239.2" y="115" text-anchor="middle">18</text>
<line x1="262.5" y1="100.5" x2="262.5" y2="103.4" stroke="#444" stroke-width="1.1"/>
<text x="262.5" y="115" text-anchor="middle">20</text>
<line x1="285.9" y1="100.5" x2="285.9" y2="103.4" stroke="#444" stroke-width="1.1"/>
<text x="285.9" y="115" text-anchor="middle">22</text>
<line x1="309.2" y1="100.5" x2="309.2" y2="103.4" stroke="#444" stroke-width="1.1"/>
<text x="309.2" y="115" text-anchor="middle">24</text><line x1="351.7" y1="103.4" x2="632.7" y2="103.4" stroke="#444" stroke-width="1.2"/>
<line x1="352.2" y1="100.5" x2="352.2" y2="103.4" stroke="#444" stroke-width="1.1"/>
<text x="352.2" y="115" text-anchor="middle">0</text>
<line x1="375.5" y1="100.5" x2="375.5" y2="103.4" stroke="#444" stroke-width="1.1"/>
<text x="375.5" y="115" text-anchor="middle">2</text>
<line x1="398.9" y1="100.5" x2="398.9" y2="103.4" stroke="#444" stroke-width="1.1"/>
<text x="398.9" y="115" text-anchor="middle">4</text>
<line x1="422.2" y1="100.5" x2="422.2" y2="103.4" stroke="#444" stroke-width="1.1"/>
<text x="422.2" y="115" text-anchor="middle">6</text>
<line x1="445.5" y1="100.5" x2="445.5" y2="103.4" stroke="#444" stroke-width="1.1"/>
<text x="445.5" y="115" text-anchor="middle">8</text>
<line x1="468.9" y1="100.5" x2="468.9" y2="103.4" stroke="#444" stroke-width="1.1"/>
<text x="468.9" y="115" text-anchor="middle">10</text>
<line x1="492.2" y1="100.5" x2="492.2" y2="103.4" stroke="#444" stroke-width="1.1"/>
<text x="492.2" y="115" text-anchor="middle">12</text>
<line x1="515.5" y1="100.5" x2="515.5" y2="103.4" stroke="#444" stroke-width="1.1"/>
<text x="515.5" y="115" text-anchor="middle">14</text>
<line x1="538.9" y1="100.5" x2="538.9" y2="103.4" stroke="#444" stroke-width="1.1"/>
<text x="538.9" y="115" text-anchor="middle">16</text>
<line x1="562.2" y1="100.5" x2="562.2" y2="103.4" stroke="#444" stroke-width="1.1"/>
<text x="562.2" y="115" text-anchor="middle">18</text>
<line x1="585.5" y1="100.5" x2="585.5" y2="103.4" stroke="#444" stroke-width="1.1"/>
<text x="585.5" y="115" text-anchor="middle">20</text>
<line x1="608.9" y1="100.5" x2="608.9" y2="103.4" stroke="#444" stroke-width="1.1"/>
<text x="608.9" y="115" text-anchor="middle">22</text>
<line x1="632.2" y1="100.5" x2="632.2" y2="103.4" stroke="#444" stroke-width="1.1"/>
<text x="632.2" y="115" text-anchor="middle">24</text><line x1="28.7" y1="219.9" x2="309.7" y2="219.9" stroke="#444" stroke-width="1.2"/>
<line x1="29.2" y1="217.0" x2="29.2" y2="219.9" stroke="#444" stroke-width="1.1"/>
<text x="29.2" y="231.7" text-anchor="middle">0</text>
<line x1="52.5" y1="217.0" x2="52.5" y2="219.9" stroke="#444" stroke-width="1.1"/>
<text x="52.5" y="231.7" text-anchor="middle">2</text>
<line x1="75.9" y1="217.0" x2="75.9" y2="219.9" stroke="#444" stroke-width="1.1"/>
<text x="75.9" y="231.7" text-anchor="middle">4</text>
<line x1="99.2" y1="217.0" x2="99.2" y2="219.9" stroke="#444" stroke-width="1.1"/>
<text x="99.2" y="231.7" text-anchor="middle">6</text>
<line x1="122.5" y1="217.0" x2="122.5" y2="219.9" stroke="#444" stroke-width="1.1"/>
<text x="122.5" y="231.7" text-anchor="middle">8</text>
<line x1="145.9" y1="217.0" x2="145.9" y2="219.9" stroke="#444" stroke-width="1.1"/>
<text x="145.9" y="231.7" text-anchor="middle">10</text>
<line x1="169.2" y1="217.0" x2="169.2" y2="219.9" stroke="#444" stroke-width="1.1"/>
<text x="169.2" y="231.7" text-anchor="middle">12</text>
<line x1="192.5" y1="217.0" x2="192.5" y2="219.9" stroke="#444" stroke-width="1.1"/>
<text x="192.5" y="231.7" text-anchor="middle">14</text>
<line x1="215.9" y1="217.0" x2="215.9" y2="219.9" stroke="#444" stroke-width="1.1"/>
<text x="215.9" y="231.7" text-anchor="middle">16</text>
<line x1="239.2" y1="217.0" x2="239.2" y2="219.9" stroke="#444" stroke-width="1.1"/>
<text x="239.2" y="231.7" text-anchor="middle">18</text>
<line x1="262.5" y1="217.0" x2="262.5" y2="219.9" stroke="#444" stroke-width="1.1"/>
<text x="262.5" y="231.7" text-anchor="middle">20</text>
<line x1="285.9" y1="217.0" x2="285.9" y2="219.9" stroke="#444" stroke-width="1.1"/>
<text x="285.9" y="231.7" text-anchor="middle">22</text>
<line x1="309.2" y1="217.0" x2="309.2" y2="219.9" stroke="#444" stroke-width="1.1"/>
<text x="309.2" y="231.7" text-anchor="middle">24</text><line x1="351.7" y1="219.9" x2="632.7" y2="219.9" stroke="#444" stroke-width="1.2"/>
<line x1="352.2" y1="217.0" x2="352.2" y2="219.9" stroke="#444" stroke-width="1.1"/>
<text x="352.2" y="231.7" text-anchor="middle">0</text>
<line x1="375.5" y1="217.0" x2="375.5" y2="219.9" stroke="#444" stroke-width="1.1"/>
<text x="375.5" y="231.7" text-anchor="middle">2</text>
<line x1="398.9" y1="217.0" x2="398.9" y2="219.9" stroke="#444" stroke-width="1.1"/>
<text x="398.9" y="231.7" text-anchor="middle">4</text>
<line x1="422.2" y1="217.0" x2="422.2" y2="219.9" stroke="#444" stroke-width="1.1"/>
<text x="422.2" y="231.7" text-anchor="middle">6</text>
<line x1="445.5" y1="217.0" x2="445.5" y2="219.9" stroke="#444" stroke-width="1.1"/>
<text x="445.5" y="231.7" text-anchor="middle">8</text>
<line x1="468.9" y1="217.0" x2="468.9" y2="219.9" stroke="#444" stroke-width="1.1"/>
<text x="468.9" y="231.7" text-anchor="middle">10</text>
<line x1="492.2" y1="217.0" x2="492.2" y2="219.9" stroke="#444" stroke-width="1.1"/>
<text x="492.2" y="231.7" text-anchor="middle">12</text>
<line x1="515.5" y1="217.0" x2="515.5" y2="219.9" stroke="#444" stroke-width="1.1"/>
<text x="515.5" y="231.7" text-anchor="middle">14</text>
<line x1="538.9" y1="217.0" x2="538.9" y2="219.9" stroke="#444" stroke-width="1.1"/>
<text x="538.9" y="231.7" text-anchor="middle">16</text>
<line x1="562.2" y1="217.0" x2="562.2" y2="219.9" stroke="#444" stroke-width="1.1"/>
<text x="562.2" y="231.7" text-anchor="middle">18</text>
<line x1="585.5" y1="217.0" x2="585.5" y2="219.9" stroke="#444" stroke-width="1.1"/>
<text x="585.5" y="231.7" text-anchor="middle">20</text>
<line x1="608.9" y1="217.0" x2="608.9" y2="219.9" stroke="#444" stroke-width="1.1"/>
<text x="608.9" y="231.7" text-anchor="middle">22</text>
<line x1="632.2" y1="217.0" x2="632.2" y2="219.9" stroke="#444" stroke-width="1.1"/>
<text x="632.2" y="231.7" text-anchor="middle">24</text></g>
<line x1="204.5" y1="158" x2="229.5" y2="185.6" stroke="#F00" stroke-width="1.6"/><polygon points="233.5,190 227.1,187.7 231.8,183.4" fill="#F00"/><line x1="515.5" y1="159.3" x2="540.0" y2="186.8" stroke="#F00" stroke-width="1.6"/><polygon points="544,191.3 537.6,188.9 542.4,184.7" fill="#F00"/><line x1="548.4" y1="161.6" x2="572.7" y2="189.7" stroke="#F00" stroke-width="1.6"/><polygon points="576.6,194.2 570.3,191.8 575.1,187.6" fill="#F00"/>
<g font-family="Liberation Sans, sans-serif" font-size="13.6" fill="#F00" stroke="#F00" stroke-width="0.15">
<text x="290.6" y="14.1" textLength="80.7" lengthAdjust="spacingAndGlyphs">Z-Normalized</text>
<text x="276.4" y="155.8" textLength="110.5" lengthAdjust="spacingAndGlyphs">Non-Z-Normalized</text>
<text x="168.6" y="156.4" textLength="35.7" lengthAdjust="spacingAndGlyphs">Valley</text>
<text x="483.2" y="156.6" textLength="28.8" lengthAdjust="spacingAndGlyphs">Peak</text>
<text x="550" y="156.2" textLength="37" lengthAdjust="spacingAndGlyphs">Valley</text>
</g>
<g font-family="Liberation Serif, serif" font-size="21.5" font-weight="bold" fill="#000">
<text x="1" y="274.7">Figure</text>
<text x="67" y="274.7">12:</text>
<text x="102.5" y="274.7">The</text>
<text x="145.5" y="274.7">X-axis</text>
<text x="211" y="274.7">and</text>
<text x="251" y="274.7">Z-axis</text>
<text x="317" y="274.7">are</text>
<text x="352" y="274.7">not</text>
<text x="410" y="274.7">plot</text>
<text x="458" y="274.7">scale</text>
<text x="533" y="274.7">with</text>
<text x="579.5" y="274.7">matching</text>
</g>
</svg>
</body></html>
